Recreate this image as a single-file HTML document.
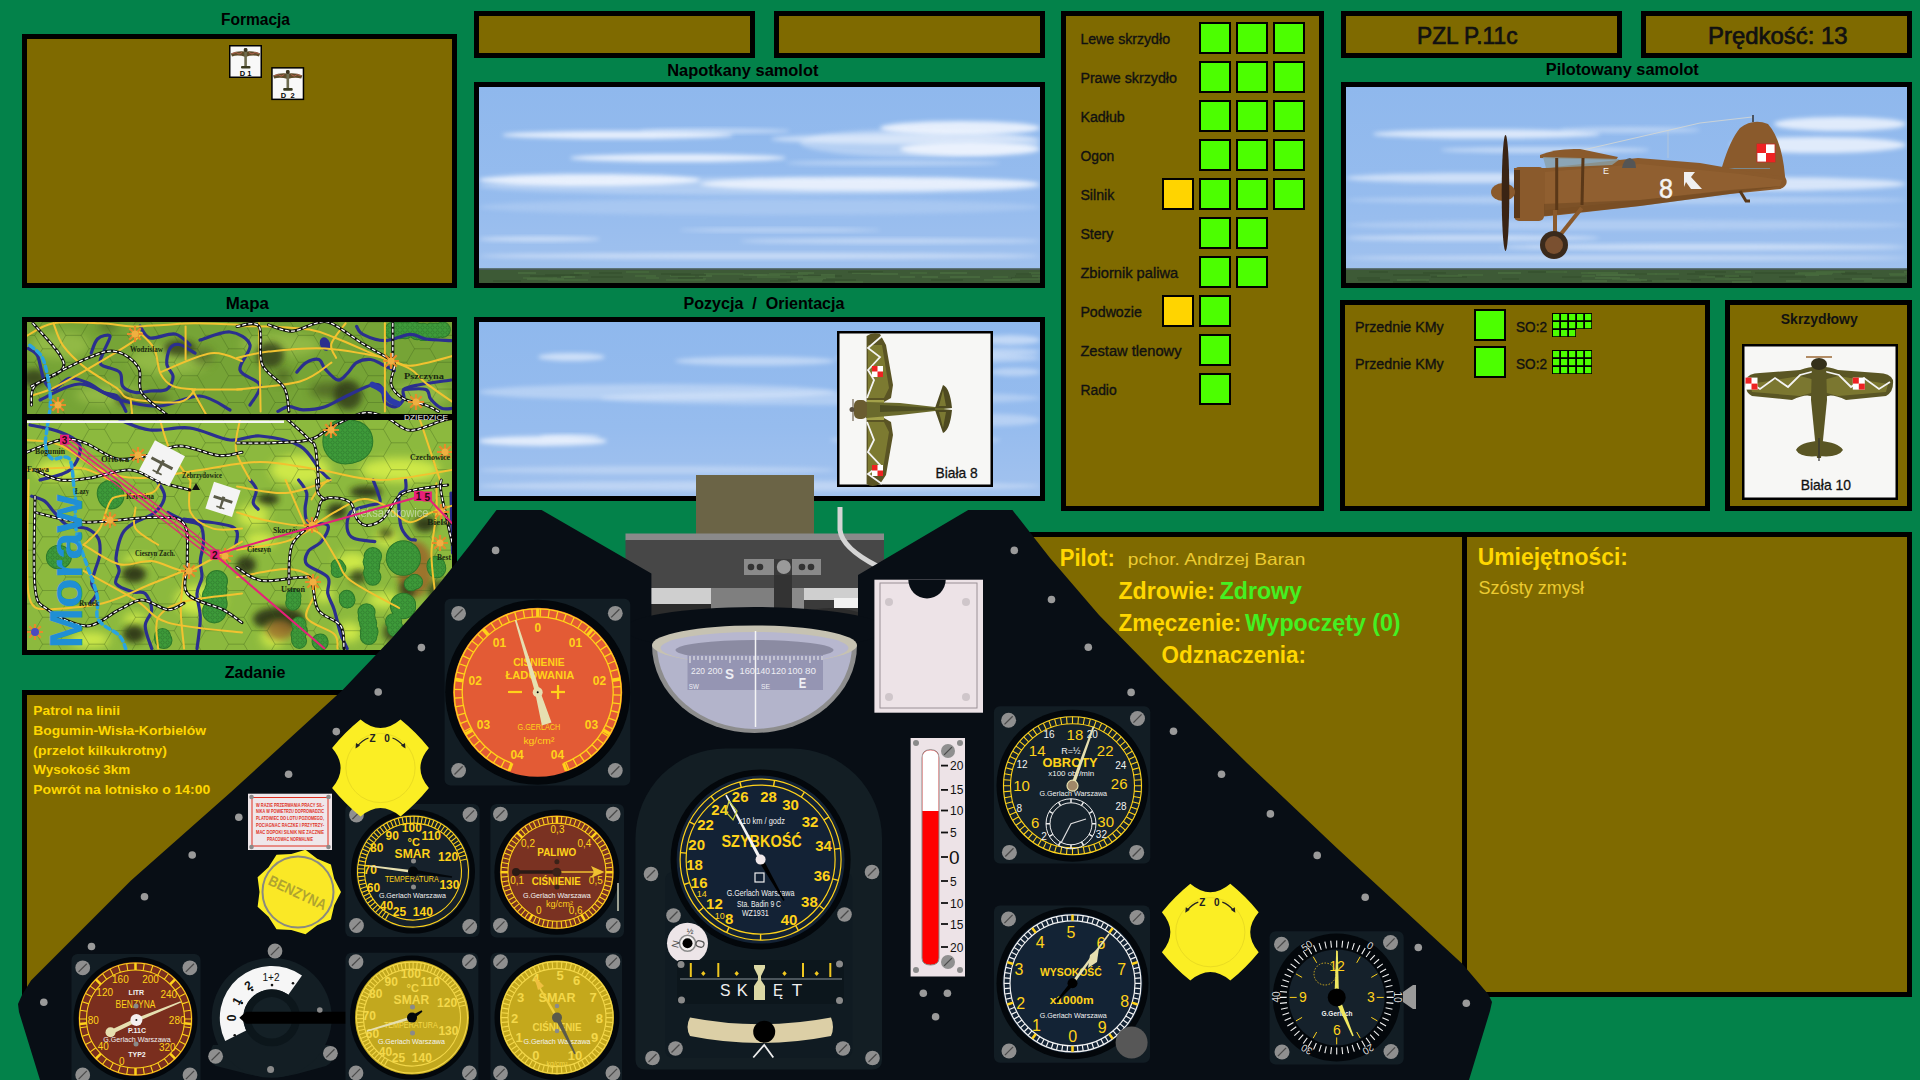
<!DOCTYPE html>
<html><head><meta charset="utf-8">
<style>
*{margin:0;padding:0}
html,body{width:1920px;height:1080px;overflow:hidden;background:#03824a}
svg{position:absolute;left:0;top:0;display:block}
</style></head><body>
<svg width="1920" height="1080" viewBox="0 0 1920 1080">
<rect x="0" y="0" width="1920" height="1080" fill="#03824a"/>
<defs><linearGradient id="skyg" x1="0" y1="0" x2="0" y2="1"><stop offset="0" stop-color="#8fb8ed"/><stop offset="0.6" stop-color="#96bcee"/><stop offset="1" stop-color="#a2c2ee"/></linearGradient><filter id="blur2" x="-20%" y="-50%" width="140%" height="200%"><feGaussianBlur stdDeviation="2"/></filter><filter id="blur1"><feGaussianBlur stdDeviation="1"/></filter><filter id="blur4" x="-20%" y="-50%" width="140%" height="200%"><feGaussianBlur stdDeviation="4"/></filter></defs>
<text x="220.9" y="24.7" font-family="Liberation Sans" font-size="16" font-weight="bold" fill="#000" text-anchor="start" textLength="69.1" lengthAdjust="spacingAndGlyphs" >Formacja</text>
<text x="667.2" y="76.0" font-family="Liberation Sans" font-size="16" font-weight="bold" fill="#000" text-anchor="start" textLength="151.2" lengthAdjust="spacingAndGlyphs" >Napotkany samolot</text>
<text x="1545.8" y="75.0" font-family="Liberation Sans" font-size="16" font-weight="bold" fill="#000" text-anchor="start" textLength="153.0" lengthAdjust="spacingAndGlyphs" >Pilotowany samolot</text>
<text x="225.8" y="308.8" font-family="Liberation Sans" font-size="16" font-weight="bold" fill="#000" text-anchor="start" textLength="43.2" lengthAdjust="spacingAndGlyphs" >Mapa</text>
<text x="683.5" y="308.8" font-family="Liberation Sans" font-size="16" font-weight="bold" fill="#000" text-anchor="start" textLength="161.0" lengthAdjust="spacingAndGlyphs" xml:space="preserve">Pozycja  /  Orientacja</text>
<text x="224.8" y="677.7" font-family="Liberation Sans" font-size="16" font-weight="bold" fill="#000" text-anchor="start" textLength="60.7" lengthAdjust="spacingAndGlyphs" >Zadanie</text>
<rect x="22" y="34" width="435" height="254" fill="#000"/>
<rect x="27" y="39" width="425" height="244" fill="#7f6a00"/>
<rect x="474" y="11" width="281" height="47" fill="#000"/>
<rect x="479" y="16" width="271" height="37" fill="#7f6a00"/>
<rect x="774" y="11" width="271" height="47" fill="#000"/>
<rect x="779" y="16" width="261" height="37" fill="#7f6a00"/>
<rect x="1341" y="11" width="281" height="47" fill="#000"/>
<rect x="1346" y="16" width="271" height="37" fill="#7f6a00"/>
<rect x="1641" y="11" width="271" height="47" fill="#000"/>
<rect x="1646" y="16" width="261" height="37" fill="#7f6a00"/>
<text x="1417.0" y="43.8" font-family="Liberation Sans" font-size="24" font-weight="normal" fill="#111" text-anchor="start" textLength="100.5" lengthAdjust="spacingAndGlyphs" stroke="#111" stroke-width="0.7" >PZL P.11c</text>
<text x="1708.0" y="43.8" font-family="Liberation Sans" font-size="24" font-weight="normal" fill="#111" text-anchor="start" textLength="139.5" lengthAdjust="spacingAndGlyphs" stroke="#111" stroke-width="0.7" >Prędkość: 13</text>
<rect x="22" y="690" width="470" height="307" fill="#000"/>
<rect x="27" y="695" width="460" height="297" fill="#7f6a00"/>
<rect x="960" y="532" width="508" height="465" fill="#000"/>
<rect x="965" y="537" width="498" height="455" fill="#7f6a00"/>
<rect x="1462" y="532" width="450" height="465" fill="#000"/>
<rect x="1467" y="537" width="440" height="455" fill="#7f6a00"/>
<text x="33.3" y="715.3" font-family="Liberation Sans" font-size="13" font-weight="bold" fill="#ffd700" text-anchor="start" textLength="86.7" lengthAdjust="spacingAndGlyphs" >Patrol na linii</text>
<text x="33.3" y="735.0" font-family="Liberation Sans" font-size="13" font-weight="bold" fill="#ffd700" text-anchor="start" textLength="172.7" lengthAdjust="spacingAndGlyphs" >Bogumin-Wisła-Korbielów</text>
<text x="33.3" y="754.6" font-family="Liberation Sans" font-size="13" font-weight="bold" fill="#ffd700" text-anchor="start" textLength="133.7" lengthAdjust="spacingAndGlyphs" >(przelot kilkukrotny)</text>
<text x="33.3" y="774.2" font-family="Liberation Sans" font-size="13" font-weight="bold" fill="#ffd700" text-anchor="start" textLength="97.0" lengthAdjust="spacingAndGlyphs" >Wysokość 3km</text>
<text x="33.3" y="793.6" font-family="Liberation Sans" font-size="13" font-weight="bold" fill="#ffd700" text-anchor="start" textLength="177.0" lengthAdjust="spacingAndGlyphs" >Powrót na lotnisko o 14:00</text>
<text x="1059.7" y="565.7" font-family="Liberation Sans" font-size="23" font-weight="bold" fill="#ffd700" text-anchor="start" textLength="55.1" lengthAdjust="spacingAndGlyphs" >Pilot:</text>
<text x="1127.8" y="565.3" font-family="Liberation Sans" font-size="17" font-weight="normal" fill="#ecca30" text-anchor="start" textLength="177.6" lengthAdjust="spacingAndGlyphs" >pchor. Andrzej Baran</text>
<text x="1118.4" y="598.8" font-family="Liberation Sans" font-size="24" font-weight="bold" fill="#ffd700" text-anchor="start" textLength="96.6" lengthAdjust="spacingAndGlyphs" >Zdrowie:</text>
<text x="1219.7" y="598.8" font-family="Liberation Sans" font-size="24" font-weight="bold" fill="#44f022" text-anchor="start" textLength="82.3" lengthAdjust="spacingAndGlyphs" >Zdrowy</text>
<text x="1118.4" y="631.0" font-family="Liberation Sans" font-size="24" font-weight="bold" fill="#ffd700" text-anchor="start" textLength="122.9" lengthAdjust="spacingAndGlyphs" >Zmęczenie:</text>
<text x="1245.0" y="631.0" font-family="Liberation Sans" font-size="24" font-weight="bold" fill="#44f022" text-anchor="start" textLength="155.6" lengthAdjust="spacingAndGlyphs" >Wypoczęty (0)</text>
<text x="1161.6" y="662.8" font-family="Liberation Sans" font-size="24" font-weight="bold" fill="#ffd700" text-anchor="start" textLength="144.4" lengthAdjust="spacingAndGlyphs" >Odznaczenia:</text>
<text x="1477.7" y="564.9" font-family="Liberation Sans" font-size="23" font-weight="bold" fill="#ffd700" text-anchor="start" textLength="150.2" lengthAdjust="spacingAndGlyphs" >Umiejętności:</text>
<text x="1478.5" y="593.5" font-family="Liberation Sans" font-size="18" font-weight="normal" fill="#ecca30" text-anchor="start" textLength="105.5" lengthAdjust="spacingAndGlyphs" >Szósty zmysł</text>
<rect x="1061" y="11" width="263" height="500" fill="#000"/>
<rect x="1066" y="16" width="253" height="490" fill="#7f6a00"/>
<text x="1080.4" y="43.6" font-family="Liberation Sans" font-size="14" font-weight="normal" fill="#111" text-anchor="start" textLength="89.6" lengthAdjust="spacingAndGlyphs" stroke="#111" stroke-width="0.35" >Lewe skrzydło</text>
<rect x="1199" y="22" width="32" height="32" fill="#000"/><rect x="1201" y="24" width="28" height="28" fill="#4cff00"/>
<rect x="1236" y="22" width="32" height="32" fill="#000"/><rect x="1238" y="24" width="28" height="28" fill="#4cff00"/>
<rect x="1273" y="22" width="32" height="32" fill="#000"/><rect x="1275" y="24" width="28" height="28" fill="#4cff00"/>
<text x="1080.4" y="82.6" font-family="Liberation Sans" font-size="14" font-weight="normal" fill="#111" text-anchor="start" textLength="96.5" lengthAdjust="spacingAndGlyphs" stroke="#111" stroke-width="0.35" >Prawe skrzydło</text>
<rect x="1199" y="61" width="32" height="32" fill="#000"/><rect x="1201" y="63" width="28" height="28" fill="#4cff00"/>
<rect x="1236" y="61" width="32" height="32" fill="#000"/><rect x="1238" y="63" width="28" height="28" fill="#4cff00"/>
<rect x="1273" y="61" width="32" height="32" fill="#000"/><rect x="1275" y="63" width="28" height="28" fill="#4cff00"/>
<text x="1080.4" y="121.6" font-family="Liberation Sans" font-size="14" font-weight="normal" fill="#111" text-anchor="start" textLength="44.4" lengthAdjust="spacingAndGlyphs" stroke="#111" stroke-width="0.35" >Kadłub</text>
<rect x="1199" y="100" width="32" height="32" fill="#000"/><rect x="1201" y="102" width="28" height="28" fill="#4cff00"/>
<rect x="1236" y="100" width="32" height="32" fill="#000"/><rect x="1238" y="102" width="28" height="28" fill="#4cff00"/>
<rect x="1273" y="100" width="32" height="32" fill="#000"/><rect x="1275" y="102" width="28" height="28" fill="#4cff00"/>
<text x="1080.4" y="160.6" font-family="Liberation Sans" font-size="14" font-weight="normal" fill="#111" text-anchor="start" textLength="33.9" lengthAdjust="spacingAndGlyphs" stroke="#111" stroke-width="0.35" >Ogon</text>
<rect x="1199" y="139" width="32" height="32" fill="#000"/><rect x="1201" y="141" width="28" height="28" fill="#4cff00"/>
<rect x="1236" y="139" width="32" height="32" fill="#000"/><rect x="1238" y="141" width="28" height="28" fill="#4cff00"/>
<rect x="1273" y="139" width="32" height="32" fill="#000"/><rect x="1275" y="141" width="28" height="28" fill="#4cff00"/>
<text x="1080.4" y="199.6" font-family="Liberation Sans" font-size="14" font-weight="normal" fill="#111" text-anchor="start" textLength="33.9" lengthAdjust="spacingAndGlyphs" stroke="#111" stroke-width="0.35" >Silnik</text>
<rect x="1162" y="178" width="32" height="32" fill="#000"/><rect x="1164" y="180" width="28" height="28" fill="#ffd400"/>
<rect x="1199" y="178" width="32" height="32" fill="#000"/><rect x="1201" y="180" width="28" height="28" fill="#4cff00"/>
<rect x="1236" y="178" width="32" height="32" fill="#000"/><rect x="1238" y="180" width="28" height="28" fill="#4cff00"/>
<rect x="1273" y="178" width="32" height="32" fill="#000"/><rect x="1275" y="180" width="28" height="28" fill="#4cff00"/>
<text x="1080.4" y="238.6" font-family="Liberation Sans" font-size="14" font-weight="normal" fill="#111" text-anchor="start" textLength="33.0" lengthAdjust="spacingAndGlyphs" stroke="#111" stroke-width="0.35" >Stery</text>
<rect x="1199" y="217" width="32" height="32" fill="#000"/><rect x="1201" y="219" width="28" height="28" fill="#4cff00"/>
<rect x="1236" y="217" width="32" height="32" fill="#000"/><rect x="1238" y="219" width="28" height="28" fill="#4cff00"/>
<text x="1080.4" y="277.6" font-family="Liberation Sans" font-size="14" font-weight="normal" fill="#111" text-anchor="start" textLength="97.8" lengthAdjust="spacingAndGlyphs" stroke="#111" stroke-width="0.35" >Zbiornik paliwa</text>
<rect x="1199" y="256" width="32" height="32" fill="#000"/><rect x="1201" y="258" width="28" height="28" fill="#4cff00"/>
<rect x="1236" y="256" width="32" height="32" fill="#000"/><rect x="1238" y="258" width="28" height="28" fill="#4cff00"/>
<text x="1080.4" y="316.6" font-family="Liberation Sans" font-size="14" font-weight="normal" fill="#111" text-anchor="start" textLength="61.5" lengthAdjust="spacingAndGlyphs" stroke="#111" stroke-width="0.35" >Podwozie</text>
<rect x="1162" y="295" width="32" height="32" fill="#000"/><rect x="1164" y="297" width="28" height="28" fill="#ffd400"/>
<rect x="1199" y="295" width="32" height="32" fill="#000"/><rect x="1201" y="297" width="28" height="28" fill="#4cff00"/>
<text x="1080.4" y="355.6" font-family="Liberation Sans" font-size="14" font-weight="normal" fill="#111" text-anchor="start" textLength="101.1" lengthAdjust="spacingAndGlyphs" stroke="#111" stroke-width="0.35" >Zestaw tlenowy</text>
<rect x="1199" y="334" width="32" height="32" fill="#000"/><rect x="1201" y="336" width="28" height="28" fill="#4cff00"/>
<text x="1080.4" y="394.6" font-family="Liberation Sans" font-size="14" font-weight="normal" fill="#111" text-anchor="start" textLength="36.3" lengthAdjust="spacingAndGlyphs" stroke="#111" stroke-width="0.35" >Radio</text>
<rect x="1199" y="373" width="32" height="32" fill="#000"/><rect x="1201" y="375" width="28" height="28" fill="#4cff00"/>
<rect x="1340" y="300" width="370" height="211" fill="#000"/>
<rect x="1345" y="305" width="360" height="201" fill="#7f6a00"/>
<text x="1355.0" y="332.1" font-family="Liberation Sans" font-size="14" font-weight="normal" fill="#111" text-anchor="start" textLength="88.7" lengthAdjust="spacingAndGlyphs" stroke="#111" stroke-width="0.35" >Przednie KMy</text>
<rect x="1474" y="309" width="32" height="32" fill="#000"/><rect x="1476" y="311" width="28" height="28" fill="#4cff00"/>
<text x="1516.0" y="332.1" font-family="Liberation Sans" font-size="14" font-weight="normal" fill="#111" text-anchor="start" textLength="31.0" lengthAdjust="spacingAndGlyphs" stroke="#111" stroke-width="0.35" >SO:2</text>
<rect x="1552" y="313" width="8" height="8" fill="#000"/><rect x="1553" y="314" width="6.2" height="6.2" fill="#4cff00"/>
<rect x="1560" y="313" width="8" height="8" fill="#000"/><rect x="1561" y="314" width="6.2" height="6.2" fill="#4cff00"/>
<rect x="1568" y="313" width="8" height="8" fill="#000"/><rect x="1569" y="314" width="6.2" height="6.2" fill="#4cff00"/>
<rect x="1576" y="313" width="8" height="8" fill="#000"/><rect x="1577" y="314" width="6.2" height="6.2" fill="#4cff00"/>
<rect x="1584" y="313" width="8" height="8" fill="#000"/><rect x="1585" y="314" width="6.2" height="6.2" fill="#4cff00"/>
<rect x="1552" y="321" width="8" height="8" fill="#000"/><rect x="1553" y="322" width="6.2" height="6.2" fill="#4cff00"/>
<rect x="1560" y="321" width="8" height="8" fill="#000"/><rect x="1561" y="322" width="6.2" height="6.2" fill="#4cff00"/>
<rect x="1568" y="321" width="8" height="8" fill="#000"/><rect x="1569" y="322" width="6.2" height="6.2" fill="#4cff00"/>
<rect x="1576" y="321" width="8" height="8" fill="#000"/><rect x="1577" y="322" width="6.2" height="6.2" fill="#4cff00"/>
<rect x="1584" y="321" width="8" height="8" fill="#000"/><rect x="1585" y="322" width="6.2" height="6.2" fill="#4cff00"/>
<rect x="1552" y="329" width="8" height="8" fill="#000"/><rect x="1553" y="330" width="6.2" height="6.2" fill="#4cff00"/>
<rect x="1560" y="329" width="8" height="8" fill="#000"/><rect x="1561" y="330" width="6.2" height="6.2" fill="#4cff00"/>
<rect x="1568" y="329" width="8" height="8" fill="#000"/><rect x="1569" y="330" width="6.2" height="6.2" fill="#4cff00"/>
<text x="1355.0" y="369.0" font-family="Liberation Sans" font-size="14" font-weight="normal" fill="#111" text-anchor="start" textLength="88.7" lengthAdjust="spacingAndGlyphs" stroke="#111" stroke-width="0.35" >Przednie KMy</text>
<rect x="1474" y="346" width="32" height="32" fill="#000"/><rect x="1476" y="348" width="28" height="28" fill="#4cff00"/>
<text x="1516.0" y="369.0" font-family="Liberation Sans" font-size="14" font-weight="normal" fill="#111" text-anchor="start" textLength="31.0" lengthAdjust="spacingAndGlyphs" stroke="#111" stroke-width="0.35" >SO:2</text>
<rect x="1552" y="350" width="8" height="8" fill="#000"/><rect x="1553" y="351" width="6.2" height="6.2" fill="#4cff00"/>
<rect x="1560" y="350" width="8" height="8" fill="#000"/><rect x="1561" y="351" width="6.2" height="6.2" fill="#4cff00"/>
<rect x="1568" y="350" width="8" height="8" fill="#000"/><rect x="1569" y="351" width="6.2" height="6.2" fill="#4cff00"/>
<rect x="1576" y="350" width="8" height="8" fill="#000"/><rect x="1577" y="351" width="6.2" height="6.2" fill="#4cff00"/>
<rect x="1584" y="350" width="8" height="8" fill="#000"/><rect x="1585" y="351" width="6.2" height="6.2" fill="#4cff00"/>
<rect x="1552" y="358" width="8" height="8" fill="#000"/><rect x="1553" y="359" width="6.2" height="6.2" fill="#4cff00"/>
<rect x="1560" y="358" width="8" height="8" fill="#000"/><rect x="1561" y="359" width="6.2" height="6.2" fill="#4cff00"/>
<rect x="1568" y="358" width="8" height="8" fill="#000"/><rect x="1569" y="359" width="6.2" height="6.2" fill="#4cff00"/>
<rect x="1576" y="358" width="8" height="8" fill="#000"/><rect x="1577" y="359" width="6.2" height="6.2" fill="#4cff00"/>
<rect x="1584" y="358" width="8" height="8" fill="#000"/><rect x="1585" y="359" width="6.2" height="6.2" fill="#4cff00"/>
<rect x="1552" y="366" width="8" height="8" fill="#000"/><rect x="1553" y="367" width="6.2" height="6.2" fill="#4cff00"/>
<rect x="1560" y="366" width="8" height="8" fill="#000"/><rect x="1561" y="367" width="6.2" height="6.2" fill="#4cff00"/>
<rect x="1568" y="366" width="8" height="8" fill="#000"/><rect x="1569" y="367" width="6.2" height="6.2" fill="#4cff00"/>
<rect x="1576" y="366" width="8" height="8" fill="#000"/><rect x="1577" y="367" width="6.2" height="6.2" fill="#4cff00"/>
<rect x="1584" y="366" width="8" height="8" fill="#000"/><rect x="1585" y="367" width="6.2" height="6.2" fill="#4cff00"/>
<rect x="1725" y="300" width="187" height="211" fill="#000"/>
<rect x="1730" y="305" width="177" height="201" fill="#7f6a00"/>
<text x="1780.8" y="323.8" font-family="Liberation Sans" font-size="14" font-weight="bold" fill="#111" text-anchor="start" textLength="76.9" lengthAdjust="spacingAndGlyphs" >Skrzydłowy</text>
<rect x="1742" y="344" width="156" height="156" fill="#000"/><rect x="1744.5" y="346.5" width="151" height="151" fill="#f7f7f5"/>
<text x="1800.8" y="489.8" font-family="Liberation Sans" font-size="15" font-weight="normal" fill="#111" text-anchor="start" textLength="50.1" lengthAdjust="spacingAndGlyphs" stroke="#111" stroke-width="0.3" >Biała 10</text>
<rect x="474" y="82" width="571" height="206" fill="#000"/>
<rect x="479" y="87" width="561" height="196" fill="#7f6a00"/>
<clipPath id="sk1"><rect x="479" y="87" width="561" height="196"/></clipPath>
<g clip-path="url(#sk1)">
<rect x="479" y="87" width="561" height="196" fill="url(#skyg)"/>
<ellipse cx="617.5" cy="135.0" rx="115.5" ry="4.0" fill="#f4f8ff" opacity="0.85" filter="url(#blur2)"/>
<ellipse cx="715.0" cy="131.0" rx="75.0" ry="2.5" fill="#f4f8ff" opacity="0.5" filter="url(#blur2)"/>
<ellipse cx="905.5" cy="139.0" rx="134.5" ry="5.0" fill="#f4f8ff" opacity="0.55" filter="url(#blur2)"/>
<ellipse cx="960.0" cy="128.0" rx="80.0" ry="7.0" fill="#f4f8ff" opacity="0.85" filter="url(#blur2)"/>
<ellipse cx="970.0" cy="149.0" rx="70.0" ry="7.0" fill="#f4f8ff" opacity="0.85" filter="url(#blur2)"/>
<ellipse cx="920.0" cy="143.0" rx="120.0" ry="14.0" fill="#f4f8ff" opacity="0.35" filter="url(#blur2)"/>
<ellipse cx="678.0" cy="158.0" rx="108.0" ry="4.0" fill="#f4f8ff" opacity="0.85" filter="url(#blur2)"/>
<ellipse cx="893.0" cy="163.0" rx="107.0" ry="2.5" fill="#f4f8ff" opacity="0.4" filter="url(#blur2)"/>
<ellipse cx="589.5" cy="180.0" rx="110.5" ry="6.0" fill="#f4f8ff" opacity="0.85" filter="url(#blur2)"/>
<ellipse cx="870.0" cy="184.0" rx="170.0" ry="7.0" fill="#f4f8ff" opacity="0.8" filter="url(#blur2)"/>
<ellipse cx="759.5" cy="186.0" rx="280.5" ry="9.0" fill="#f4f8ff" opacity="0.3" filter="url(#blur2)"/>
<ellipse cx="759.5" cy="207.0" rx="280.5" ry="8.0" fill="#f4f8ff" opacity="0.18" filter="url(#blur2)"/>
<ellipse cx="780.0" cy="230.0" rx="100.0" ry="2.0" fill="#f4f8ff" opacity="0.4" filter="url(#blur2)"/>
<ellipse cx="539.5" cy="239.0" rx="60.5" ry="2.5" fill="#f4f8ff" opacity="0.55" filter="url(#blur2)"/>
<ellipse cx="890.0" cy="241.0" rx="150.0" ry="2.5" fill="#f4f8ff" opacity="0.45" filter="url(#blur2)"/>
<ellipse cx="759.5" cy="256.0" rx="280.5" ry="3.0" fill="#f4f8ff" opacity="0.5" filter="url(#blur2)"/>
<rect x="479" y="268.5" width="561" height="14.5" fill="#3d5a36"/>
<rect x="479" y="268.5" width="561" height="1.5" fill="#4a5a5a"/>
<rect x="661" y="273" width="30" height="2" fill="#34502e" opacity="0.7"/>
<rect x="940" y="272" width="27" height="2" fill="#4a6e40" opacity="0.7"/>
<rect x="599" y="272" width="23" height="2" fill="#34502e" opacity="0.7"/>
<rect x="530" y="275" width="35" height="2" fill="#34502e" opacity="0.7"/>
<rect x="1011" y="277" width="27" height="2" fill="#34502e" opacity="0.7"/>
<rect x="803" y="275" width="39" height="2" fill="#34502e" opacity="0.7"/>
<rect x="791" y="272" width="23" height="2" fill="#4a6e40" opacity="0.7"/>
<rect x="545" y="274" width="34" height="2" fill="#34502e" opacity="0.7"/>
<rect x="537" y="277" width="16" height="2" fill="#34502e" opacity="0.7"/>
<rect x="786" y="272" width="12" height="2" fill="#34502e" opacity="0.7"/>
<rect x="757" y="276" width="33" height="2" fill="#466a3c" opacity="0.7"/>
<rect x="808" y="276" width="19" height="2" fill="#34502e" opacity="0.7"/>
<rect x="871" y="273" width="27" height="2" fill="#4a6e40" opacity="0.7"/>
<rect x="757" y="274" width="23" height="2" fill="#4a6e40" opacity="0.7"/>
<rect x="1029" y="272" width="23" height="2" fill="#466a3c" opacity="0.7"/>
<rect x="564" y="276" width="11" height="2" fill="#4a6e40" opacity="0.7"/>
<rect x="523" y="277" width="34" height="2" fill="#466a3c" opacity="0.7"/>
<rect x="670" y="275" width="25" height="2" fill="#466a3c" opacity="0.7"/>
<rect x="518" y="272" width="18" height="2" fill="#4a6e40" opacity="0.7"/>
<rect x="852" y="272" width="31" height="2" fill="#4a6e40" opacity="0.7"/>
<rect x="803" y="278" width="23" height="2" fill="#4a6e40" opacity="0.7"/>
<rect x="695" y="278" width="11" height="2" fill="#466a3c" opacity="0.7"/>
<rect x="678" y="277" width="25" height="2" fill="#34502e" opacity="0.7"/>
<rect x="910" y="272" width="17" height="2" fill="#466a3c" opacity="0.7"/>
<rect x="993" y="276" width="15" height="2" fill="#466a3c" opacity="0.7"/>
<rect x="787" y="280" width="35" height="2" fill="#4a6e40" opacity="0.7"/>
<rect x="635" y="275" width="21" height="2" fill="#466a3c" opacity="0.7"/>
<rect x="1016" y="273" width="15" height="2" fill="#34502e" opacity="0.7"/>
<rect x="848" y="271" width="35" height="2" fill="#34502e" opacity="0.7"/>
<rect x="626" y="271" width="23" height="2" fill="#466a3c" opacity="0.7"/>
<rect x="821" y="274" width="14" height="2" fill="#4a6e40" opacity="0.7"/>
<rect x="1012" y="278" width="32" height="2" fill="#466a3c" opacity="0.7"/>
<rect x="984" y="279" width="36" height="2" fill="#4a6e40" opacity="0.7"/>
<rect x="699" y="275" width="13" height="2" fill="#4a6e40" opacity="0.7"/>
<rect x="704" y="273" width="40" height="2" fill="#466a3c" opacity="0.7"/>
<rect x="570" y="274" width="12" height="2" fill="#34502e" opacity="0.7"/>
<rect x="797" y="276" width="38" height="2" fill="#4a6e40" opacity="0.7"/>
<rect x="493" y="280" width="28" height="2" fill="#34502e" opacity="0.7"/>
<rect x="835" y="281" width="28" height="2" fill="#466a3c" opacity="0.7"/>
<rect x="548" y="279" width="40" height="2" fill="#466a3c" opacity="0.7"/>
<rect x="749" y="274" width="14" height="2" fill="#4a6e40" opacity="0.7"/>
<rect x="671" y="274" width="35" height="2" fill="#34502e" opacity="0.7"/>
<rect x="769" y="273" width="39" height="2" fill="#466a3c" opacity="0.7"/>
<rect x="561" y="276" width="11" height="2" fill="#4a6e40" opacity="0.7"/>
<rect x="646" y="277" width="13" height="2" fill="#466a3c" opacity="0.7"/>
<rect x="770" y="280" width="21" height="2" fill="#34502e" opacity="0.7"/>
<rect x="778" y="279" width="20" height="2" fill="#34502e" opacity="0.7"/>
<rect x="823" y="279" width="33" height="2" fill="#34502e" opacity="0.7"/>
<rect x="931" y="279" width="32" height="2" fill="#34502e" opacity="0.7"/>
<rect x="591" y="276" width="32" height="2" fill="#34502e" opacity="0.7"/>
<rect x="922" y="276" width="16" height="2" fill="#4a6e40" opacity="0.7"/>
<rect x="1016" y="275" width="38" height="2" fill="#466a3c" opacity="0.7"/>
<rect x="1015" y="275" width="17" height="2" fill="#34502e" opacity="0.7"/>
<rect x="743" y="274" width="24" height="2" fill="#4a6e40" opacity="0.7"/>
<rect x="950" y="276" width="30" height="2" fill="#4a6e40" opacity="0.7"/>
<rect x="527" y="278" width="37" height="2" fill="#4a6e40" opacity="0.7"/>
<rect x="900" y="276" width="15" height="2" fill="#4a6e40" opacity="0.7"/>
<rect x="666" y="279" width="39" height="2" fill="#466a3c" opacity="0.7"/>
<rect x="739" y="278" width="13" height="2" fill="#34502e" opacity="0.7"/>
<rect x="574" y="272" width="15" height="2" fill="#466a3c" opacity="0.7"/>
</g>
<rect x="474" y="317" width="571" height="184" fill="#000"/>
<rect x="479" y="322" width="561" height="174" fill="#7f6a00"/>
<clipPath id="sk2"><rect x="479" y="322" width="561" height="174"/></clipPath>
<g clip-path="url(#sk2)">
<rect x="479" y="322" width="561" height="174" fill="url(#skyg)"/>
<ellipse cx="571.5" cy="357.0" rx="33.5" ry="4.0" fill="#f4f8ff" opacity="0.6" filter="url(#blur2)"/>
<ellipse cx="755.0" cy="361.0" rx="80.0" ry="4.5" fill="#f4f8ff" opacity="0.45" filter="url(#blur2)"/>
<ellipse cx="937.5" cy="358.0" rx="102.5" ry="5.0" fill="#f4f8ff" opacity="0.4" filter="url(#blur2)"/>
<ellipse cx="1010.0" cy="340.0" rx="30.0" ry="5.0" fill="#f4f8ff" opacity="0.5" filter="url(#blur2)"/>
<ellipse cx="1000.0" cy="352.0" rx="40.0" ry="4.0" fill="#f4f8ff" opacity="0.4" filter="url(#blur2)"/>
<ellipse cx="1015.0" cy="372.0" rx="25.0" ry="4.0" fill="#f4f8ff" opacity="0.4" filter="url(#blur2)"/>
<ellipse cx="657.0" cy="392.0" rx="178.0" ry="8.0" fill="#f4f8ff" opacity="0.35" filter="url(#blur2)"/>
<ellipse cx="820.0" cy="398.0" rx="220.0" ry="7.0" fill="#f4f8ff" opacity="0.3" filter="url(#blur2)"/>
<ellipse cx="543.0" cy="441.0" rx="64.0" ry="5.0" fill="#f4f8ff" opacity="0.8" filter="url(#blur2)"/>
<ellipse cx="570.0" cy="437.0" rx="30.0" ry="2.5" fill="#f4f8ff" opacity="0.6" filter="url(#blur2)"/>
<ellipse cx="915.0" cy="440.0" rx="85.0" ry="5.0" fill="#f4f8ff" opacity="0.3" filter="url(#blur2)"/>
<ellipse cx="657.0" cy="470.0" rx="178.0" ry="4.0" fill="#f4f8ff" opacity="0.3" filter="url(#blur2)"/>
<ellipse cx="759.5" cy="486.0" rx="280.5" ry="5.0" fill="#f4f8ff" opacity="0.35" filter="url(#blur2)"/>
<ellipse cx="995.0" cy="420.0" rx="45.0" ry="6.0" fill="#f4f8ff" opacity="0.35" filter="url(#blur2)"/>
</g>
<rect x="1341" y="82" width="571" height="206" fill="#000"/>
<rect x="1346" y="87" width="561" height="196" fill="#7f6a00"/>
<clipPath id="sk3"><rect x="1346" y="87" width="561" height="196"/></clipPath>
<g clip-path="url(#sk3)">
<rect x="1346" y="87" width="561" height="196" fill="url(#skyg)"/>
<ellipse cx="1486.5" cy="134.0" rx="113.5" ry="4.5" fill="#f4f8ff" opacity="0.75" filter="url(#blur2)"/>
<ellipse cx="1630.0" cy="130.0" rx="70.0" ry="3.0" fill="#f4f8ff" opacity="0.4" filter="url(#blur2)"/>
<ellipse cx="1840.0" cy="124.0" rx="66.0" ry="7.0" fill="#f4f8ff" opacity="0.8" filter="url(#blur2)"/>
<ellipse cx="1818.0" cy="145.0" rx="88.0" ry="8.0" fill="#f4f8ff" opacity="0.8" filter="url(#blur2)"/>
<ellipse cx="1545.0" cy="150.0" rx="105.0" ry="3.0" fill="#f4f8ff" opacity="0.5" filter="url(#blur2)"/>
<ellipse cx="1473.0" cy="178.0" rx="127.0" ry="5.0" fill="#f4f8ff" opacity="0.6" filter="url(#blur2)"/>
<ellipse cx="1753.0" cy="184.0" rx="153.0" ry="7.0" fill="#f4f8ff" opacity="0.7" filter="url(#blur2)"/>
<ellipse cx="1626.0" cy="200.0" rx="280.0" ry="4.0" fill="#f4f8ff" opacity="0.3" filter="url(#blur2)"/>
<ellipse cx="1626.0" cy="225.0" rx="280.0" ry="5.0" fill="#f4f8ff" opacity="0.25" filter="url(#blur2)"/>
<ellipse cx="1473.0" cy="238.0" rx="127.0" ry="3.0" fill="#f4f8ff" opacity="0.5" filter="url(#blur2)"/>
<ellipse cx="1703.0" cy="247.0" rx="203.0" ry="3.0" fill="#f4f8ff" opacity="0.55" filter="url(#blur2)"/>
<ellipse cx="1626.0" cy="258.0" rx="280.0" ry="2.5" fill="#f4f8ff" opacity="0.45" filter="url(#blur2)"/>
<rect x="1346" y="268.5" width="561" height="14.5" fill="#3d5a36"/>
<rect x="1346" y="268.5" width="561" height="1.5" fill="#4a5a5a"/>
<rect x="1798" y="272" width="35" height="2" fill="#466a3c" opacity="0.7"/>
<rect x="1715" y="275" width="26" height="2" fill="#34502e" opacity="0.7"/>
<rect x="1358" y="279" width="32" height="2" fill="#34502e" opacity="0.7"/>
<rect x="1641" y="280" width="23" height="2" fill="#34502e" opacity="0.7"/>
<rect x="1809" y="273" width="18" height="2" fill="#466a3c" opacity="0.7"/>
<rect x="1627" y="279" width="20" height="2" fill="#4a6e40" opacity="0.7"/>
<rect x="1581" y="272" width="37" height="2" fill="#466a3c" opacity="0.7"/>
<rect x="1850" y="278" width="34" height="2" fill="#4a6e40" opacity="0.7"/>
<rect x="1582" y="280" width="25" height="2" fill="#4a6e40" opacity="0.7"/>
<rect x="1431" y="276" width="36" height="2" fill="#34502e" opacity="0.7"/>
<rect x="1687" y="279" width="14" height="2" fill="#34502e" opacity="0.7"/>
<rect x="1612" y="278" width="27" height="2" fill="#466a3c" opacity="0.7"/>
<rect x="1729" y="276" width="24" height="2" fill="#34502e" opacity="0.7"/>
<rect x="1841" y="272" width="16" height="2" fill="#34502e" opacity="0.7"/>
<rect x="1779" y="276" width="27" height="2" fill="#34502e" opacity="0.7"/>
<rect x="1595" y="277" width="25" height="2" fill="#4a6e40" opacity="0.7"/>
<rect x="1458" y="274" width="25" height="2" fill="#466a3c" opacity="0.7"/>
<rect x="1631" y="273" width="26" height="2" fill="#466a3c" opacity="0.7"/>
<rect x="1864" y="280" width="16" height="2" fill="#466a3c" opacity="0.7"/>
<rect x="1423" y="272" width="23" height="2" fill="#34502e" opacity="0.7"/>
<rect x="1723" y="275" width="16" height="2" fill="#466a3c" opacity="0.7"/>
<rect x="1786" y="280" width="15" height="2" fill="#4a6e40" opacity="0.7"/>
<rect x="1707" y="275" width="18" height="2" fill="#34502e" opacity="0.7"/>
<rect x="1889" y="273" width="39" height="2" fill="#466a3c" opacity="0.7"/>
<rect x="1842" y="273" width="30" height="2" fill="#34502e" opacity="0.7"/>
<rect x="1437" y="275" width="25" height="2" fill="#466a3c" opacity="0.7"/>
<rect x="1582" y="275" width="13" height="2" fill="#466a3c" opacity="0.7"/>
<rect x="1357" y="277" width="23" height="2" fill="#34502e" opacity="0.7"/>
<rect x="1562" y="276" width="19" height="2" fill="#34502e" opacity="0.7"/>
<rect x="1409" y="280" width="17" height="2" fill="#34502e" opacity="0.7"/>
<rect x="1393" y="274" width="37" height="2" fill="#34502e" opacity="0.7"/>
<rect x="1498" y="272" width="23" height="2" fill="#4a6e40" opacity="0.7"/>
<rect x="1805" y="274" width="14" height="2" fill="#4a6e40" opacity="0.7"/>
<rect x="1666" y="278" width="13" height="2" fill="#34502e" opacity="0.7"/>
<rect x="1795" y="273" width="37" height="2" fill="#466a3c" opacity="0.7"/>
<rect x="1872" y="277" width="34" height="2" fill="#34502e" opacity="0.7"/>
<rect x="1687" y="273" width="18" height="2" fill="#34502e" opacity="0.7"/>
<rect x="1601" y="274" width="27" height="2" fill="#466a3c" opacity="0.7"/>
<rect x="1695" y="271" width="31" height="2" fill="#34502e" opacity="0.7"/>
<rect x="1890" y="274" width="15" height="2" fill="#466a3c" opacity="0.7"/>
<rect x="1699" y="276" width="16" height="2" fill="#466a3c" opacity="0.7"/>
<rect x="1627" y="273" width="20" height="2" fill="#34502e" opacity="0.7"/>
<rect x="1904" y="271" width="11" height="2" fill="#4a6e40" opacity="0.7"/>
<rect x="1655" y="273" width="24" height="2" fill="#466a3c" opacity="0.7"/>
<rect x="1406" y="279" width="23" height="2" fill="#466a3c" opacity="0.7"/>
<rect x="1652" y="280" width="39" height="2" fill="#466a3c" opacity="0.7"/>
<rect x="1732" y="281" width="20" height="2" fill="#4a6e40" opacity="0.7"/>
<rect x="1755" y="272" width="40" height="2" fill="#34502e" opacity="0.7"/>
<rect x="1816" y="271" width="29" height="2" fill="#466a3c" opacity="0.7"/>
<rect x="1588" y="272" width="30" height="2" fill="#466a3c" opacity="0.7"/>
<rect x="1834" y="278" width="18" height="2" fill="#34502e" opacity="0.7"/>
<rect x="1735" y="271" width="16" height="2" fill="#466a3c" opacity="0.7"/>
<rect x="1596" y="274" width="39" height="2" fill="#4a6e40" opacity="0.7"/>
<rect x="1528" y="271" width="36" height="2" fill="#34502e" opacity="0.7"/>
<rect x="1546" y="271" width="21" height="2" fill="#466a3c" opacity="0.7"/>
<rect x="1502" y="278" width="17" height="2" fill="#34502e" opacity="0.7"/>
<rect x="1397" y="279" width="14" height="2" fill="#4a6e40" opacity="0.7"/>
<rect x="1369" y="271" width="19" height="2" fill="#34502e" opacity="0.7"/>
<rect x="1393" y="281" width="36" height="2" fill="#34502e" opacity="0.7"/>
<rect x="1715" y="278" width="36" height="2" fill="#466a3c" opacity="0.7"/>
</g>
<g>
<polyline points="1583,150 1700,123 1752,117" fill="none" stroke="#d8d8d0" stroke-width="0.8"/>
<line x1="1668" y1="130" x2="1668" y2="158" stroke="#d0d0c8" stroke-width="0.5"/>
<path d="M1722,167 Q1730,140 1740,128 Q1753,118 1768,124 Q1782,140 1785,176 Q1786,186 1780,189 L1730,186 Z" fill="#8a5a2c"/>
<line x1="1753" y1="115" x2="1753" y2="122" stroke="#333" stroke-width="1.5"/>
<line x1="1728" y1="168.5" x2="1770" y2="168.5" stroke="#7a8a90" stroke-width="1"/>
<rect x="1757" y="144" width="18" height="18" fill="#fff" stroke="#c22" stroke-width="0.8"/><rect x="1757" y="144" width="9" height="9" fill="#e22"/><rect x="1766" y="153" width="9" height="9" fill="#e22"/>
<path d="M1514,168 L1545,168 L1600,162 L1638,158 L1700,163 L1740,170 L1785,177 Q1790,185 1780,189 L1730,194 L1640,206 L1560,215 L1515,219 Z" fill="#8a5a2c"/>
<path d="M1545,172 L1640,164 L1740,174 L1782,180 L1780,186 L1640,200 L1545,210 Z" fill="#a06c3a" opacity="0.3"/>
<path d="M1515,205 L1640,200 L1730,190 L1782,186 L1730,194 L1640,206 L1515,219 Z" fill="#5a3818" opacity="0.35"/>
<rect x="1514" y="167" width="30" height="54" rx="5" fill="#8a5a2c"/><rect x="1514" y="170" width="6" height="48" fill="#5a3818"/>
<ellipse cx="1503" cy="192" rx="12" ry="9" fill="#8a5a2c"/>
<ellipse cx="1505.5" cy="193" rx="3.8" ry="58" fill="#3a2414"/>
<path d="M1540,155 Q1556,148 1580,149 L1618,157 L1616,160 L1540,158 Z" fill="#8a5a2c"/>
<path d="M1543,157 L1620,159 L1612,165 L1546,168 Z" fill="#8aa0a8" opacity="0.8"/>
<line x1="1556.7" y1="158" x2="1556.7" y2="210" stroke="#5a3818" stroke-width="3"/><line x1="1583" y1="158" x2="1582" y2="205" stroke="#5a3818" stroke-width="3"/>
<path d="M1622,168 Q1624,158 1630,158 Q1636,160 1636,168 Z" fill="#555"/>
<line x1="1555" y1="210" x2="1555" y2="235" stroke="#8a5a2c" stroke-width="4"/><line x1="1581.7" y1="208" x2="1561" y2="234" stroke="#8a5a2c" stroke-width="4"/>
<circle cx="1554" cy="245" r="14" fill="#3a2a1c"/><circle cx="1554" cy="245" r="9" fill="#7a5030"/>
<path d="M1740,191 L1746,201 L1750,201" fill="none" stroke="#5a3818" stroke-width="3"/>
<text x="1666.0" y="198.0" font-family="Liberation Sans" font-size="27" font-weight="normal" fill="#f4f4f4" text-anchor="middle" textLength="14.0" lengthAdjust="spacingAndGlyphs" stroke="#f4f4f4" stroke-width="0.5" >8</text>
<path d="M1684,172 L1695,172 L1691,177 L1702,189 L1691,189 L1686,182 L1684,187 Z" fill="#f0f0f0"/>
<text x="1603" y="174" font-family="Liberation Sans" font-size="9" fill="#f4f4f4">E</text>
</g>
<rect x="837" y="331" width="156" height="156" fill="#000"/><rect x="839.5" y="333.5" width="151" height="151" fill="#f7f7f5"/>
<path d="M866.6,336 Q872,332 880,334 L886,345 L893,385 L891,398 L884,402 L884,418 L891,422 L893,435 L886,475 L880,484 Q872,488 866.6,484 Z" fill="#5a5424"/>
<path d="M868,345 L882,345 L889,388 L884,398 L868,398 Z M868,422 L884,422 L889,432 L882,475 L868,475 Z" fill="#8a8a38" opacity="0.7"/>
<path d="M867,400 L884,400 L884,420 L867,420 Z" fill="#b4b452" opacity="0.8"/>
<polyline points="882,336 868,348 880,357 868,370 874,380 867,398" fill="none" stroke="#f4f4f4" stroke-width="1.8"/>
<polyline points="867,422 874,440 868,452 880,465 868,474 882,484" fill="none" stroke="#f4f4f4" stroke-width="1.8"/>
<rect x="872" y="366" width="11" height="11" fill="#fff"/><rect x="872" y="366" width="5.5" height="5.5" fill="#e22"/><rect x="877.5" y="371.5" width="5.5" height="5.5" fill="#e22"/>
<rect x="872" y="465" width="11" height="11" fill="#fff"/><rect x="872" y="465" width="5.5" height="5.5" fill="#e22"/><rect x="877.5" y="470.5" width="5.5" height="5.5" fill="#e22"/>
<path d="M866,402 L900,403 L935,407 L952,409 L935,411 L900,415 L866,418 Z" fill="#6a6a2c"/>
<path d="M880,405 L935,408 L935,410 L880,412 Z" fill="#3a3a1a" opacity="0.6"/>
<rect x="854" y="400" width="13" height="19" rx="5" fill="#6a5c30"/>
<line x1="853" y1="399" x2="853" y2="421" stroke="#8a8070" stroke-width="1.5"/><circle cx="852" cy="409.5" r="2.5" fill="#5a5040"/>
<path d="M935,408 L943,385 Q950,388 952,408 Z M935,410 L943,433 Q950,430 952,410 Z" fill="#4e4a20"/>
<path d="M939,406 L943,390 L946,406 Z M939,412 L943,428 L946,412 Z" fill="#9a9a40" opacity="0.6"/>
<text x="935.6" y="478.4" font-family="Liberation Sans" font-size="15" font-weight="normal" fill="#111" text-anchor="start" textLength="42.2" lengthAdjust="spacingAndGlyphs" stroke="#111" stroke-width="0.3" >Biała 8</text>
<path d="M1746,380 Q1748,373 1760,373 L1800,370 Q1812,366 1819,367 Q1826,366 1838,370 L1878,373 Q1890,373 1893,380 Q1894,392 1886,396 L1846,400 Q1830,392 1823,398 L1815,398 Q1808,392 1792,400 L1752,396 Q1744,392 1746,380 Z" fill="#5a5624"/>
<path d="M1750,384 L1800,376 L1815,380 L1815,392 L1800,396 L1752,392 Z M1888,384 L1838,376 L1823,380 L1823,392 L1838,396 L1886,392 Z" fill="#a4a040" opacity="0.45"/>
<polyline points="1749,382 1760,389 1775,378 1788,387 1800,375 1815,371" fill="none" stroke="#f4f4f4" stroke-width="1.8"/>
<polyline points="1890,382 1879,389 1864,378 1851,387 1839,375 1823,371" fill="none" stroke="#f4f4f4" stroke-width="1.8"/>
<rect x="1745.5" y="377.6" width="12" height="12" fill="#fff"/><rect x="1745.5" y="377.6" width="6" height="6" fill="#e22"/><rect x="1751.5" y="383.6" width="6" height="6" fill="#e22"/>
<rect x="1852.8" y="377.6" width="12" height="12" fill="#fff"/><rect x="1852.8" y="377.6" width="6" height="6" fill="#e22"/><rect x="1858.8" y="383.6" width="6" height="6" fill="#e22"/>
<path d="M1812,362 Q1819,356 1826,362 L1827,400 L1823,440 L1821,458 L1817,458 L1815,440 L1811,400 Z" fill="#5a5624"/>
<ellipse cx="1819" cy="364" rx="8" ry="6" fill="#34301a"/>
<line x1="1806" y1="357" x2="1832" y2="357" stroke="#a07040" stroke-width="1.6"/>
<path d="M1796,450 Q1800,442 1819,441 Q1838,442 1843,450 Q1838,458 1819,456 Q1800,458 1796,450 Z" fill="#5a5624"/>
<line x1="1819" y1="438" x2="1819" y2="461" stroke="#333" stroke-width="1.2"/>
<rect x="229" y="45" width="33" height="33" fill="#000"/><rect x="230.5" y="46.5" width="30" height="30" fill="#f8f8f8"/>
<path d="M230.8,53.5 Q237,50.5 245.5,51.5 Q254,50.5 260.2,53.5 L259,56.5 Q253,54.5 245.5,57 Q238,54.5 232,56.5 Z" fill="#5e4c2a"/>
<path d="M232,53.5 L236,52.5 L239,54 L242,52.5" stroke="#c86a5a" stroke-width="0.8" fill="none"/><path d="M259,53.5 L255,52.5 L252,54 L249,52.5" stroke="#c86a5a" stroke-width="0.8" fill="none"/>
<rect x="244.3" y="48" width="2.6" height="20" fill="#6e6c50"/><circle cx="245.6" cy="50" r="2" fill="#3a3420"/>
<rect x="241" y="66" width="9.5" height="2.6" rx="1" fill="#3a3a20"/>
<text x="245.5" y="75.5" font-family="Liberation Sans" font-size="7.5" font-weight="bold" fill="#000" text-anchor="middle" xml:space="preserve">D 1</text>
<rect x="271.2" y="67.1" width="33" height="33" fill="#000"/><rect x="272.7" y="68.6" width="30" height="30" fill="#f8f8f8"/>
<path d="M273.0,75.6 Q279.2,72.6 287.7,73.6 Q296.2,72.6 302.4,75.6 L301.2,78.6 Q295.2,76.6 287.7,79.1 Q280.2,76.6 274.2,78.6 Z" fill="#5e4c2a"/>
<path d="M274.2,75.6 L278.2,74.6 L281.2,76.1 L284.2,74.6" stroke="#c86a5a" stroke-width="0.8" fill="none"/><path d="M301.2,75.6 L297.2,74.6 L294.2,76.1 L291.2,74.6" stroke="#c86a5a" stroke-width="0.8" fill="none"/>
<rect x="286.5" y="70.1" width="2.6" height="20" fill="#6e6c50"/><circle cx="287.8" cy="72.1" r="2" fill="#3a3420"/>
<rect x="283.2" y="88.1" width="9.5" height="2.6" rx="1" fill="#3a3a20"/>
<text x="287.7" y="97.6" font-family="Liberation Sans" font-size="7.5" font-weight="bold" fill="#000" text-anchor="middle" xml:space="preserve">D  2</text>
<rect x="22" y="317" width="435" height="338" fill="#000"/>
<rect x="27" y="322" width="425" height="328" fill="#7f6a00"/>
<clipPath id="mapclip"><rect x="27" y="322" width="425" height="328"/></clipPath>
<filter id="mblur" x="-50%" y="-50%" width="200%" height="200%"><feGaussianBlur stdDeviation="5"/></filter>
<filter id="mblur3" x="-50%" y="-50%" width="200%" height="200%"><feGaussianBlur stdDeviation="3"/></filter>
<g clip-path="url(#mapclip)">
<rect x="27" y="322" width="425" height="92" fill="#76a436"/>
<rect x="27" y="420" width="425" height="230" fill="#8cb93e"/>
<ellipse cx="60" cy="345" rx="30" ry="14" fill="#a4c850" opacity="0.6" filter="url(#mblur)"/>
<ellipse cx="170" cy="360" rx="40" ry="15" fill="#a4c850" opacity="0.6" filter="url(#mblur)"/>
<ellipse cx="280" cy="345" rx="40" ry="12" fill="#a4c850" opacity="0.6" filter="url(#mblur)"/>
<ellipse cx="420" cy="395" rx="30" ry="12" fill="#a4c850" opacity="0.6" filter="url(#mblur)"/>
<ellipse cx="110" cy="395" rx="35" ry="10" fill="#a4c850" opacity="0.6" filter="url(#mblur)"/>
<ellipse cx="108" cy="326" rx="10" ry="5" fill="#3c4a1c" opacity="0.6" filter="url(#mblur)"/>
<ellipse cx="203" cy="356" rx="10" ry="8" fill="#3c4a1c" opacity="0.6" filter="url(#mblur)"/>
<ellipse cx="283" cy="376" rx="8" ry="8" fill="#3c4a1c" opacity="0.6" filter="url(#mblur)"/>
<ellipse cx="330" cy="390" rx="20" ry="8" fill="#3c4a1c" opacity="0.6" filter="url(#mblur)"/>
<ellipse cx="150" cy="400" rx="20" ry="6" fill="#3c4a1c" opacity="0.6" filter="url(#mblur)"/>
<ellipse cx="136" cy="561" rx="12" ry="6" fill="#d6ee4a" opacity="0.9" filter="url(#mblur)"/>
<ellipse cx="135" cy="619" rx="12" ry="6" fill="#d6ee4a" opacity="0.9" filter="url(#mblur)"/>
<ellipse cx="352" cy="562" rx="16" ry="10" fill="#d6ee4a" opacity="0.9" filter="url(#mblur)"/>
<ellipse cx="384" cy="600" rx="16" ry="8" fill="#d6ee4a" opacity="0.9" filter="url(#mblur)"/>
<ellipse cx="349" cy="632" rx="12" ry="10" fill="#d6ee4a" opacity="0.9" filter="url(#mblur)"/>
<ellipse cx="413" cy="572" rx="16" ry="6" fill="#d6ee4a" opacity="0.9" filter="url(#mblur)"/>
<ellipse cx="300" cy="470" rx="30" ry="15" fill="#d6ee4a" opacity="0.9" filter="url(#mblur)"/>
<ellipse cx="400" cy="470" rx="40" ry="12" fill="#d6ee4a" opacity="0.9" filter="url(#mblur)"/>
<ellipse cx="60" cy="470" rx="25" ry="10" fill="#d6ee4a" opacity="0.9" filter="url(#mblur)"/>
<ellipse cx="200" cy="600" rx="25" ry="15" fill="#d6ee4a" opacity="0.9" filter="url(#mblur)"/>
<ellipse cx="90" cy="640" rx="20" ry="8" fill="#d6ee4a" opacity="0.9" filter="url(#mblur)"/>
<ellipse cx="260" cy="540" rx="15" ry="8" fill="#d6ee4a" opacity="0.9" filter="url(#mblur)"/>
<ellipse cx="134" cy="574" rx="12" ry="9" fill="#2a3214" opacity="0.9" filter="url(#mblur3)"/>
<ellipse cx="134" cy="634" rx="11" ry="9" fill="#2a3214" opacity="0.9" filter="url(#mblur3)"/>
<ellipse cx="268" cy="499" rx="11" ry="6" fill="#2a3214" opacity="0.9" filter="url(#mblur3)"/>
<ellipse cx="246" cy="565" rx="10" ry="9" fill="#2a3214" opacity="0.9" filter="url(#mblur3)"/>
<ellipse cx="337" cy="511" rx="10" ry="8" fill="#2a3214" opacity="0.9" filter="url(#mblur3)"/>
<ellipse cx="366" cy="492" rx="16" ry="6" fill="#2a3214" opacity="0.9" filter="url(#mblur3)"/>
<ellipse cx="279" cy="619" rx="26" ry="12" fill="#2a3214" opacity="0.9" filter="url(#mblur3)"/>
<ellipse cx="425" cy="524" rx="11" ry="8" fill="#2a3214" opacity="0.9" filter="url(#mblur3)"/>
<ellipse cx="415" cy="569" rx="18" ry="28" fill="#9a6a2c" opacity="0.9" filter="url(#mblur3)"/>
<ellipse cx="253" cy="516" rx="16" ry="12" fill="#d6ee4a" opacity="0.85" filter="url(#mblur)"/>
<ellipse cx="273" cy="637" rx="12" ry="11" fill="#d6ee4a" opacity="0.85" filter="url(#mblur)"/>
<ellipse cx="387" cy="538" rx="12" ry="10" fill="#d6ee4a" opacity="0.85" filter="url(#mblur)"/>
<ellipse cx="324" cy="594" rx="10" ry="9" fill="#d6ee4a" opacity="0.85" filter="url(#mblur)"/>
<ellipse cx="386" cy="533" rx="7" ry="5" fill="#2a3214" opacity="0.75" filter="url(#mblur3)"/>
<ellipse cx="358" cy="577" rx="8" ry="7" fill="#2a3214" opacity="0.75" filter="url(#mblur3)"/>
<ellipse cx="407" cy="590" rx="8" ry="10" fill="#2a3214" opacity="0.75" filter="url(#mblur3)"/>
<ellipse cx="440" cy="591" rx="12" ry="11" fill="#2a3214" opacity="0.75" filter="url(#mblur3)"/>
<ellipse cx="391" cy="632" rx="8" ry="10" fill="#2a3214" opacity="0.75" filter="url(#mblur3)"/>
<ellipse cx="180" cy="348" rx="16" ry="8" fill="#2a3214" opacity="0.75" filter="url(#mblur3)"/>
<ellipse cx="34" cy="378" rx="12" ry="9" fill="#2a3214" opacity="0.75" filter="url(#mblur3)"/>
<ellipse cx="124" cy="399" rx="8" ry="6" fill="#2a3214" opacity="0.75" filter="url(#mblur3)"/>
<ellipse cx="270" cy="355" rx="14" ry="13" fill="#2a3214" opacity="0.75" filter="url(#mblur3)"/>
<ellipse cx="348" cy="395" rx="14" ry="15" fill="#2a3214" opacity="0.75" filter="url(#mblur3)"/>
<ellipse cx="280" cy="630" rx="14" ry="10" fill="#9a6a2c" opacity="0.8" filter="url(#mblur3)"/>
<path d="M-11.75,308.6 L-4.0,295.2 L11.5,295.2 L19.25,308.6 L11.5,322.0 L-4.0,322.0 ZM-11.75,335.4 L-4.0,322.0 L11.5,322.0 L19.25,335.4 L11.5,348.8 L-4.0,348.8 ZM-11.75,362.3 L-4.0,348.8 L11.5,348.8 L19.25,362.3 L11.5,375.7 L-4.0,375.7 ZM-11.75,389.1 L-4.0,375.7 L11.5,375.7 L19.25,389.1 L11.5,402.5 L-4.0,402.5 ZM-11.75,416.0 L-4.0,402.5 L11.5,402.5 L19.25,416.0 L11.5,429.4 L-4.0,429.4 ZM-11.75,442.8 L-4.0,429.4 L11.5,429.4 L19.25,442.8 L11.5,456.2 L-4.0,456.2 ZM-11.75,469.7 L-4.0,456.2 L11.5,456.2 L19.25,469.7 L11.5,483.1 L-4.0,483.1 ZM-11.75,496.5 L-4.0,483.1 L11.5,483.1 L19.25,496.5 L11.5,509.9 L-4.0,509.9 ZM-11.75,523.4 L-4.0,509.9 L11.5,509.9 L19.25,523.4 L11.5,536.8 L-4.0,536.8 ZM-11.75,550.2 L-4.0,536.8 L11.5,536.8 L19.25,550.2 L11.5,563.6 L-4.0,563.6 ZM-11.75,577.0 L-4.0,563.6 L11.5,563.6 L19.25,577.0 L11.5,590.5 L-4.0,590.5 ZM-11.75,603.9 L-4.0,590.5 L11.5,590.5 L19.25,603.9 L11.5,617.3 L-4.0,617.3 ZM-11.75,630.7 L-4.0,617.3 L11.5,617.3 L19.25,630.7 L11.5,644.2 L-4.0,644.2 ZM-11.75,657.6 L-4.0,644.2 L11.5,644.2 L19.25,657.6 L11.5,671.0 L-4.0,671.0 ZM-11.75,684.4 L-4.0,671.0 L11.5,671.0 L19.25,684.4 L11.5,697.9 L-4.0,697.9 ZM-11.75,711.3 L-4.0,697.9 L11.5,697.9 L19.25,711.3 L11.5,724.7 L-4.0,724.7 ZM11.5,295.2 L19.25,281.7 L34.75,281.7 L42.5,295.2 L34.75,308.6 L19.25,308.6 ZM11.5,322.0 L19.25,308.6 L34.75,308.6 L42.5,322.0 L34.75,335.4 L19.25,335.4 ZM11.5,348.8 L19.25,335.4 L34.75,335.4 L42.5,348.8 L34.75,362.3 L19.25,362.3 ZM11.5,375.7 L19.25,362.3 L34.75,362.3 L42.5,375.7 L34.75,389.1 L19.25,389.1 ZM11.5,402.5 L19.25,389.1 L34.75,389.1 L42.5,402.5 L34.75,416.0 L19.25,416.0 ZM11.5,429.4 L19.25,416.0 L34.75,416.0 L42.5,429.4 L34.75,442.8 L19.25,442.8 ZM11.5,456.2 L19.25,442.8 L34.75,442.8 L42.5,456.2 L34.75,469.7 L19.25,469.7 ZM11.5,483.1 L19.25,469.7 L34.75,469.7 L42.5,483.1 L34.75,496.5 L19.25,496.5 ZM11.5,509.9 L19.25,496.5 L34.75,496.5 L42.5,509.9 L34.75,523.4 L19.25,523.4 ZM11.5,536.8 L19.25,523.4 L34.75,523.4 L42.5,536.8 L34.75,550.2 L19.25,550.2 ZM11.5,563.6 L19.25,550.2 L34.75,550.2 L42.5,563.6 L34.75,577.0 L19.25,577.0 ZM11.5,590.5 L19.25,577.0 L34.75,577.0 L42.5,590.5 L34.75,603.9 L19.25,603.9 ZM11.5,617.3 L19.25,603.9 L34.75,603.9 L42.5,617.3 L34.75,630.7 L19.25,630.7 ZM11.5,644.2 L19.25,630.7 L34.75,630.7 L42.5,644.2 L34.75,657.6 L19.25,657.6 ZM11.5,671.0 L19.25,657.6 L34.75,657.6 L42.5,671.0 L34.75,684.4 L19.25,684.4 ZM11.5,697.9 L19.25,684.4 L34.75,684.4 L42.5,697.9 L34.75,711.3 L19.25,711.3 ZM34.75,308.6 L42.5,295.2 L58.0,295.2 L65.75,308.6 L58.0,322.0 L42.5,322.0 ZM34.75,335.4 L42.5,322.0 L58.0,322.0 L65.75,335.4 L58.0,348.8 L42.5,348.8 ZM34.75,362.3 L42.5,348.8 L58.0,348.8 L65.75,362.3 L58.0,375.7 L42.5,375.7 ZM34.75,389.1 L42.5,375.7 L58.0,375.7 L65.75,389.1 L58.0,402.5 L42.5,402.5 ZM34.75,416.0 L42.5,402.5 L58.0,402.5 L65.75,416.0 L58.0,429.4 L42.5,429.4 ZM34.75,442.8 L42.5,429.4 L58.0,429.4 L65.75,442.8 L58.0,456.2 L42.5,456.2 ZM34.75,469.7 L42.5,456.2 L58.0,456.2 L65.75,469.7 L58.0,483.1 L42.5,483.1 ZM34.75,496.5 L42.5,483.1 L58.0,483.1 L65.75,496.5 L58.0,509.9 L42.5,509.9 ZM34.75,523.4 L42.5,509.9 L58.0,509.9 L65.75,523.4 L58.0,536.8 L42.5,536.8 ZM34.75,550.2 L42.5,536.8 L58.0,536.8 L65.75,550.2 L58.0,563.6 L42.5,563.6 ZM34.75,577.0 L42.5,563.6 L58.0,563.6 L65.75,577.0 L58.0,590.5 L42.5,590.5 ZM34.75,603.9 L42.5,590.5 L58.0,590.5 L65.75,603.9 L58.0,617.3 L42.5,617.3 ZM34.75,630.7 L42.5,617.3 L58.0,617.3 L65.75,630.7 L58.0,644.2 L42.5,644.2 ZM34.75,657.6 L42.5,644.2 L58.0,644.2 L65.75,657.6 L58.0,671.0 L42.5,671.0 ZM34.75,684.4 L42.5,671.0 L58.0,671.0 L65.75,684.4 L58.0,697.9 L42.5,697.9 ZM34.75,711.3 L42.5,697.9 L58.0,697.9 L65.75,711.3 L58.0,724.7 L42.5,724.7 ZM58.0,295.2 L65.75,281.7 L81.25,281.7 L89.0,295.2 L81.25,308.6 L65.75,308.6 ZM58.0,322.0 L65.75,308.6 L81.25,308.6 L89.0,322.0 L81.25,335.4 L65.75,335.4 ZM58.0,348.8 L65.75,335.4 L81.25,335.4 L89.0,348.8 L81.25,362.3 L65.75,362.3 ZM58.0,375.7 L65.75,362.3 L81.25,362.3 L89.0,375.7 L81.25,389.1 L65.75,389.1 ZM58.0,402.5 L65.75,389.1 L81.25,389.1 L89.0,402.5 L81.25,416.0 L65.75,416.0 ZM58.0,429.4 L65.75,416.0 L81.25,416.0 L89.0,429.4 L81.25,442.8 L65.75,442.8 ZM58.0,456.2 L65.75,442.8 L81.25,442.8 L89.0,456.2 L81.25,469.7 L65.75,469.7 ZM58.0,483.1 L65.75,469.7 L81.25,469.7 L89.0,483.1 L81.25,496.5 L65.75,496.5 ZM58.0,509.9 L65.75,496.5 L81.25,496.5 L89.0,509.9 L81.25,523.4 L65.75,523.4 ZM58.0,536.8 L65.75,523.4 L81.25,523.4 L89.0,536.8 L81.25,550.2 L65.75,550.2 ZM58.0,563.6 L65.75,550.2 L81.25,550.2 L89.0,563.6 L81.25,577.0 L65.75,577.0 ZM58.0,590.5 L65.75,577.0 L81.25,577.0 L89.0,590.5 L81.25,603.9 L65.75,603.9 ZM58.0,617.3 L65.75,603.9 L81.25,603.9 L89.0,617.3 L81.25,630.7 L65.75,630.7 ZM58.0,644.2 L65.75,630.7 L81.25,630.7 L89.0,644.2 L81.25,657.6 L65.75,657.6 ZM58.0,671.0 L65.75,657.6 L81.25,657.6 L89.0,671.0 L81.25,684.4 L65.75,684.4 ZM58.0,697.9 L65.75,684.4 L81.25,684.4 L89.0,697.9 L81.25,711.3 L65.75,711.3 ZM81.25,308.6 L89.0,295.2 L104.5,295.2 L112.25,308.6 L104.5,322.0 L89.0,322.0 ZM81.25,335.4 L89.0,322.0 L104.5,322.0 L112.25,335.4 L104.5,348.8 L89.0,348.8 ZM81.25,362.3 L89.0,348.8 L104.5,348.8 L112.25,362.3 L104.5,375.7 L89.0,375.7 ZM81.25,389.1 L89.0,375.7 L104.5,375.7 L112.25,389.1 L104.5,402.5 L89.0,402.5 ZM81.25,416.0 L89.0,402.5 L104.5,402.5 L112.25,416.0 L104.5,429.4 L89.0,429.4 ZM81.25,442.8 L89.0,429.4 L104.5,429.4 L112.25,442.8 L104.5,456.2 L89.0,456.2 ZM81.25,469.7 L89.0,456.2 L104.5,456.2 L112.25,469.7 L104.5,483.1 L89.0,483.1 ZM81.25,496.5 L89.0,483.1 L104.5,483.1 L112.25,496.5 L104.5,509.9 L89.0,509.9 ZM81.25,523.4 L89.0,509.9 L104.5,509.9 L112.25,523.4 L104.5,536.8 L89.0,536.8 ZM81.25,550.2 L89.0,536.8 L104.5,536.8 L112.25,550.2 L104.5,563.6 L89.0,563.6 ZM81.25,577.0 L89.0,563.6 L104.5,563.6 L112.25,577.0 L104.5,590.5 L89.0,590.5 ZM81.25,603.9 L89.0,590.5 L104.5,590.5 L112.25,603.9 L104.5,617.3 L89.0,617.3 ZM81.25,630.7 L89.0,617.3 L104.5,617.3 L112.25,630.7 L104.5,644.2 L89.0,644.2 ZM81.25,657.6 L89.0,644.2 L104.5,644.2 L112.25,657.6 L104.5,671.0 L89.0,671.0 ZM81.25,684.4 L89.0,671.0 L104.5,671.0 L112.25,684.4 L104.5,697.9 L89.0,697.9 ZM81.25,711.3 L89.0,697.9 L104.5,697.9 L112.25,711.3 L104.5,724.7 L89.0,724.7 ZM104.5,295.2 L112.25,281.7 L127.75,281.7 L135.5,295.2 L127.75,308.6 L112.25,308.6 ZM104.5,322.0 L112.25,308.6 L127.75,308.6 L135.5,322.0 L127.75,335.4 L112.25,335.4 ZM104.5,348.8 L112.25,335.4 L127.75,335.4 L135.5,348.8 L127.75,362.3 L112.25,362.3 ZM104.5,375.7 L112.25,362.3 L127.75,362.3 L135.5,375.7 L127.75,389.1 L112.25,389.1 ZM104.5,402.5 L112.25,389.1 L127.75,389.1 L135.5,402.5 L127.75,416.0 L112.25,416.0 ZM104.5,429.4 L112.25,416.0 L127.75,416.0 L135.5,429.4 L127.75,442.8 L112.25,442.8 ZM104.5,456.2 L112.25,442.8 L127.75,442.8 L135.5,456.2 L127.75,469.7 L112.25,469.7 ZM104.5,483.1 L112.25,469.7 L127.75,469.7 L135.5,483.1 L127.75,496.5 L112.25,496.5 ZM104.5,509.9 L112.25,496.5 L127.75,496.5 L135.5,509.9 L127.75,523.4 L112.25,523.4 ZM104.5,536.8 L112.25,523.4 L127.75,523.4 L135.5,536.8 L127.75,550.2 L112.25,550.2 ZM104.5,563.6 L112.25,550.2 L127.75,550.2 L135.5,563.6 L127.75,577.0 L112.25,577.0 ZM104.5,590.5 L112.25,577.0 L127.75,577.0 L135.5,590.5 L127.75,603.9 L112.25,603.9 ZM104.5,617.3 L112.25,603.9 L127.75,603.9 L135.5,617.3 L127.75,630.7 L112.25,630.7 ZM104.5,644.2 L112.25,630.7 L127.75,630.7 L135.5,644.2 L127.75,657.6 L112.25,657.6 ZM104.5,671.0 L112.25,657.6 L127.75,657.6 L135.5,671.0 L127.75,684.4 L112.25,684.4 ZM104.5,697.9 L112.25,684.4 L127.75,684.4 L135.5,697.9 L127.75,711.3 L112.25,711.3 ZM127.75,308.6 L135.5,295.2 L151.0,295.2 L158.75,308.6 L151.0,322.0 L135.5,322.0 ZM127.75,335.4 L135.5,322.0 L151.0,322.0 L158.75,335.4 L151.0,348.8 L135.5,348.8 ZM127.75,362.3 L135.5,348.8 L151.0,348.8 L158.75,362.3 L151.0,375.7 L135.5,375.7 ZM127.75,389.1 L135.5,375.7 L151.0,375.7 L158.75,389.1 L151.0,402.5 L135.5,402.5 ZM127.75,416.0 L135.5,402.5 L151.0,402.5 L158.75,416.0 L151.0,429.4 L135.5,429.4 ZM127.75,442.8 L135.5,429.4 L151.0,429.4 L158.75,442.8 L151.0,456.2 L135.5,456.2 ZM127.75,469.7 L135.5,456.2 L151.0,456.2 L158.75,469.7 L151.0,483.1 L135.5,483.1 ZM127.75,496.5 L135.5,483.1 L151.0,483.1 L158.75,496.5 L151.0,509.9 L135.5,509.9 ZM127.75,523.4 L135.5,509.9 L151.0,509.9 L158.75,523.4 L151.0,536.8 L135.5,536.8 ZM127.75,550.2 L135.5,536.8 L151.0,536.8 L158.75,550.2 L151.0,563.6 L135.5,563.6 ZM127.75,577.0 L135.5,563.6 L151.0,563.6 L158.75,577.0 L151.0,590.5 L135.5,590.5 ZM127.75,603.9 L135.5,590.5 L151.0,590.5 L158.75,603.9 L151.0,617.3 L135.5,617.3 ZM127.75,630.7 L135.5,617.3 L151.0,617.3 L158.75,630.7 L151.0,644.2 L135.5,644.2 ZM127.75,657.6 L135.5,644.2 L151.0,644.2 L158.75,657.6 L151.0,671.0 L135.5,671.0 ZM127.75,684.4 L135.5,671.0 L151.0,671.0 L158.75,684.4 L151.0,697.9 L135.5,697.9 ZM127.75,711.3 L135.5,697.9 L151.0,697.9 L158.75,711.3 L151.0,724.7 L135.5,724.7 ZM151.0,295.2 L158.75,281.7 L174.25,281.7 L182.0,295.2 L174.25,308.6 L158.75,308.6 ZM151.0,322.0 L158.75,308.6 L174.25,308.6 L182.0,322.0 L174.25,335.4 L158.75,335.4 ZM151.0,348.8 L158.75,335.4 L174.25,335.4 L182.0,348.8 L174.25,362.3 L158.75,362.3 ZM151.0,375.7 L158.75,362.3 L174.25,362.3 L182.0,375.7 L174.25,389.1 L158.75,389.1 ZM151.0,402.5 L158.75,389.1 L174.25,389.1 L182.0,402.5 L174.25,416.0 L158.75,416.0 ZM151.0,429.4 L158.75,416.0 L174.25,416.0 L182.0,429.4 L174.25,442.8 L158.75,442.8 ZM151.0,456.2 L158.75,442.8 L174.25,442.8 L182.0,456.2 L174.25,469.7 L158.75,469.7 ZM151.0,483.1 L158.75,469.7 L174.25,469.7 L182.0,483.1 L174.25,496.5 L158.75,496.5 ZM151.0,509.9 L158.75,496.5 L174.25,496.5 L182.0,509.9 L174.25,523.4 L158.75,523.4 ZM151.0,536.8 L158.75,523.4 L174.25,523.4 L182.0,536.8 L174.25,550.2 L158.75,550.2 ZM151.0,563.6 L158.75,550.2 L174.25,550.2 L182.0,563.6 L174.25,577.0 L158.75,577.0 ZM151.0,590.5 L158.75,577.0 L174.25,577.0 L182.0,590.5 L174.25,603.9 L158.75,603.9 ZM151.0,617.3 L158.75,603.9 L174.25,603.9 L182.0,617.3 L174.25,630.7 L158.75,630.7 ZM151.0,644.2 L158.75,630.7 L174.25,630.7 L182.0,644.2 L174.25,657.6 L158.75,657.6 ZM151.0,671.0 L158.75,657.6 L174.25,657.6 L182.0,671.0 L174.25,684.4 L158.75,684.4 ZM151.0,697.9 L158.75,684.4 L174.25,684.4 L182.0,697.9 L174.25,711.3 L158.75,711.3 ZM174.25,308.6 L182.0,295.2 L197.5,295.2 L205.25,308.6 L197.5,322.0 L182.0,322.0 ZM174.25,335.4 L182.0,322.0 L197.5,322.0 L205.25,335.4 L197.5,348.8 L182.0,348.8 ZM174.25,362.3 L182.0,348.8 L197.5,348.8 L205.25,362.3 L197.5,375.7 L182.0,375.7 ZM174.25,389.1 L182.0,375.7 L197.5,375.7 L205.25,389.1 L197.5,402.5 L182.0,402.5 ZM174.25,416.0 L182.0,402.5 L197.5,402.5 L205.25,416.0 L197.5,429.4 L182.0,429.4 ZM174.25,442.8 L182.0,429.4 L197.5,429.4 L205.25,442.8 L197.5,456.2 L182.0,456.2 ZM174.25,469.7 L182.0,456.2 L197.5,456.2 L205.25,469.7 L197.5,483.1 L182.0,483.1 ZM174.25,496.5 L182.0,483.1 L197.5,483.1 L205.25,496.5 L197.5,509.9 L182.0,509.9 ZM174.25,523.4 L182.0,509.9 L197.5,509.9 L205.25,523.4 L197.5,536.8 L182.0,536.8 ZM174.25,550.2 L182.0,536.8 L197.5,536.8 L205.25,550.2 L197.5,563.6 L182.0,563.6 ZM174.25,577.0 L182.0,563.6 L197.5,563.6 L205.25,577.0 L197.5,590.5 L182.0,590.5 ZM174.25,603.9 L182.0,590.5 L197.5,590.5 L205.25,603.9 L197.5,617.3 L182.0,617.3 ZM174.25,630.7 L182.0,617.3 L197.5,617.3 L205.25,630.7 L197.5,644.2 L182.0,644.2 ZM174.25,657.6 L182.0,644.2 L197.5,644.2 L205.25,657.6 L197.5,671.0 L182.0,671.0 ZM174.25,684.4 L182.0,671.0 L197.5,671.0 L205.25,684.4 L197.5,697.9 L182.0,697.9 ZM174.25,711.3 L182.0,697.9 L197.5,697.9 L205.25,711.3 L197.5,724.7 L182.0,724.7 ZM197.5,295.2 L205.25,281.7 L220.75,281.7 L228.5,295.2 L220.75,308.6 L205.25,308.6 ZM197.5,322.0 L205.25,308.6 L220.75,308.6 L228.5,322.0 L220.75,335.4 L205.25,335.4 ZM197.5,348.8 L205.25,335.4 L220.75,335.4 L228.5,348.8 L220.75,362.3 L205.25,362.3 ZM197.5,375.7 L205.25,362.3 L220.75,362.3 L228.5,375.7 L220.75,389.1 L205.25,389.1 ZM197.5,402.5 L205.25,389.1 L220.75,389.1 L228.5,402.5 L220.75,416.0 L205.25,416.0 ZM197.5,429.4 L205.25,416.0 L220.75,416.0 L228.5,429.4 L220.75,442.8 L205.25,442.8 ZM197.5,456.2 L205.25,442.8 L220.75,442.8 L228.5,456.2 L220.75,469.7 L205.25,469.7 ZM197.5,483.1 L205.25,469.7 L220.75,469.7 L228.5,483.1 L220.75,496.5 L205.25,496.5 ZM197.5,509.9 L205.25,496.5 L220.75,496.5 L228.5,509.9 L220.75,523.4 L205.25,523.4 ZM197.5,536.8 L205.25,523.4 L220.75,523.4 L228.5,536.8 L220.75,550.2 L205.25,550.2 ZM197.5,563.6 L205.25,550.2 L220.75,550.2 L228.5,563.6 L220.75,577.0 L205.25,577.0 ZM197.5,590.5 L205.25,577.0 L220.75,577.0 L228.5,590.5 L220.75,603.9 L205.25,603.9 ZM197.5,617.3 L205.25,603.9 L220.75,603.9 L228.5,617.3 L220.75,630.7 L205.25,630.7 ZM197.5,644.2 L205.25,630.7 L220.75,630.7 L228.5,644.2 L220.75,657.6 L205.25,657.6 ZM197.5,671.0 L205.25,657.6 L220.75,657.6 L228.5,671.0 L220.75,684.4 L205.25,684.4 ZM197.5,697.9 L205.25,684.4 L220.75,684.4 L228.5,697.9 L220.75,711.3 L205.25,711.3 ZM220.75,308.6 L228.5,295.2 L244.0,295.2 L251.75,308.6 L244.0,322.0 L228.5,322.0 ZM220.75,335.4 L228.5,322.0 L244.0,322.0 L251.75,335.4 L244.0,348.8 L228.5,348.8 ZM220.75,362.3 L228.5,348.8 L244.0,348.8 L251.75,362.3 L244.0,375.7 L228.5,375.7 ZM220.75,389.1 L228.5,375.7 L244.0,375.7 L251.75,389.1 L244.0,402.5 L228.5,402.5 ZM220.75,416.0 L228.5,402.5 L244.0,402.5 L251.75,416.0 L244.0,429.4 L228.5,429.4 ZM220.75,442.8 L228.5,429.4 L244.0,429.4 L251.75,442.8 L244.0,456.2 L228.5,456.2 ZM220.75,469.7 L228.5,456.2 L244.0,456.2 L251.75,469.7 L244.0,483.1 L228.5,483.1 ZM220.75,496.5 L228.5,483.1 L244.0,483.1 L251.75,496.5 L244.0,509.9 L228.5,509.9 ZM220.75,523.4 L228.5,509.9 L244.0,509.9 L251.75,523.4 L244.0,536.8 L228.5,536.8 ZM220.75,550.2 L228.5,536.8 L244.0,536.8 L251.75,550.2 L244.0,563.6 L228.5,563.6 ZM220.75,577.0 L228.5,563.6 L244.0,563.6 L251.75,577.0 L244.0,590.5 L228.5,590.5 ZM220.75,603.9 L228.5,590.5 L244.0,590.5 L251.75,603.9 L244.0,617.3 L228.5,617.3 ZM220.75,630.7 L228.5,617.3 L244.0,617.3 L251.75,630.7 L244.0,644.2 L228.5,644.2 ZM220.75,657.6 L228.5,644.2 L244.0,644.2 L251.75,657.6 L244.0,671.0 L228.5,671.0 ZM220.75,684.4 L228.5,671.0 L244.0,671.0 L251.75,684.4 L244.0,697.9 L228.5,697.9 ZM220.75,711.3 L228.5,697.9 L244.0,697.9 L251.75,711.3 L244.0,724.7 L228.5,724.7 ZM244.0,295.2 L251.75,281.7 L267.25,281.7 L275.0,295.2 L267.25,308.6 L251.75,308.6 ZM244.0,322.0 L251.75,308.6 L267.25,308.6 L275.0,322.0 L267.25,335.4 L251.75,335.4 ZM244.0,348.8 L251.75,335.4 L267.25,335.4 L275.0,348.8 L267.25,362.3 L251.75,362.3 ZM244.0,375.7 L251.75,362.3 L267.25,362.3 L275.0,375.7 L267.25,389.1 L251.75,389.1 ZM244.0,402.5 L251.75,389.1 L267.25,389.1 L275.0,402.5 L267.25,416.0 L251.75,416.0 ZM244.0,429.4 L251.75,416.0 L267.25,416.0 L275.0,429.4 L267.25,442.8 L251.75,442.8 ZM244.0,456.2 L251.75,442.8 L267.25,442.8 L275.0,456.2 L267.25,469.7 L251.75,469.7 ZM244.0,483.1 L251.75,469.7 L267.25,469.7 L275.0,483.1 L267.25,496.5 L251.75,496.5 ZM244.0,509.9 L251.75,496.5 L267.25,496.5 L275.0,509.9 L267.25,523.4 L251.75,523.4 ZM244.0,536.8 L251.75,523.4 L267.25,523.4 L275.0,536.8 L267.25,550.2 L251.75,550.2 ZM244.0,563.6 L251.75,550.2 L267.25,550.2 L275.0,563.6 L267.25,577.0 L251.75,577.0 ZM244.0,590.5 L251.75,577.0 L267.25,577.0 L275.0,590.5 L267.25,603.9 L251.75,603.9 ZM244.0,617.3 L251.75,603.9 L267.25,603.9 L275.0,617.3 L267.25,630.7 L251.75,630.7 ZM244.0,644.2 L251.75,630.7 L267.25,630.7 L275.0,644.2 L267.25,657.6 L251.75,657.6 ZM244.0,671.0 L251.75,657.6 L267.25,657.6 L275.0,671.0 L267.25,684.4 L251.75,684.4 ZM244.0,697.9 L251.75,684.4 L267.25,684.4 L275.0,697.9 L267.25,711.3 L251.75,711.3 ZM267.25,308.6 L275.0,295.2 L290.5,295.2 L298.25,308.6 L290.5,322.0 L275.0,322.0 ZM267.25,335.4 L275.0,322.0 L290.5,322.0 L298.25,335.4 L290.5,348.8 L275.0,348.8 ZM267.25,362.3 L275.0,348.8 L290.5,348.8 L298.25,362.3 L290.5,375.7 L275.0,375.7 ZM267.25,389.1 L275.0,375.7 L290.5,375.7 L298.25,389.1 L290.5,402.5 L275.0,402.5 ZM267.25,416.0 L275.0,402.5 L290.5,402.5 L298.25,416.0 L290.5,429.4 L275.0,429.4 ZM267.25,442.8 L275.0,429.4 L290.5,429.4 L298.25,442.8 L290.5,456.2 L275.0,456.2 ZM267.25,469.7 L275.0,456.2 L290.5,456.2 L298.25,469.7 L290.5,483.1 L275.0,483.1 ZM267.25,496.5 L275.0,483.1 L290.5,483.1 L298.25,496.5 L290.5,509.9 L275.0,509.9 ZM267.25,523.4 L275.0,509.9 L290.5,509.9 L298.25,523.4 L290.5,536.8 L275.0,536.8 ZM267.25,550.2 L275.0,536.8 L290.5,536.8 L298.25,550.2 L290.5,563.6 L275.0,563.6 ZM267.25,577.0 L275.0,563.6 L290.5,563.6 L298.25,577.0 L290.5,590.5 L275.0,590.5 ZM267.25,603.9 L275.0,590.5 L290.5,590.5 L298.25,603.9 L290.5,617.3 L275.0,617.3 ZM267.25,630.7 L275.0,617.3 L290.5,617.3 L298.25,630.7 L290.5,644.2 L275.0,644.2 ZM267.25,657.6 L275.0,644.2 L290.5,644.2 L298.25,657.6 L290.5,671.0 L275.0,671.0 ZM267.25,684.4 L275.0,671.0 L290.5,671.0 L298.25,684.4 L290.5,697.9 L275.0,697.9 ZM267.25,711.3 L275.0,697.9 L290.5,697.9 L298.25,711.3 L290.5,724.7 L275.0,724.7 ZM290.5,295.2 L298.25,281.7 L313.75,281.7 L321.5,295.2 L313.75,308.6 L298.25,308.6 ZM290.5,322.0 L298.25,308.6 L313.75,308.6 L321.5,322.0 L313.75,335.4 L298.25,335.4 ZM290.5,348.8 L298.25,335.4 L313.75,335.4 L321.5,348.8 L313.75,362.3 L298.25,362.3 ZM290.5,375.7 L298.25,362.3 L313.75,362.3 L321.5,375.7 L313.75,389.1 L298.25,389.1 ZM290.5,402.5 L298.25,389.1 L313.75,389.1 L321.5,402.5 L313.75,416.0 L298.25,416.0 ZM290.5,429.4 L298.25,416.0 L313.75,416.0 L321.5,429.4 L313.75,442.8 L298.25,442.8 ZM290.5,456.2 L298.25,442.8 L313.75,442.8 L321.5,456.2 L313.75,469.7 L298.25,469.7 ZM290.5,483.1 L298.25,469.7 L313.75,469.7 L321.5,483.1 L313.75,496.5 L298.25,496.5 ZM290.5,509.9 L298.25,496.5 L313.75,496.5 L321.5,509.9 L313.75,523.4 L298.25,523.4 ZM290.5,536.8 L298.25,523.4 L313.75,523.4 L321.5,536.8 L313.75,550.2 L298.25,550.2 ZM290.5,563.6 L298.25,550.2 L313.75,550.2 L321.5,563.6 L313.75,577.0 L298.25,577.0 ZM290.5,590.5 L298.25,577.0 L313.75,577.0 L321.5,590.5 L313.75,603.9 L298.25,603.9 ZM290.5,617.3 L298.25,603.9 L313.75,603.9 L321.5,617.3 L313.75,630.7 L298.25,630.7 ZM290.5,644.2 L298.25,630.7 L313.75,630.7 L321.5,644.2 L313.75,657.6 L298.25,657.6 ZM290.5,671.0 L298.25,657.6 L313.75,657.6 L321.5,671.0 L313.75,684.4 L298.25,684.4 ZM290.5,697.9 L298.25,684.4 L313.75,684.4 L321.5,697.9 L313.75,711.3 L298.25,711.3 ZM313.75,308.6 L321.5,295.2 L337.0,295.2 L344.75,308.6 L337.0,322.0 L321.5,322.0 ZM313.75,335.4 L321.5,322.0 L337.0,322.0 L344.75,335.4 L337.0,348.8 L321.5,348.8 ZM313.75,362.3 L321.5,348.8 L337.0,348.8 L344.75,362.3 L337.0,375.7 L321.5,375.7 ZM313.75,389.1 L321.5,375.7 L337.0,375.7 L344.75,389.1 L337.0,402.5 L321.5,402.5 ZM313.75,416.0 L321.5,402.5 L337.0,402.5 L344.75,416.0 L337.0,429.4 L321.5,429.4 ZM313.75,442.8 L321.5,429.4 L337.0,429.4 L344.75,442.8 L337.0,456.2 L321.5,456.2 ZM313.75,469.7 L321.5,456.2 L337.0,456.2 L344.75,469.7 L337.0,483.1 L321.5,483.1 ZM313.75,496.5 L321.5,483.1 L337.0,483.1 L344.75,496.5 L337.0,509.9 L321.5,509.9 ZM313.75,523.4 L321.5,509.9 L337.0,509.9 L344.75,523.4 L337.0,536.8 L321.5,536.8 ZM313.75,550.2 L321.5,536.8 L337.0,536.8 L344.75,550.2 L337.0,563.6 L321.5,563.6 ZM313.75,577.0 L321.5,563.6 L337.0,563.6 L344.75,577.0 L337.0,590.5 L321.5,590.5 ZM313.75,603.9 L321.5,590.5 L337.0,590.5 L344.75,603.9 L337.0,617.3 L321.5,617.3 ZM313.75,630.7 L321.5,617.3 L337.0,617.3 L344.75,630.7 L337.0,644.2 L321.5,644.2 ZM313.75,657.6 L321.5,644.2 L337.0,644.2 L344.75,657.6 L337.0,671.0 L321.5,671.0 ZM313.75,684.4 L321.5,671.0 L337.0,671.0 L344.75,684.4 L337.0,697.9 L321.5,697.9 ZM313.75,711.3 L321.5,697.9 L337.0,697.9 L344.75,711.3 L337.0,724.7 L321.5,724.7 ZM337.0,295.2 L344.75,281.7 L360.25,281.7 L368.0,295.2 L360.25,308.6 L344.75,308.6 ZM337.0,322.0 L344.75,308.6 L360.25,308.6 L368.0,322.0 L360.25,335.4 L344.75,335.4 ZM337.0,348.8 L344.75,335.4 L360.25,335.4 L368.0,348.8 L360.25,362.3 L344.75,362.3 ZM337.0,375.7 L344.75,362.3 L360.25,362.3 L368.0,375.7 L360.25,389.1 L344.75,389.1 ZM337.0,402.5 L344.75,389.1 L360.25,389.1 L368.0,402.5 L360.25,416.0 L344.75,416.0 ZM337.0,429.4 L344.75,416.0 L360.25,416.0 L368.0,429.4 L360.25,442.8 L344.75,442.8 ZM337.0,456.2 L344.75,442.8 L360.25,442.8 L368.0,456.2 L360.25,469.7 L344.75,469.7 ZM337.0,483.1 L344.75,469.7 L360.25,469.7 L368.0,483.1 L360.25,496.5 L344.75,496.5 ZM337.0,509.9 L344.75,496.5 L360.25,496.5 L368.0,509.9 L360.25,523.4 L344.75,523.4 ZM337.0,536.8 L344.75,523.4 L360.25,523.4 L368.0,536.8 L360.25,550.2 L344.75,550.2 ZM337.0,563.6 L344.75,550.2 L360.25,550.2 L368.0,563.6 L360.25,577.0 L344.75,577.0 ZM337.0,590.5 L344.75,577.0 L360.25,577.0 L368.0,590.5 L360.25,603.9 L344.75,603.9 ZM337.0,617.3 L344.75,603.9 L360.25,603.9 L368.0,617.3 L360.25,630.7 L344.75,630.7 ZM337.0,644.2 L344.75,630.7 L360.25,630.7 L368.0,644.2 L360.25,657.6 L344.75,657.6 ZM337.0,671.0 L344.75,657.6 L360.25,657.6 L368.0,671.0 L360.25,684.4 L344.75,684.4 ZM337.0,697.9 L344.75,684.4 L360.25,684.4 L368.0,697.9 L360.25,711.3 L344.75,711.3 ZM360.25,308.6 L368.0,295.2 L383.5,295.2 L391.25,308.6 L383.5,322.0 L368.0,322.0 ZM360.25,335.4 L368.0,322.0 L383.5,322.0 L391.25,335.4 L383.5,348.8 L368.0,348.8 ZM360.25,362.3 L368.0,348.8 L383.5,348.8 L391.25,362.3 L383.5,375.7 L368.0,375.7 ZM360.25,389.1 L368.0,375.7 L383.5,375.7 L391.25,389.1 L383.5,402.5 L368.0,402.5 ZM360.25,416.0 L368.0,402.5 L383.5,402.5 L391.25,416.0 L383.5,429.4 L368.0,429.4 ZM360.25,442.8 L368.0,429.4 L383.5,429.4 L391.25,442.8 L383.5,456.2 L368.0,456.2 ZM360.25,469.7 L368.0,456.2 L383.5,456.2 L391.25,469.7 L383.5,483.1 L368.0,483.1 ZM360.25,496.5 L368.0,483.1 L383.5,483.1 L391.25,496.5 L383.5,509.9 L368.0,509.9 ZM360.25,523.4 L368.0,509.9 L383.5,509.9 L391.25,523.4 L383.5,536.8 L368.0,536.8 ZM360.25,550.2 L368.0,536.8 L383.5,536.8 L391.25,550.2 L383.5,563.6 L368.0,563.6 ZM360.25,577.0 L368.0,563.6 L383.5,563.6 L391.25,577.0 L383.5,590.5 L368.0,590.5 ZM360.25,603.9 L368.0,590.5 L383.5,590.5 L391.25,603.9 L383.5,617.3 L368.0,617.3 ZM360.25,630.7 L368.0,617.3 L383.5,617.3 L391.25,630.7 L383.5,644.2 L368.0,644.2 ZM360.25,657.6 L368.0,644.2 L383.5,644.2 L391.25,657.6 L383.5,671.0 L368.0,671.0 ZM360.25,684.4 L368.0,671.0 L383.5,671.0 L391.25,684.4 L383.5,697.9 L368.0,697.9 ZM360.25,711.3 L368.0,697.9 L383.5,697.9 L391.25,711.3 L383.5,724.7 L368.0,724.7 ZM383.5,295.2 L391.25,281.7 L406.75,281.7 L414.5,295.2 L406.75,308.6 L391.25,308.6 ZM383.5,322.0 L391.25,308.6 L406.75,308.6 L414.5,322.0 L406.75,335.4 L391.25,335.4 ZM383.5,348.8 L391.25,335.4 L406.75,335.4 L414.5,348.8 L406.75,362.3 L391.25,362.3 ZM383.5,375.7 L391.25,362.3 L406.75,362.3 L414.5,375.7 L406.75,389.1 L391.25,389.1 ZM383.5,402.5 L391.25,389.1 L406.75,389.1 L414.5,402.5 L406.75,416.0 L391.25,416.0 ZM383.5,429.4 L391.25,416.0 L406.75,416.0 L414.5,429.4 L406.75,442.8 L391.25,442.8 ZM383.5,456.2 L391.25,442.8 L406.75,442.8 L414.5,456.2 L406.75,469.7 L391.25,469.7 ZM383.5,483.1 L391.25,469.7 L406.75,469.7 L414.5,483.1 L406.75,496.5 L391.25,496.5 ZM383.5,509.9 L391.25,496.5 L406.75,496.5 L414.5,509.9 L406.75,523.4 L391.25,523.4 ZM383.5,536.8 L391.25,523.4 L406.75,523.4 L414.5,536.8 L406.75,550.2 L391.25,550.2 ZM383.5,563.6 L391.25,550.2 L406.75,550.2 L414.5,563.6 L406.75,577.0 L391.25,577.0 ZM383.5,590.5 L391.25,577.0 L406.75,577.0 L414.5,590.5 L406.75,603.9 L391.25,603.9 ZM383.5,617.3 L391.25,603.9 L406.75,603.9 L414.5,617.3 L406.75,630.7 L391.25,630.7 ZM383.5,644.2 L391.25,630.7 L406.75,630.7 L414.5,644.2 L406.75,657.6 L391.25,657.6 ZM383.5,671.0 L391.25,657.6 L406.75,657.6 L414.5,671.0 L406.75,684.4 L391.25,684.4 ZM383.5,697.9 L391.25,684.4 L406.75,684.4 L414.5,697.9 L406.75,711.3 L391.25,711.3 ZM406.75,308.6 L414.5,295.2 L430.0,295.2 L437.75,308.6 L430.0,322.0 L414.5,322.0 ZM406.75,335.4 L414.5,322.0 L430.0,322.0 L437.75,335.4 L430.0,348.8 L414.5,348.8 ZM406.75,362.3 L414.5,348.8 L430.0,348.8 L437.75,362.3 L430.0,375.7 L414.5,375.7 ZM406.75,389.1 L414.5,375.7 L430.0,375.7 L437.75,389.1 L430.0,402.5 L414.5,402.5 ZM406.75,416.0 L414.5,402.5 L430.0,402.5 L437.75,416.0 L430.0,429.4 L414.5,429.4 ZM406.75,442.8 L414.5,429.4 L430.0,429.4 L437.75,442.8 L430.0,456.2 L414.5,456.2 ZM406.75,469.7 L414.5,456.2 L430.0,456.2 L437.75,469.7 L430.0,483.1 L414.5,483.1 ZM406.75,496.5 L414.5,483.1 L430.0,483.1 L437.75,496.5 L430.0,509.9 L414.5,509.9 ZM406.75,523.4 L414.5,509.9 L430.0,509.9 L437.75,523.4 L430.0,536.8 L414.5,536.8 ZM406.75,550.2 L414.5,536.8 L430.0,536.8 L437.75,550.2 L430.0,563.6 L414.5,563.6 ZM406.75,577.0 L414.5,563.6 L430.0,563.6 L437.75,577.0 L430.0,590.5 L414.5,590.5 ZM406.75,603.9 L414.5,590.5 L430.0,590.5 L437.75,603.9 L430.0,617.3 L414.5,617.3 ZM406.75,630.7 L414.5,617.3 L430.0,617.3 L437.75,630.7 L430.0,644.2 L414.5,644.2 ZM406.75,657.6 L414.5,644.2 L430.0,644.2 L437.75,657.6 L430.0,671.0 L414.5,671.0 ZM406.75,684.4 L414.5,671.0 L430.0,671.0 L437.75,684.4 L430.0,697.9 L414.5,697.9 ZM406.75,711.3 L414.5,697.9 L430.0,697.9 L437.75,711.3 L430.0,724.7 L414.5,724.7 ZM430.0,295.2 L437.75,281.7 L453.25,281.7 L461.0,295.2 L453.25,308.6 L437.75,308.6 ZM430.0,322.0 L437.75,308.6 L453.25,308.6 L461.0,322.0 L453.25,335.4 L437.75,335.4 ZM430.0,348.8 L437.75,335.4 L453.25,335.4 L461.0,348.8 L453.25,362.3 L437.75,362.3 ZM430.0,375.7 L437.75,362.3 L453.25,362.3 L461.0,375.7 L453.25,389.1 L437.75,389.1 ZM430.0,402.5 L437.75,389.1 L453.25,389.1 L461.0,402.5 L453.25,416.0 L437.75,416.0 ZM430.0,429.4 L437.75,416.0 L453.25,416.0 L461.0,429.4 L453.25,442.8 L437.75,442.8 ZM430.0,456.2 L437.75,442.8 L453.25,442.8 L461.0,456.2 L453.25,469.7 L437.75,469.7 ZM430.0,483.1 L437.75,469.7 L453.25,469.7 L461.0,483.1 L453.25,496.5 L437.75,496.5 ZM430.0,509.9 L437.75,496.5 L453.25,496.5 L461.0,509.9 L453.25,523.4 L437.75,523.4 ZM430.0,536.8 L437.75,523.4 L453.25,523.4 L461.0,536.8 L453.25,550.2 L437.75,550.2 ZM430.0,563.6 L437.75,550.2 L453.25,550.2 L461.0,563.6 L453.25,577.0 L437.75,577.0 ZM430.0,590.5 L437.75,577.0 L453.25,577.0 L461.0,590.5 L453.25,603.9 L437.75,603.9 ZM430.0,617.3 L437.75,603.9 L453.25,603.9 L461.0,617.3 L453.25,630.7 L437.75,630.7 ZM430.0,644.2 L437.75,630.7 L453.25,630.7 L461.0,644.2 L453.25,657.6 L437.75,657.6 ZM430.0,671.0 L437.75,657.6 L453.25,657.6 L461.0,671.0 L453.25,684.4 L437.75,684.4 ZM430.0,697.9 L437.75,684.4 L453.25,684.4 L461.0,697.9 L453.25,711.3 L437.75,711.3 ZM453.25,308.6 L461.0,295.2 L476.5,295.2 L484.25,308.6 L476.5,322.0 L461.0,322.0 ZM453.25,335.4 L461.0,322.0 L476.5,322.0 L484.25,335.4 L476.5,348.8 L461.0,348.8 ZM453.25,362.3 L461.0,348.8 L476.5,348.8 L484.25,362.3 L476.5,375.7 L461.0,375.7 ZM453.25,389.1 L461.0,375.7 L476.5,375.7 L484.25,389.1 L476.5,402.5 L461.0,402.5 ZM453.25,416.0 L461.0,402.5 L476.5,402.5 L484.25,416.0 L476.5,429.4 L461.0,429.4 ZM453.25,442.8 L461.0,429.4 L476.5,429.4 L484.25,442.8 L476.5,456.2 L461.0,456.2 ZM453.25,469.7 L461.0,456.2 L476.5,456.2 L484.25,469.7 L476.5,483.1 L461.0,483.1 ZM453.25,496.5 L461.0,483.1 L476.5,483.1 L484.25,496.5 L476.5,509.9 L461.0,509.9 ZM453.25,523.4 L461.0,509.9 L476.5,509.9 L484.25,523.4 L476.5,536.8 L461.0,536.8 ZM453.25,550.2 L461.0,536.8 L476.5,536.8 L484.25,550.2 L476.5,563.6 L461.0,563.6 ZM453.25,577.0 L461.0,563.6 L476.5,563.6 L484.25,577.0 L476.5,590.5 L461.0,590.5 ZM453.25,603.9 L461.0,590.5 L476.5,590.5 L484.25,603.9 L476.5,617.3 L461.0,617.3 ZM453.25,630.7 L461.0,617.3 L476.5,617.3 L484.25,630.7 L476.5,644.2 L461.0,644.2 ZM453.25,657.6 L461.0,644.2 L476.5,644.2 L484.25,657.6 L476.5,671.0 L461.0,671.0 ZM453.25,684.4 L461.0,671.0 L476.5,671.0 L484.25,684.4 L476.5,697.9 L461.0,697.9 ZM453.25,711.3 L461.0,697.9 L476.5,697.9 L484.25,711.3 L476.5,724.7 L461.0,724.7 Z" fill="none" stroke="#3e5e1c" stroke-width="0.6" opacity="0.3"/>
<pattern id="fpat" width="5" height="5" patternUnits="userSpaceOnUse"><rect width="5" height="5" fill="#3e9c3a"/><circle cx="2.5" cy="2.5" r="1.7" fill="none" stroke="#2e7a2c" stroke-width="0.8"/></pattern>
<g fill="#2c7a2a" stroke="#2c7a2a" stroke-width="2"><circle cx="393.4" cy="330.7" r="8.2"/><circle cx="399.6" cy="330.5" r="7.8"/><circle cx="405.1" cy="330.5" r="7.8"/><circle cx="413.1" cy="329.3" r="7.5"/><circle cx="417.3" cy="331.4" r="7.9"/><circle cx="423.4" cy="331.9" r="8.2"/><circle cx="431.5" cy="330.8" r="7.3"/><circle cx="435.8" cy="330.6" r="7.2"/><circle cx="442.6" cy="329.7" r="7.2"/><circle cx="345.4" cy="441.3" r="22.1"/><circle cx="348.6" cy="441.9" r="21.0"/><circle cx="352.0" cy="441.4" r="20.3"/><circle cx="111.0" cy="496.0" r="12.4"/><circle cx="110.6" cy="493.9" r="11.3"/><circle cx="109.9" cy="493.2" r="12.2"/><circle cx="58.7" cy="557.0" r="11.1"/><circle cx="60.4" cy="557.0" r="10.5"/><circle cx="58.1" cy="557.2" r="11.2"/><circle cx="216.9" cy="581.2" r="10.1"/><circle cx="215.9" cy="590.1" r="10.4"/><circle cx="214.3" cy="596.5" r="11.5"/><circle cx="216.3" cy="603.6" r="10.4"/><circle cx="214.3" cy="611.2" r="11.2"/><circle cx="162.5" cy="636.7" r="7.6"/><circle cx="162.6" cy="639.7" r="7.3"/><circle cx="163.9" cy="640.3" r="7.6"/><circle cx="337.6" cy="565.8" r="6.0"/><circle cx="339.4" cy="568.4" r="6.0"/><circle cx="337.6" cy="571.2" r="5.9"/><circle cx="372.9" cy="556.3" r="8.2"/><circle cx="371.6" cy="561.8" r="8.0"/><circle cx="372.0" cy="566.9" r="7.2"/><circle cx="371.3" cy="572.7" r="7.4"/><circle cx="372.8" cy="577.1" r="7.6"/><circle cx="403.4" cy="558.0" r="16.6"/><circle cx="403.1" cy="557.0" r="15.6"/><circle cx="403.2" cy="559.0" r="15.8"/><circle cx="403.1" cy="605.7" r="12.0"/><circle cx="403.1" cy="606.4" r="11.9"/><circle cx="404.3" cy="604.8" r="10.6"/><circle cx="411.1" cy="583.9" r="6.4"/><circle cx="414.6" cy="581.8" r="7.0"/><circle cx="415.8" cy="581.9" r="6.3"/><circle cx="346.7" cy="597.7" r="6.9"/><circle cx="347.2" cy="600.1" r="7.3"/><circle cx="347.3" cy="600.3" r="6.9"/><circle cx="366.5" cy="612.3" r="8.1"/><circle cx="366.7" cy="617.8" r="8.0"/><circle cx="368.2" cy="623.4" r="8.0"/><circle cx="369.2" cy="631.7" r="8.4"/><circle cx="368.6" cy="636.3" r="7.8"/><circle cx="393.6" cy="621.6" r="7.6"/><circle cx="395.6" cy="627.4" r="6.7"/><circle cx="395.4" cy="628.9" r="7.4"/><circle cx="435.5" cy="564.5" r="7.7"/><circle cx="436.1" cy="566.2" r="8.7"/><circle cx="436.7" cy="568.6" r="8.6"/><circle cx="293.7" cy="596.1" r="6.8"/><circle cx="293.7" cy="599.9" r="6.6"/><circle cx="293.4" cy="602.3" r="6.7"/><circle cx="292.9" cy="603.1" r="6.7"/><circle cx="298.8" cy="624.2" r="6.8"/><circle cx="300.0" cy="630.9" r="6.9"/><circle cx="298.2" cy="634.7" r="6.7"/><circle cx="298.3" cy="639.3" r="6.3"/><circle cx="299.3" cy="641.1" r="6.8"/><circle cx="319.4" cy="641.7" r="6.9"/><circle cx="320.5" cy="642.8" r="7.1"/><circle cx="320.8" cy="641.0" r="6.5"/><circle cx="338.0" cy="446.6" r="7.3"/><circle cx="338.7" cy="450.5" r="7.6"/><circle cx="338.7" cy="452.0" r="7.9"/></g>
<g fill="url(#fpat)"><circle cx="393.4" cy="330.7" r="8.2"/><circle cx="399.6" cy="330.5" r="7.8"/><circle cx="405.1" cy="330.5" r="7.8"/><circle cx="413.1" cy="329.3" r="7.5"/><circle cx="417.3" cy="331.4" r="7.9"/><circle cx="423.4" cy="331.9" r="8.2"/><circle cx="431.5" cy="330.8" r="7.3"/><circle cx="435.8" cy="330.6" r="7.2"/><circle cx="442.6" cy="329.7" r="7.2"/><circle cx="345.4" cy="441.3" r="22.1"/><circle cx="348.6" cy="441.9" r="21.0"/><circle cx="352.0" cy="441.4" r="20.3"/><circle cx="111.0" cy="496.0" r="12.4"/><circle cx="110.6" cy="493.9" r="11.3"/><circle cx="109.9" cy="493.2" r="12.2"/><circle cx="58.7" cy="557.0" r="11.1"/><circle cx="60.4" cy="557.0" r="10.5"/><circle cx="58.1" cy="557.2" r="11.2"/><circle cx="216.9" cy="581.2" r="10.1"/><circle cx="215.9" cy="590.1" r="10.4"/><circle cx="214.3" cy="596.5" r="11.5"/><circle cx="216.3" cy="603.6" r="10.4"/><circle cx="214.3" cy="611.2" r="11.2"/><circle cx="162.5" cy="636.7" r="7.6"/><circle cx="162.6" cy="639.7" r="7.3"/><circle cx="163.9" cy="640.3" r="7.6"/><circle cx="337.6" cy="565.8" r="6.0"/><circle cx="339.4" cy="568.4" r="6.0"/><circle cx="337.6" cy="571.2" r="5.9"/><circle cx="372.9" cy="556.3" r="8.2"/><circle cx="371.6" cy="561.8" r="8.0"/><circle cx="372.0" cy="566.9" r="7.2"/><circle cx="371.3" cy="572.7" r="7.4"/><circle cx="372.8" cy="577.1" r="7.6"/><circle cx="403.4" cy="558.0" r="16.6"/><circle cx="403.1" cy="557.0" r="15.6"/><circle cx="403.2" cy="559.0" r="15.8"/><circle cx="403.1" cy="605.7" r="12.0"/><circle cx="403.1" cy="606.4" r="11.9"/><circle cx="404.3" cy="604.8" r="10.6"/><circle cx="411.1" cy="583.9" r="6.4"/><circle cx="414.6" cy="581.8" r="7.0"/><circle cx="415.8" cy="581.9" r="6.3"/><circle cx="346.7" cy="597.7" r="6.9"/><circle cx="347.2" cy="600.1" r="7.3"/><circle cx="347.3" cy="600.3" r="6.9"/><circle cx="366.5" cy="612.3" r="8.1"/><circle cx="366.7" cy="617.8" r="8.0"/><circle cx="368.2" cy="623.4" r="8.0"/><circle cx="369.2" cy="631.7" r="8.4"/><circle cx="368.6" cy="636.3" r="7.8"/><circle cx="393.6" cy="621.6" r="7.6"/><circle cx="395.6" cy="627.4" r="6.7"/><circle cx="395.4" cy="628.9" r="7.4"/><circle cx="435.5" cy="564.5" r="7.7"/><circle cx="436.1" cy="566.2" r="8.7"/><circle cx="436.7" cy="568.6" r="8.6"/><circle cx="293.7" cy="596.1" r="6.8"/><circle cx="293.7" cy="599.9" r="6.6"/><circle cx="293.4" cy="602.3" r="6.7"/><circle cx="292.9" cy="603.1" r="6.7"/><circle cx="298.8" cy="624.2" r="6.8"/><circle cx="300.0" cy="630.9" r="6.9"/><circle cx="298.2" cy="634.7" r="6.7"/><circle cx="298.3" cy="639.3" r="6.3"/><circle cx="299.3" cy="641.1" r="6.8"/><circle cx="319.4" cy="641.7" r="6.9"/><circle cx="320.5" cy="642.8" r="7.1"/><circle cx="320.8" cy="641.0" r="6.5"/><circle cx="338.0" cy="446.6" r="7.3"/><circle cx="338.7" cy="450.5" r="7.6"/><circle cx="338.7" cy="452.0" r="7.9"/></g>
<path d="M28.3,348.5 C29.9,349.8 35.1,351.1 37.7,356.3 C40.3,361.6 41.4,374.5 44.0,380.0 C46.6,385.5 49.3,389.7 53.5,389.4 C57.7,389.1 63.5,379.5 69.2,378.4 C75.0,377.3 82.2,380.6 88.0,383.0 C93.8,385.4 99.1,390.4 103.8,392.5 C108.5,394.6 113.2,393.6 116.4,395.7 C119.6,397.8 121.1,402.4 122.7,405.0 C124.3,407.6 125.4,410.3 125.9,411.4" fill="none" stroke="#2b2f8e" stroke-width="3.2" stroke-linejoin="round" stroke-linecap="round" />
<path d="M91.2,353.2 C92.2,350.8 94.4,341.9 97.5,339.0 C100.6,336.1 109.0,333.8 110.0,335.9 C111.0,338.0 105.3,346.9 103.8,351.6 C102.2,356.3 98.1,360.8 100.7,364.2 C103.3,367.6 115.9,368.4 119.6,372.1 C123.3,375.8 120.1,382.8 122.7,386.2 C125.3,389.6 130.6,391.7 135.3,392.5 C140.0,393.3 145.8,391.5 151.0,391.0 C156.2,390.5 163.1,391.8 166.8,389.4 C170.5,387.0 173.1,381.0 173.1,376.8 C173.1,372.6 167.3,368.9 166.8,364.2 C166.3,359.5 167.8,351.8 169.9,348.5 C172.0,345.2 175.2,343.7 179.4,344.5 C183.6,345.3 192.5,351.8 195.1,353.2" fill="none" stroke="#2b2f8e" stroke-width="3.2" stroke-linejoin="round" stroke-linecap="round" />
<path d="M296.8,372.1 C298.4,370.5 302.5,364.7 306.2,362.6 C309.9,360.5 315.6,358.4 318.8,359.5 C322.0,360.6 322.0,365.5 325.1,368.9 C328.2,372.3 334.0,379.2 337.7,380.0 C341.4,380.8 344.0,376.5 347.1,373.6 C350.2,370.7 352.7,365.0 356.6,362.6 C360.6,360.2 366.6,359.2 370.8,359.5 C375.0,359.8 377.9,362.4 381.8,364.2 C385.7,366.0 392.3,369.4 394.4,370.5" fill="none" stroke="#2b2f8e" stroke-width="3.2" stroke-linejoin="round" stroke-linecap="round" />
<path d="M277.9,411.4 C279.7,410.6 284.7,407.0 288.9,406.7 C293.1,406.4 297.1,409.8 303.1,409.8 C309.1,409.8 317.8,409.1 325.1,406.7 C332.4,404.3 339.2,399.4 347.1,395.7 C355.0,392.0 366.5,386.0 372.3,384.7 C378.1,383.4 379.7,384.9 381.8,387.8 C383.9,390.7 382.5,398.9 384.9,402.0 C387.2,405.1 392.8,407.2 395.9,406.7 C399.0,406.2 402.5,401.7 403.8,398.8 C405.1,395.9 401.2,391.8 403.8,389.4 C406.4,387.0 411.6,386.3 419.5,384.7 C427.4,383.1 445.8,380.8 451.0,380.0" fill="none" stroke="#2b2f8e" stroke-width="3.2" stroke-linejoin="round" stroke-linecap="round" />
<path d="M356.6,326.4 C357.7,327.7 358.2,331.9 362.9,334.3 C367.6,336.7 377.0,340.6 384.9,340.6 C392.8,340.6 403.3,334.6 410.1,334.3 C416.9,334.0 419.0,337.9 425.8,339.0 C432.6,340.1 446.8,340.3 451.0,340.6" fill="none" stroke="#2b2f8e" stroke-width="3.2" stroke-linejoin="round" stroke-linecap="round" />
<path d="M403.8,389.4 C407.5,389.4 421.4,387.8 425.8,389.4 C430.2,391.0 427.9,395.6 430.5,398.8 C433.1,402.0 437.9,406.7 441.6,408.3 C445.3,409.9 450.8,408.3 452.6,408.3" fill="none" stroke="#2b2f8e" stroke-width="3.2" stroke-linejoin="round" stroke-linecap="round" />
<path d="M31.7,496.2 C33.9,497.0 40.9,498.4 44.7,501.1 C48.5,503.8 50.6,508.3 54.4,512.4 C58.2,516.4 62.0,522.7 67.4,525.4 C72.8,528.1 81.7,526.5 86.8,528.6 C91.9,530.8 96.0,534.0 98.2,538.3 C100.4,542.6 100.3,549.2 99.8,554.6 C99.2,560.0 96.2,565.9 94.9,570.8 C93.6,575.6 91.4,579.9 91.7,583.7 C92.0,587.5 96.9,590.2 96.6,593.5 C96.3,596.8 91.2,601.6 90.1,603.2" fill="none" stroke="#2b2f8e" stroke-width="3.2" stroke-linejoin="round" stroke-linecap="round" />
<path d="M156.5,480.0 C157.8,482.7 164.9,490.8 164.6,496.2 C164.3,501.6 159.8,508.1 154.9,512.4 C150.1,516.7 140.9,518.6 135.5,522.1 C130.1,525.6 125.8,527.5 122.5,533.5 C119.2,539.5 116.5,551.6 116.0,557.8 C115.5,564.0 119.2,566.5 119.2,570.8 C119.2,575.1 113.8,580.2 116.0,583.7 C118.2,587.2 127.3,590.2 132.2,591.8 C137.1,593.4 141.9,590.5 145.2,593.5 C148.4,596.5 151.7,604.3 151.7,609.7 C151.7,615.1 145.2,619.4 145.2,625.9 C145.2,632.4 150.6,644.8 151.7,648.6" fill="none" stroke="#2b2f8e" stroke-width="3.2" stroke-linejoin="round" stroke-linecap="round" />
<path d="M167.9,512.4 C170.6,513.8 178.7,518.3 184.1,520.5 C189.5,522.7 197.1,521.9 200.3,525.4 C203.5,528.9 203.5,535.7 203.5,541.6 C203.5,547.5 200.6,555.1 200.3,561.0 C200.0,566.9 202.5,571.8 201.9,577.2 C201.3,582.6 197.3,586.7 197.0,593.5 C196.7,600.3 200.3,608.6 200.3,617.8 C200.3,627.0 197.6,643.5 197.0,648.6" fill="none" stroke="#2b2f8e" stroke-width="3.2" stroke-linejoin="round" stroke-linecap="round" />
<path d="M184.0,519.0 C192.1,520.3 224.0,522.7 232.7,527.0 C241.4,531.3 235.4,541.8 236.0,544.8" fill="none" stroke="#2b2f8e" stroke-width="3.2" stroke-linejoin="round" stroke-linecap="round" />
<path d="M250.0,480.0 C251.1,481.6 255.9,485.9 256.4,489.7 C256.9,493.5 252.9,499.4 253.2,502.7 C253.5,505.9 257.3,508.1 258.1,509.2" fill="none" stroke="#2b2f8e" stroke-width="3.2" stroke-linejoin="round" stroke-linecap="round" />
<path d="M298.6,480.0 C300.0,482.2 305.6,488.1 306.7,493.0 C307.8,497.9 304.8,504.3 305.1,509.2 C305.4,514.0 304.5,519.4 308.3,522.1 C312.1,524.8 325.6,522.1 327.8,525.4 C330.0,528.6 324.6,537.3 321.3,541.6 C318.1,545.9 310.7,547.5 308.3,551.3 C305.9,555.1 303.4,560.0 306.7,564.3 C309.9,568.6 324.3,572.3 327.8,577.2 C331.3,582.1 326.7,588.1 327.8,593.5 C328.9,598.9 332.1,603.0 334.2,609.7 C336.3,616.5 338.5,627.5 340.7,634.0 C342.9,640.5 346.1,646.2 347.2,648.6" fill="none" stroke="#2b2f8e" stroke-width="3.2" stroke-linejoin="round" stroke-linecap="round" />
<path d="M373.1,480.0 C373.9,482.2 376.9,489.2 378.0,493.0 C379.1,496.8 381.5,500.6 379.6,502.7 C377.7,504.8 371.6,504.3 366.7,505.9 C361.8,507.5 353.8,508.6 350.5,512.4 C347.2,516.2 346.7,524.3 347.2,528.6 C347.7,532.9 349.1,536.1 353.7,538.3 C358.3,540.5 371.3,541.0 374.8,541.6" fill="none" stroke="#2b2f8e" stroke-width="3.2" stroke-linejoin="round" stroke-linecap="round" />
<path d="M405.6,480.0 C405.6,481.6 406.7,487.0 405.6,489.7 C404.5,492.4 399.9,490.2 399.1,496.2 C398.3,502.1 399.1,518.4 400.7,525.4 C402.3,532.4 406.4,535.9 408.8,538.3 C411.2,540.7 414.2,539.7 415.3,540.0" fill="none" stroke="#2b2f8e" stroke-width="3.2" stroke-linejoin="round" stroke-linecap="round" />
<path d="M451.0,493.0 C451.3,503.0 452.3,543.0 452.6,553.0" fill="none" stroke="#2b2f8e" stroke-width="3.2" stroke-linejoin="round" stroke-linecap="round" />
<path d="M120.0,420.0 C125.0,421.7 138.3,428.7 150.0,430.0 C161.7,431.3 176.7,426.3 190.0,428.0 C203.3,429.7 218.3,438.7 230.0,440.0 C241.7,441.3 248.3,435.0 260.0,436.0 C271.7,437.0 290.0,440.3 300.0,446.0 C310.0,451.7 315.0,464.3 320.0,470.0 C325.0,475.7 328.3,478.3 330.0,480.0" fill="none" stroke="#2b2f8e" stroke-width="3.2" stroke-linejoin="round" stroke-linecap="round" />
<path d="M30.0,425.0 C35.0,426.2 51.7,428.5 60.0,432.0 C68.3,435.5 78.3,439.7 80.0,446.0 C81.7,452.3 76.7,464.3 70.0,470.0 C63.3,475.7 45.0,478.3 40.0,480.0" fill="none" stroke="#2b2f8e" stroke-width="3.2" stroke-linejoin="round" stroke-linecap="round" />
<path d="M40.0,400.0 C46.7,397.3 66.7,384.0 80.0,384.0 C93.3,384.0 106.7,396.3 120.0,400.0 C133.3,403.7 146.7,406.7 160.0,406.0 C173.3,405.3 188.3,395.3 200.0,396.0 C211.7,396.7 225.0,407.7 230.0,410.0" fill="none" stroke="#2b2f8e" stroke-width="3.2" stroke-linejoin="round" stroke-linecap="round" />
<path d="M200.0,340.0 C205.0,338.7 221.7,331.2 230.0,332.0 C238.3,332.8 248.3,338.7 250.0,345.0 C251.7,351.3 238.3,363.3 240.0,370.0 C241.7,376.7 258.3,379.2 260.0,385.0 C261.7,390.8 251.7,401.7 250.0,405.0" fill="none" stroke="#2b2f8e" stroke-width="3.2" stroke-linejoin="round" stroke-linecap="round" />
<path d="M140.0,326.0 C141.7,328.0 144.2,336.7 150.0,338.0 C155.8,339.3 168.3,332.8 175.0,334.0 C181.7,335.2 187.5,343.2 190.0,345.0" fill="none" stroke="#2b2f8e" stroke-width="3.2" stroke-linejoin="round" stroke-linecap="round" />
<ellipse cx="325" cy="344" rx="5" ry="7" fill="#2b2f8e" transform="rotate(-20 325 344)"/>
<path d="M372.3,384.7 C373.9,385.6 378.9,387.4 381.8,390.0 C384.8,392.6 387.3,397.7 390.0,400.0 C392.7,402.3 396.7,403.3 398.0,404.0" fill="none" stroke="#2b3aa8" stroke-width="6" stroke-linejoin="round" stroke-linecap="round" />
<path d="M26.7,335.9 C31.2,333.8 41.2,325.4 53.5,323.3 C65.8,321.2 87.6,322.8 100.7,323.3 C113.8,323.8 121.7,326.1 132.2,326.4 C142.7,326.7 153.1,325.4 163.6,324.9 C174.1,324.4 182.0,323.3 195.1,323.3 C208.2,323.3 234.2,324.6 242.0,324.9" fill="none" stroke="#f2c230" stroke-width="2" stroke-linejoin="round" stroke-linecap="round" />
<path d="M31.4,395.7 C35.1,394.4 44.0,392.3 53.5,387.8 C63.0,383.3 75.0,376.5 88.1,368.9 C101.2,361.3 123.3,348.2 132.2,342.2 C141.1,336.2 140.0,334.3 141.6,332.7" fill="none" stroke="#f2c230" stroke-width="2" stroke-linejoin="round" stroke-linecap="round" />
<path d="M53.5,323.3 C55.1,327.0 57.7,338.0 62.9,345.3 C68.1,352.6 76.0,360.3 84.9,367.4 C93.8,374.5 108.8,382.6 116.4,387.8 C124.0,393.0 120.1,396.4 130.6,398.8 C141.1,401.2 168.7,403.6 179.4,402.0 C190.2,400.4 192.5,391.5 195.1,389.4" fill="none" stroke="#f2c230" stroke-width="2" stroke-linejoin="round" stroke-linecap="round" />
<path d="M138.4,331.2 C141.0,334.1 150.5,341.4 154.2,348.5 C157.9,355.6 157.3,367.3 160.5,373.6 C163.7,379.9 167.3,383.6 173.1,386.2 C178.9,388.8 183.6,388.9 195.1,389.4 C206.6,389.9 234.2,389.4 242.0,389.4" fill="none" stroke="#f2c230" stroke-width="2" stroke-linejoin="round" stroke-linecap="round" />
<path d="M160.5,372.1 C168.9,369.0 197.2,355.0 210.8,353.2 C224.4,351.4 236.8,359.8 242.0,361.1" fill="none" stroke="#f2c230" stroke-width="2" stroke-linejoin="round" stroke-linecap="round" />
<path d="M185.6,326.4 C185.6,331.9 185.6,354.0 185.6,359.5" fill="none" stroke="#f2c230" stroke-width="2" stroke-linejoin="round" stroke-linecap="round" />
<path d="M130.6,398.8 C130.9,401.4 131.9,412.0 132.2,414.6" fill="none" stroke="#f2c230" stroke-width="2" stroke-linejoin="round" stroke-linecap="round" />
<path d="M192.0,389.4 C194.3,393.6 203.8,410.4 206.1,414.6" fill="none" stroke="#f2c230" stroke-width="2" stroke-linejoin="round" stroke-linecap="round" />
<path d="M237.0,326.4 C242.2,326.4 256.4,325.9 268.5,326.4 C280.6,326.9 298.4,327.8 309.4,329.6 C320.4,331.5 323.1,333.1 334.6,337.5 C346.1,341.9 366.0,351.1 378.6,356.3 C391.2,361.5 402.2,364.4 410.1,368.9 C418.0,373.4 418.0,377.1 425.8,383.1 C433.6,389.1 451.8,401.4 457.0,405.1" fill="none" stroke="#f2c230" stroke-width="2" stroke-linejoin="round" stroke-linecap="round" />
<path d="M237.0,357.9 C242.2,356.8 253.8,353.2 268.5,351.6 C283.2,350.0 305.7,347.4 325.1,348.5 C344.5,349.6 370.7,355.0 384.9,357.9 C399.1,360.8 398.1,366.3 410.1,365.8 C422.1,365.3 449.2,356.6 457.0,354.8" fill="none" stroke="#f2c230" stroke-width="2" stroke-linejoin="round" stroke-linecap="round" />
<path d="M259.0,323.3 C259.3,338.0 260.3,396.7 260.6,411.4" fill="none" stroke="#f2c230" stroke-width="2" stroke-linejoin="round" stroke-linecap="round" />
<path d="M384.9,323.3 C384.9,338.0 384.9,396.7 384.9,411.4" fill="none" stroke="#f2c230" stroke-width="2" stroke-linejoin="round" stroke-linecap="round" />
<path d="M331.4,362.6 C326.1,365.8 315.6,377.0 299.9,381.5 C284.2,386.0 247.5,388.1 237.0,389.4" fill="none" stroke="#f2c230" stroke-width="2" stroke-linejoin="round" stroke-linecap="round" />
<path d="M345.6,323.3 C343.2,326.7 333.0,338.0 331.4,343.8 C329.8,349.6 335.3,355.5 336.1,357.9" fill="none" stroke="#f2c230" stroke-width="2" stroke-linejoin="round" stroke-linecap="round" />
<path d="M83.6,544.8 C86.3,542.1 95.5,535.6 99.8,528.6 C104.1,521.6 106.3,508.1 109.5,502.7 C112.7,497.3 112.2,497.8 119.2,496.2 C126.2,494.6 144.7,495.7 151.7,493.0 C158.7,490.3 159.8,482.2 161.4,480.0" fill="none" stroke="#f2c230" stroke-width="2" stroke-linejoin="round" stroke-linecap="round" />
<path d="M83.6,544.8 C89.5,548.0 107.9,561.6 119.2,564.3 C130.6,567.0 140.9,559.9 151.7,561.0 C162.5,562.1 174.6,570.8 184.1,570.8 C193.6,570.8 198.8,565.9 208.4,561.0 C218.1,556.1 236.4,544.8 242.0,541.6" fill="none" stroke="#f2c230" stroke-width="2" stroke-linejoin="round" stroke-linecap="round" />
<path d="M83.6,570.8 C92.2,575.6 121.5,591.3 135.5,599.9 C149.6,608.5 150.2,617.2 167.9,622.6 C185.7,628.0 229.7,630.8 242.0,632.4" fill="none" stroke="#f2c230" stroke-width="2" stroke-linejoin="round" stroke-linecap="round" />
<path d="M47.9,609.7 C57.1,608.6 85.7,607.5 103.0,603.2 C120.3,598.9 138.2,589.1 151.7,583.7 C165.2,578.3 178.7,572.9 184.1,570.8" fill="none" stroke="#f2c230" stroke-width="2" stroke-linejoin="round" stroke-linecap="round" />
<path d="M28.5,480.0 C28.5,498.9 25.3,571.9 28.5,593.5 C31.7,615.1 44.7,607.0 47.9,609.7" fill="none" stroke="#f2c230" stroke-width="2" stroke-linejoin="round" stroke-linecap="round" />
<path d="M135.5,507.6 C135.5,511.1 131.7,522.4 135.5,528.6 C139.3,534.8 154.3,542.1 158.1,544.8" fill="none" stroke="#f2c230" stroke-width="2" stroke-linejoin="round" stroke-linecap="round" />
<path d="M184.1,570.8 C183.6,577.3 180.8,596.7 180.8,609.7 C180.8,622.7 183.6,642.1 184.1,648.6" fill="none" stroke="#f2c230" stroke-width="2" stroke-linejoin="round" stroke-linecap="round" />
<path d="M190.6,480.0 C190.6,485.4 186.8,504.3 190.6,512.4 C194.4,520.5 204.6,525.9 213.2,528.6 C221.8,531.3 237.2,528.6 242.0,528.6" fill="none" stroke="#f2c230" stroke-width="2" stroke-linejoin="round" stroke-linecap="round" />
<path d="M158.1,648.6 C158.1,643.5 153.8,625.6 158.1,617.8 C162.4,610.0 170.1,605.6 184.1,601.6 C198.1,597.6 232.3,594.9 242.0,593.5" fill="none" stroke="#f2c230" stroke-width="2" stroke-linejoin="round" stroke-linecap="round" />
<path d="M237.0,486.5 C245.1,487.6 269.9,494.1 285.6,493.0 C301.3,491.9 323.4,482.2 331.0,480.0" fill="none" stroke="#f2c230" stroke-width="2" stroke-linejoin="round" stroke-linecap="round" />
<path d="M237.0,512.4 C241.9,513.8 254.3,518.3 266.2,520.5 C278.1,522.7 297.0,526.8 308.3,525.4 C319.6,524.0 325.6,516.7 334.2,512.4 C342.8,508.1 352.1,500.8 360.2,499.4 C368.3,498.0 374.8,500.5 382.9,504.3 C391.0,508.1 400.7,520.8 408.8,522.1 C416.9,523.5 423.5,515.4 431.5,512.4 C439.5,509.4 452.8,505.6 457.0,504.3" fill="none" stroke="#f2c230" stroke-width="2" stroke-linejoin="round" stroke-linecap="round" />
<path d="M285.6,480.0 C288.9,487.6 301.3,517.3 305.1,525.4 C308.9,533.5 305.6,527.0 308.3,528.6 C311.0,530.2 316.4,529.7 321.3,535.1 C326.2,540.5 332.6,553.4 337.5,561.0 C342.4,568.6 340.2,572.7 350.5,580.5 C360.8,588.3 391.0,603.4 399.1,608.0" fill="none" stroke="#f2c230" stroke-width="2" stroke-linejoin="round" stroke-linecap="round" />
<path d="M237.0,577.2 C245.1,575.9 273.2,569.1 285.6,569.1 C298.0,569.1 306.7,573.1 311.6,577.2 C316.5,581.3 315.6,586.7 314.8,593.5 C314.0,600.3 303.5,611.0 306.7,617.8 C309.9,624.5 329.1,628.9 334.2,634.0 C339.3,639.1 336.9,646.2 337.5,648.6" fill="none" stroke="#f2c230" stroke-width="2" stroke-linejoin="round" stroke-linecap="round" />
<path d="M237.0,549.7 C245.1,548.4 273.2,545.1 285.6,541.6 C298.0,538.1 307.3,530.8 311.6,528.6" fill="none" stroke="#f2c230" stroke-width="2" stroke-linejoin="round" stroke-linecap="round" />
<path d="M436.4,483.2 C436.4,488.1 437.2,500.8 436.4,512.4 C435.6,524.0 431.8,539.9 431.5,552.9 C431.2,565.9 434.2,584.0 434.7,590.2" fill="none" stroke="#f2c230" stroke-width="2" stroke-linejoin="round" stroke-linecap="round" />
<path d="M311.6,499.4 C312.7,497.8 315.4,492.9 318.1,489.7 C320.8,486.5 326.2,481.6 327.8,480.0" fill="none" stroke="#f2c230" stroke-width="2" stroke-linejoin="round" stroke-linecap="round" />
<path d="M27.0,440.0 C32.5,440.8 47.8,440.0 60.0,445.0 C72.2,450.0 86.7,464.5 100.0,470.0 C113.3,475.5 123.3,478.0 140.0,478.0 C156.7,478.0 180.0,472.7 200.0,470.0 C220.0,467.3 240.0,462.0 260.0,462.0 C280.0,462.0 300.0,467.0 320.0,470.0 C340.0,473.0 358.0,480.0 380.0,480.0 C402.0,480.0 440.0,471.7 452.0,470.0" fill="none" stroke="#f2c230" stroke-width="2" stroke-linejoin="round" stroke-linecap="round" />
<path d="M27.0,470.0 C35.8,469.7 66.2,466.3 80.0,468.0 C93.8,469.7 105.0,478.0 110.0,480.0" fill="none" stroke="#f2c230" stroke-width="2" stroke-linejoin="round" stroke-linecap="round" />
<path d="M160.0,420.0 C161.7,425.0 165.0,440.0 170.0,450.0 C175.0,460.0 186.7,475.0 190.0,480.0" fill="none" stroke="#f2c230" stroke-width="2" stroke-linejoin="round" stroke-linecap="round" />
<path d="M240.0,420.0 C239.3,425.0 234.3,440.0 236.0,450.0 C237.7,460.0 247.7,475.0 250.0,480.0" fill="none" stroke="#f2c230" stroke-width="2" stroke-linejoin="round" stroke-linecap="round" />
<path d="M420.0,420.0 C421.7,425.0 426.7,440.0 430.0,450.0 C433.3,460.0 438.3,475.0 440.0,480.0" fill="none" stroke="#f2c230" stroke-width="2" stroke-linejoin="round" stroke-linecap="round" />
<path d="M33.0,323.3 C37.5,328.6 55.1,346.9 59.8,354.8 C64.5,362.7 65.5,365.3 61.3,370.5 C57.1,375.7 39.6,380.4 34.6,386.2 C29.6,392.0 31.9,402.0 31.4,405.1" fill="none" stroke="#111" stroke-width="3" stroke-linejoin="round" stroke-linecap="round" />
<path d="M33.0,323.3 C37.5,328.6 55.1,346.9 59.8,354.8 C64.5,362.7 65.5,365.3 61.3,370.5 C57.1,375.7 39.6,380.4 34.6,386.2 C29.6,392.0 31.9,402.0 31.4,405.1" fill="none" stroke="#fff" stroke-width="1.3" stroke-linejoin="round" stroke-linecap="round" stroke-dasharray="3 3" stroke-linecap="butt"/>
<path d="M31.4,386.2 C40.8,381.5 73.9,363.7 88.1,357.9 C102.3,352.1 108.0,350.0 116.4,351.6 C124.8,353.2 134.2,360.6 138.4,367.4 C142.6,374.2 136.9,384.6 141.6,392.5 C146.3,400.4 162.6,410.9 166.8,414.6" fill="none" stroke="#111" stroke-width="3" stroke-linejoin="round" stroke-linecap="round" />
<path d="M31.4,386.2 C40.8,381.5 73.9,363.7 88.1,357.9 C102.3,352.1 108.0,350.0 116.4,351.6 C124.8,353.2 134.2,360.6 138.4,367.4 C142.6,374.2 136.9,384.6 141.6,392.5 C146.3,400.4 162.6,410.9 166.8,414.6" fill="none" stroke="#fff" stroke-width="1.3" stroke-linejoin="round" stroke-linecap="round" stroke-dasharray="3 3" stroke-linecap="butt"/>
<path d="M237.0,326.4 C240.7,326.4 254.8,320.1 259.0,326.4 C263.2,332.7 258.0,354.0 262.2,364.2 C266.4,374.4 279.8,379.9 284.2,387.8 C288.6,395.7 288.1,407.5 288.9,411.4" fill="none" stroke="#111" stroke-width="3" stroke-linejoin="round" stroke-linecap="round" />
<path d="M237.0,326.4 C240.7,326.4 254.8,320.1 259.0,326.4 C263.2,332.7 258.0,354.0 262.2,364.2 C266.4,374.4 279.8,379.9 284.2,387.8 C288.6,395.7 288.1,407.5 288.9,411.4" fill="none" stroke="#fff" stroke-width="1.3" stroke-linejoin="round" stroke-linecap="round" stroke-dasharray="3 3" stroke-linecap="butt"/>
<path d="M268.5,324.9 C272.4,325.9 284.2,331.5 292.1,331.2 C300.0,330.9 309.1,324.6 315.7,323.3 C322.2,322.0 323.5,319.9 331.4,323.3 C339.3,326.7 354.0,338.3 362.9,343.8 C371.8,349.3 379.6,352.9 384.9,356.3 C390.1,359.7 393.3,359.5 394.4,364.2 C395.4,368.9 389.6,378.9 391.2,384.7 C392.8,390.5 398.0,395.4 403.8,398.8 C409.6,402.2 420.0,403.0 425.8,405.1 C431.6,407.2 436.3,410.3 438.4,411.4" fill="none" stroke="#111" stroke-width="3" stroke-linejoin="round" stroke-linecap="round" />
<path d="M268.5,324.9 C272.4,325.9 284.2,331.5 292.1,331.2 C300.0,330.9 309.1,324.6 315.7,323.3 C322.2,322.0 323.5,319.9 331.4,323.3 C339.3,326.7 354.0,338.3 362.9,343.8 C371.8,349.3 379.6,352.9 384.9,356.3 C390.1,359.7 393.3,359.5 394.4,364.2 C395.4,368.9 389.6,378.9 391.2,384.7 C392.8,390.5 398.0,395.4 403.8,398.8 C409.6,402.2 420.0,403.0 425.8,405.1 C431.6,407.2 436.3,410.3 438.4,411.4" fill="none" stroke="#fff" stroke-width="1.3" stroke-linejoin="round" stroke-linecap="round" stroke-dasharray="3 3" stroke-linecap="butt"/>
<path d="M392.8,323.3 C392.8,328.8 392.8,350.8 392.8,356.3" fill="none" stroke="#111" stroke-width="3" stroke-linejoin="round" stroke-linecap="round" />
<path d="M392.8,323.3 C392.8,328.8 392.8,350.8 392.8,356.3" fill="none" stroke="#fff" stroke-width="1.3" stroke-linejoin="round" stroke-linecap="round" stroke-dasharray="3 3" stroke-linecap="butt"/>
<path d="M26.7,452.3 C32.5,450.2 51.6,441.3 61.3,439.7 C71.0,438.1 75.7,439.8 84.9,442.9 C94.1,446.0 105.9,456.5 116.4,458.6 C126.9,460.7 137.4,457.6 147.9,455.5 C158.4,453.4 167.6,446.0 179.4,446.0 C191.2,446.0 208.3,454.4 218.7,455.5 C229.1,456.6 238.1,452.8 242.0,452.3" fill="none" stroke="#111" stroke-width="3" stroke-linejoin="round" stroke-linecap="round" />
<path d="M26.7,452.3 C32.5,450.2 51.6,441.3 61.3,439.7 C71.0,438.1 75.7,439.8 84.9,442.9 C94.1,446.0 105.9,456.5 116.4,458.6 C126.9,460.7 137.4,457.6 147.9,455.5 C158.4,453.4 167.6,446.0 179.4,446.0 C191.2,446.0 208.3,454.4 218.7,455.5 C229.1,456.6 238.1,452.8 242.0,452.3" fill="none" stroke="#fff" stroke-width="1.3" stroke-linejoin="round" stroke-linecap="round" stroke-dasharray="3 3" stroke-linecap="butt"/>
<path d="M237.0,442.9 C242.2,442.9 256.4,443.4 268.5,442.9 C280.6,442.4 298.9,442.3 309.4,439.7 C319.9,437.1 322.5,431.6 331.4,427.2 C340.3,422.8 353.7,414.6 362.9,413.0 C372.1,411.4 378.6,414.8 386.5,417.7 C394.4,420.6 400.9,429.8 410.1,430.3 C419.3,430.8 433.8,422.9 441.6,420.8 C449.4,418.7 454.4,418.2 457.0,417.7" fill="none" stroke="#111" stroke-width="3" stroke-linejoin="round" stroke-linecap="round" />
<path d="M237.0,442.9 C242.2,442.9 256.4,443.4 268.5,442.9 C280.6,442.4 298.9,442.3 309.4,439.7 C319.9,437.1 322.5,431.6 331.4,427.2 C340.3,422.8 353.7,414.6 362.9,413.0 C372.1,411.4 378.6,414.8 386.5,417.7 C394.4,420.6 400.9,429.8 410.1,430.3 C419.3,430.8 433.8,422.9 441.6,420.8 C449.4,418.7 454.4,418.2 457.0,417.7" fill="none" stroke="#fff" stroke-width="1.3" stroke-linejoin="round" stroke-linecap="round" stroke-dasharray="3 3" stroke-linecap="butt"/>
<path d="M287.4,419.3 C291.1,422.7 304.7,434.7 309.4,439.7 C314.1,444.7 314.1,441.3 315.7,449.2 C317.3,457.1 318.3,480.7 318.8,487.0" fill="none" stroke="#111" stroke-width="3" stroke-linejoin="round" stroke-linecap="round" />
<path d="M287.4,419.3 C291.1,422.7 304.7,434.7 309.4,439.7 C314.1,444.7 314.1,441.3 315.7,449.2 C317.3,457.1 318.3,480.7 318.8,487.0" fill="none" stroke="#fff" stroke-width="1.3" stroke-linejoin="round" stroke-linecap="round" stroke-dasharray="3 3" stroke-linecap="butt"/>
<path d="M35.0,512.4 C43.1,514.0 63.6,521.3 83.6,522.1 C103.6,522.9 138.2,517.0 154.9,517.3 C171.7,517.6 178.7,516.5 184.1,523.8 C189.5,531.1 186.8,549.4 187.3,561.0 C187.8,572.6 181.4,585.4 187.3,593.5 C193.2,601.6 213.9,604.9 223.0,609.7 C232.1,614.6 238.8,620.5 242.0,622.6" fill="none" stroke="#111" stroke-width="3" stroke-linejoin="round" stroke-linecap="round" />
<path d="M35.0,512.4 C43.1,514.0 63.6,521.3 83.6,522.1 C103.6,522.9 138.2,517.0 154.9,517.3 C171.7,517.6 178.7,516.5 184.1,523.8 C189.5,531.1 186.8,549.4 187.3,561.0 C187.8,572.6 181.4,585.4 187.3,593.5 C193.2,601.6 213.9,604.9 223.0,609.7 C232.1,614.6 238.8,620.5 242.0,622.6" fill="none" stroke="#fff" stroke-width="1.3" stroke-linejoin="round" stroke-linecap="round" stroke-dasharray="3 3" stroke-linecap="butt"/>
<path d="M35.0,496.2 C35.0,511.3 32.9,568.1 35.0,587.0 C37.1,605.9 39.3,603.2 47.9,609.7 C56.5,616.2 74.9,625.9 86.8,625.9 C98.7,625.9 110.0,614.0 119.2,609.7 C128.4,605.4 133.8,599.9 141.9,599.9 C150.0,599.9 160.9,609.2 167.9,609.7 C174.9,610.2 181.4,604.3 184.1,603.2" fill="none" stroke="#111" stroke-width="3" stroke-linejoin="round" stroke-linecap="round" />
<path d="M35.0,496.2 C35.0,511.3 32.9,568.1 35.0,587.0 C37.1,605.9 39.3,603.2 47.9,609.7 C56.5,616.2 74.9,625.9 86.8,625.9 C98.7,625.9 110.0,614.0 119.2,609.7 C128.4,605.4 133.8,599.9 141.9,599.9 C150.0,599.9 160.9,609.2 167.9,609.7 C174.9,610.2 181.4,604.3 184.1,603.2" fill="none" stroke="#fff" stroke-width="1.3" stroke-linejoin="round" stroke-linecap="round" stroke-dasharray="3 3" stroke-linecap="butt"/>
<path d="M237.0,567.5 C241.1,569.7 250.5,578.9 261.3,580.5 C272.1,582.1 293.5,577.2 301.9,577.2 C310.3,577.2 308.9,575.1 311.6,580.5 C314.3,585.9 313.2,602.1 318.1,609.7 C323.0,617.3 336.4,619.4 340.7,625.9 C345.0,632.4 343.4,644.8 344.0,648.6" fill="none" stroke="#111" stroke-width="3" stroke-linejoin="round" stroke-linecap="round" />
<path d="M237.0,567.5 C241.1,569.7 250.5,578.9 261.3,580.5 C272.1,582.1 293.5,577.2 301.9,577.2 C310.3,577.2 308.9,575.1 311.6,580.5 C314.3,585.9 313.2,602.1 318.1,609.7 C323.0,617.3 336.4,619.4 340.7,625.9 C345.0,632.4 343.4,644.8 344.0,648.6" fill="none" stroke="#fff" stroke-width="1.3" stroke-linejoin="round" stroke-linecap="round" stroke-dasharray="3 3" stroke-linecap="butt"/>
<path d="M288.9,583.7 C289.4,577.2 287.8,555.3 292.1,544.8 C296.4,534.3 309.9,527.8 314.8,520.5 C319.7,513.2 318.1,504.9 321.3,501.1 C324.5,497.3 329.3,497.5 334.2,497.8 C339.1,498.1 346.7,499.2 350.5,502.7 C354.3,506.2 354.3,515.1 357.0,518.9 C359.7,522.7 362.4,525.4 366.7,525.4 C371.0,525.4 377.5,523.8 382.9,518.9 C388.3,514.0 393.7,501.1 399.1,496.2 C404.5,491.3 407.2,491.6 415.3,489.7 C423.4,487.8 442.3,485.7 447.7,484.9" fill="none" stroke="#111" stroke-width="3" stroke-linejoin="round" stroke-linecap="round" />
<path d="M288.9,583.7 C289.4,577.2 287.8,555.3 292.1,544.8 C296.4,534.3 309.9,527.8 314.8,520.5 C319.7,513.2 318.1,504.9 321.3,501.1 C324.5,497.3 329.3,497.5 334.2,497.8 C339.1,498.1 346.7,499.2 350.5,502.7 C354.3,506.2 354.3,515.1 357.0,518.9 C359.7,522.7 362.4,525.4 366.7,525.4 C371.0,525.4 377.5,523.8 382.9,518.9 C388.3,514.0 393.7,501.1 399.1,496.2 C404.5,491.3 407.2,491.6 415.3,489.7 C423.4,487.8 442.3,485.7 447.7,484.9" fill="none" stroke="#fff" stroke-width="1.3" stroke-linejoin="round" stroke-linecap="round" stroke-dasharray="3 3" stroke-linecap="butt"/>
<path d="M316.4,480.0 C316.7,482.2 316.8,489.8 318.1,493.0 C319.5,496.2 323.4,498.3 324.5,499.4" fill="none" stroke="#111" stroke-width="3" stroke-linejoin="round" stroke-linecap="round" />
<path d="M316.4,480.0 C316.7,482.2 316.8,489.8 318.1,493.0 C319.5,496.2 323.4,498.3 324.5,499.4" fill="none" stroke="#fff" stroke-width="1.3" stroke-linejoin="round" stroke-linecap="round" stroke-dasharray="3 3" stroke-linecap="butt"/>
<path d="M441.2,480.0 C441.2,482.2 439.3,482.2 441.2,493.0 C443.1,503.8 450.7,536.2 452.6,544.8" fill="none" stroke="#111" stroke-width="3" stroke-linejoin="round" stroke-linecap="round" />
<path d="M441.2,480.0 C441.2,482.2 439.3,482.2 441.2,493.0 C443.1,503.8 450.7,536.2 452.6,544.8" fill="none" stroke="#fff" stroke-width="1.3" stroke-linejoin="round" stroke-linecap="round" stroke-dasharray="3 3" stroke-linecap="butt"/>
<path d="M35.0,470.0 C39.2,471.7 50.8,478.7 60.0,480.0 C69.2,481.3 78.3,479.7 90.0,478.0 C101.7,476.3 118.3,469.3 130.0,470.0 C141.7,470.7 150.0,478.7 160.0,482.0 C170.0,485.3 185.0,488.7 190.0,490.0" fill="none" stroke="#111" stroke-width="3" stroke-linejoin="round" stroke-linecap="round" />
<path d="M35.0,470.0 C39.2,471.7 50.8,478.7 60.0,480.0 C69.2,481.3 78.3,479.7 90.0,478.0 C101.7,476.3 118.3,469.3 130.0,470.0 C141.7,470.7 150.0,478.7 160.0,482.0 C170.0,485.3 185.0,488.7 190.0,490.0" fill="none" stroke="#fff" stroke-width="1.3" stroke-linejoin="round" stroke-linecap="round" stroke-dasharray="3 3" stroke-linecap="butt"/>
<path d="M29.9,345.3 C32.0,347.4 39.4,351.6 42.5,357.9 C45.6,364.2 47.5,375.2 48.8,383.1 C50.1,391.0 50.6,397.8 50.3,405.1 C50.0,412.5 48.0,420.4 47.2,427.2 C46.4,434.0 44.8,440.8 45.6,446.0 C46.4,451.2 48.0,456.5 51.9,458.6 C55.8,460.7 65.5,453.9 69.2,458.6 C72.9,463.3 72.9,480.1 73.9,487.0 C75.0,493.9 75.0,492.0 75.5,500.0 C76.0,508.0 73.6,519.4 77.1,535.0 C80.6,550.6 93.1,579.4 96.6,593.5 C100.1,607.6 94.4,612.4 98.2,619.4 C102.0,626.4 114.6,630.7 119.2,635.6 C123.8,640.5 124.6,646.4 125.7,648.6" fill="none" stroke="#2aa4e0" stroke-width="3.5" stroke-linejoin="round" stroke-linecap="round" stroke-dasharray="5 4" stroke-linecap="butt"/>
<path d="M135,334L143.0,334.0M135,334L140.7,339.7M135,334L135.0,342.0M135,334L129.3,339.7M135,334L127.0,334.0M135,334L129.3,328.3M135,334L135.0,326.0M135,334L140.7,328.3" stroke="#e88a2a" stroke-width="2.2"/>
<circle cx="135.0" cy="334.0" r="3.5" fill="#f0b040" stroke="none" stroke-width="1" />
<path d="M58,405L66.0,405.0M58,405L63.7,410.7M58,405L58.0,413.0M58,405L52.3,410.7M58,405L50.0,405.0M58,405L52.3,399.3M58,405L58.0,397.0M58,405L63.7,399.3" stroke="#e88a2a" stroke-width="2.2"/>
<circle cx="58.0" cy="405.0" r="3.5" fill="#f0b040" stroke="none" stroke-width="1" />
<path d="M138,455L146.0,455.0M138,455L143.7,460.7M138,455L138.0,463.0M138,455L132.3,460.7M138,455L130.0,455.0M138,455L132.3,449.3M138,455L138.0,447.0M138,455L143.7,449.3" stroke="#e88a2a" stroke-width="2.2"/>
<circle cx="138.0" cy="455.0" r="3.5" fill="#f0b040" stroke="none" stroke-width="1" />
<path d="M391,361L399.0,361.0M391,361L396.7,366.7M391,361L391.0,369.0M391,361L385.3,366.7M391,361L383.0,361.0M391,361L385.3,355.3M391,361L391.0,353.0M391,361L396.7,355.3" stroke="#e88a2a" stroke-width="2.2"/>
<circle cx="391.0" cy="361.0" r="3.5" fill="#f0b040" stroke="none" stroke-width="1" />
<path d="M416,402L424.0,402.0M416,402L421.7,407.7M416,402L416.0,410.0M416,402L410.3,407.7M416,402L408.0,402.0M416,402L410.3,396.3M416,402L416.0,394.0M416,402L421.7,396.3" stroke="#e88a2a" stroke-width="2.2"/>
<circle cx="416.0" cy="402.0" r="3.5" fill="#f0b040" stroke="none" stroke-width="1" />
<path d="M445,452L453.0,452.0M445,452L450.7,457.7M445,452L445.0,460.0M445,452L439.3,457.7M445,452L437.0,452.0M445,452L439.3,446.3M445,452L445.0,444.0M445,452L450.7,446.3" stroke="#e88a2a" stroke-width="2.2"/>
<circle cx="445.0" cy="452.0" r="3.5" fill="#f0b040" stroke="none" stroke-width="1" />
<path d="M331,430L339.0,430.0M331,430L336.7,435.7M331,430L331.0,438.0M331,430L325.3,435.7M331,430L323.0,430.0M331,430L325.3,424.3M331,430L331.0,422.0M331,430L336.7,424.3" stroke="#e88a2a" stroke-width="2.2"/>
<circle cx="331.0" cy="430.0" r="3.5" fill="#f0b040" stroke="none" stroke-width="1" />
<path d="M189,571L197.0,571.0M189,571L194.7,576.7M189,571L189.0,579.0M189,571L183.3,576.7M189,571L181.0,571.0M189,571L183.3,565.3M189,571L189.0,563.0M189,571L194.7,565.3" stroke="#e88a2a" stroke-width="2.2"/>
<circle cx="189.0" cy="571.0" r="3.5" fill="#f0b040" stroke="none" stroke-width="1" />
<path d="M35,632L43.0,632.0M35,632L40.7,637.7M35,632L35.0,640.0M35,632L29.3,637.7M35,632L27.0,632.0M35,632L29.3,626.3M35,632L35.0,624.0M35,632L40.7,626.3" stroke="#e88a2a" stroke-width="2.2"/>
<circle cx="35.0" cy="632.0" r="3.5" fill="#f0b040" stroke="none" stroke-width="1" />
<path d="M225,556L233.0,556.0M225,556L230.7,561.7M225,556L225.0,564.0M225,556L219.3,561.7M225,556L217.0,556.0M225,556L219.3,550.3M225,556L225.0,548.0M225,556L230.7,550.3" stroke="#e88a2a" stroke-width="2.2"/>
<circle cx="225.0" cy="556.0" r="3.5" fill="#f0b040" stroke="none" stroke-width="1" />
<path d="M312,525L320.0,525.0M312,525L317.7,530.7M312,525L312.0,533.0M312,525L306.3,530.7M312,525L304.0,525.0M312,525L306.3,519.3M312,525L312.0,517.0M312,525L317.7,519.3" stroke="#e88a2a" stroke-width="2.2"/>
<circle cx="312.0" cy="525.0" r="3.5" fill="#f0b040" stroke="none" stroke-width="1" />
<path d="M313,582L321.0,582.0M313,582L318.7,587.7M313,582L313.0,590.0M313,582L307.3,587.7M313,582L305.0,582.0M313,582L307.3,576.3M313,582L313.0,574.0M313,582L318.7,576.3" stroke="#e88a2a" stroke-width="2.2"/>
<circle cx="313.0" cy="582.0" r="3.5" fill="#f0b040" stroke="none" stroke-width="1" />
<path d="M441,512L449.0,512.0M441,512L446.7,517.7M441,512L441.0,520.0M441,512L435.3,517.7M441,512L433.0,512.0M441,512L435.3,506.3M441,512L441.0,504.0M441,512L446.7,506.3" stroke="#e88a2a" stroke-width="2.2"/>
<circle cx="441.0" cy="512.0" r="3.5" fill="#f0b040" stroke="none" stroke-width="1" />
<path d="M440,543L448.0,543.0M440,543L445.7,548.7M440,543L440.0,551.0M440,543L434.3,548.7M440,543L432.0,543.0M440,543L434.3,537.3M440,543L440.0,535.0M440,543L445.7,537.3" stroke="#e88a2a" stroke-width="2.2"/>
<circle cx="440.0" cy="543.0" r="3.5" fill="#f0b040" stroke="none" stroke-width="1" />
<path d="M110,520L118.0,520.0M110,520L115.7,525.7M110,520L110.0,528.0M110,520L104.3,525.7M110,520L102.0,520.0M110,520L104.3,514.3M110,520L110.0,512.0M110,520L115.7,514.3" stroke="#e88a2a" stroke-width="2.2"/>
<circle cx="110.0" cy="520.0" r="3.5" fill="#f0b040" stroke="none" stroke-width="1" />
<circle cx="35.0" cy="632.0" r="4.0" fill="#4a4ac0" stroke="none" stroke-width="1" />
<text x="130.0" y="352.0" font-family="Liberation Serif" font-size="9" font-weight="bold" fill="#1a2a10" text-anchor="start" textLength="33.0" lengthAdjust="spacingAndGlyphs" >Wodzisław</text>
<text x="404.0" y="379.0" font-family="Liberation Serif" font-size="9" font-weight="bold" fill="#1a2a10" text-anchor="start" textLength="40.0" lengthAdjust="spacingAndGlyphs" >Pszczyna</text>
<text x="35.0" y="454.0" font-family="Liberation Serif" font-size="9" font-weight="bold" fill="#1a2a10" text-anchor="start" textLength="30.0" lengthAdjust="spacingAndGlyphs" >Bogumin</text>
<text x="101.0" y="462.0" font-family="Liberation Serif" font-size="9" font-weight="bold" fill="#1a2a10" text-anchor="start" textLength="28.0" lengthAdjust="spacingAndGlyphs" >Orłowa</text>
<text x="126.0" y="499.0" font-family="Liberation Serif" font-size="9" font-weight="bold" fill="#1a2a10" text-anchor="start" textLength="28.0" lengthAdjust="spacingAndGlyphs" >Karwina</text>
<text x="182.0" y="478.0" font-family="Liberation Serif" font-size="9" font-weight="bold" fill="#1a2a10" text-anchor="start" textLength="40.0" lengthAdjust="spacingAndGlyphs" >Zebrzydowice</text>
<text x="135.0" y="556.0" font-family="Liberation Serif" font-size="9" font-weight="bold" fill="#1a2a10" text-anchor="start" textLength="40.0" lengthAdjust="spacingAndGlyphs" >Cieszyn Zach.</text>
<text x="247.0" y="552.0" font-family="Liberation Serif" font-size="9" font-weight="bold" fill="#1a2a10" text-anchor="start" textLength="24.0" lengthAdjust="spacingAndGlyphs" >Cieszyn</text>
<text x="273.0" y="533.0" font-family="Liberation Serif" font-size="9" font-weight="bold" fill="#1a2a10" text-anchor="start" textLength="28.0" lengthAdjust="spacingAndGlyphs" >Skoczów</text>
<text x="281.0" y="592.0" font-family="Liberation Serif" font-size="9" font-weight="bold" fill="#1a2a10" text-anchor="start" textLength="24.0" lengthAdjust="spacingAndGlyphs" >Ustroń</text>
<text x="410.0" y="460.0" font-family="Liberation Serif" font-size="9" font-weight="bold" fill="#1a2a10" text-anchor="start" textLength="40.0" lengthAdjust="spacingAndGlyphs" >Czechowice</text>
<text x="427.0" y="525.0" font-family="Liberation Serif" font-size="9" font-weight="bold" fill="#1a2a10" text-anchor="start" textLength="30.0" lengthAdjust="spacingAndGlyphs" >Bielsko</text>
<text x="75.0" y="494.0" font-family="Liberation Serif" font-size="9" font-weight="bold" fill="#1a2a10" text-anchor="start" textLength="14.0" lengthAdjust="spacingAndGlyphs" >Łazy</text>
<text x="79.0" y="606.0" font-family="Liberation Serif" font-size="9" font-weight="bold" fill="#1a2a10" text-anchor="start" textLength="20.0" lengthAdjust="spacingAndGlyphs" >Rydek</text>
<text x="437.0" y="560.0" font-family="Liberation Serif" font-size="9" font-weight="bold" fill="#1a2a10" text-anchor="start" textLength="14.0" lengthAdjust="spacingAndGlyphs" >Best</text>
<text x="27.0" y="472.0" font-family="Liberation Serif" font-size="9" font-weight="bold" fill="#1a2a10" text-anchor="start" textLength="22.0" lengthAdjust="spacingAndGlyphs" >Frawa</text>
<text x="350.5" y="517.0" font-family="Liberation Sans" font-size="13" font-weight="normal" fill="#e8f0e0" text-anchor="start" textLength="78.0" lengthAdjust="spacingAndGlyphs" opacity="0.55">Aleksandrowice</text>
<g stroke="#e8207a" fill="none">
<path d="M64.5,439.7 L214.9,554.6" stroke-width="1.6"/><path d="M66,436 L217,551" stroke-width="1.3"/><path d="M63,443.5 L213,558.5" stroke-width="1.3"/>
<path d="M214.9,554.6 L418,497" stroke-width="2"/><path d="M427,497 L452.6,523.8" stroke-width="2"/><path d="M214.9,554.6 L325,649" stroke-width="2"/>
</g>
<rect x="60.0" y="434.7" width="9" height="10" fill="#e8207a"/>
<text x="64.5" y="443.7" font-family="Liberation Sans" font-size="10" font-weight="bold" fill="#2a0a10" text-anchor="middle" >3</text>
<rect x="210.4" y="549.6" width="9" height="10" fill="#e8207a"/>
<text x="214.9" y="558.6" font-family="Liberation Sans" font-size="10" font-weight="bold" fill="#2a0a10" text-anchor="middle" >2</text>
<rect x="414.0" y="491" width="9" height="10" fill="#e8207a"/>
<text x="418.5" y="500.0" font-family="Liberation Sans" font-size="10" font-weight="bold" fill="#2a0a10" text-anchor="middle" >1</text>
<rect x="422.9" y="491.5" width="9" height="10" fill="#e8207a"/>
<text x="427.4" y="500.5" font-family="Liberation Sans" font-size="10" font-weight="bold" fill="#2a0a10" text-anchor="middle" >5</text>
<polygon points="196,483 200,490 192,490" fill="#111"/>
<text x="82.0" y="648.6" font-family="Liberation Sans" font-size="46" font-weight="bold" fill="#1f8fd4" text-anchor="start" textLength="154.0" lengthAdjust="spacingAndGlyphs" transform="rotate(-90 82 648.6)">Moraw</text>
<g transform="rotate(28 162 463.3)"><rect x="145.0" y="446.3" width="34" height="34" fill="#f4f4f4"/><path d="M150.1,461.8 L173.9,461.8 L173.9,464.8 L150.1,464.8 Z M160.5,459.90000000000003 L163.5,459.90000000000003 L163,475.2 L161,475.2 Z M156.9,472.82 L167.1,472.82 L167.1,474.52000000000004 L156.9,474.52000000000004 Z" fill="#5a5a48"/></g>
<g transform="rotate(18 223 499.4)"><rect x="209.0" y="485.4" width="28" height="28" fill="#f4f4f4"/><path d="M213.2,497.9 L232.8,497.9 L232.8,500.9 L213.2,500.9 Z M221.5,496.59999999999997 L224.5,496.59999999999997 L224,509.2 L222,509.2 Z M218.8,507.23999999999995 L227.2,507.23999999999995 L227.2,508.64 L218.8,508.64 Z" fill="#5a5a48"/></g>
</g>
<rect x="27" y="414" width="425" height="6" fill="#000"/>
<rect x="27" y="420.5" width="257" height="2.5" fill="#f4f4f4"/>
<text x="404.0" y="419.5" font-family="Liberation Sans" font-size="7" font-weight="normal" fill="#f0f0f0" text-anchor="start" textLength="44.0" lengthAdjust="spacingAndGlyphs" >DZIEDZICE</text>
<rect x="696" y="475" width="118" height="59" fill="#6b6446"/>
<rect x="625.5" y="533.5" width="258.5" height="7" fill="#8a8a8a"/>
<rect x="625.5" y="540" width="258.5" height="48" fill="#474747"/>
<rect x="651" y="588" width="207" height="36" fill="#2c2c2c"/>
<rect x="651" y="588" width="60" height="16" fill="#cfcfcf"/>
<rect x="711" y="588" width="63" height="28" fill="#7f7f7f"/>
<rect x="774" y="575" width="18" height="43" fill="#333"/>
<rect x="792" y="588" width="12" height="30" fill="#8a8a8a"/>
<rect x="804" y="588" width="54" height="12" fill="#cfcfcf"/>
<path d="M804,600 L858,600 L858,612 Q830,604 804,612 Z" fill="#3a3a3a"/>
<rect x="834" y="598" width="24" height="10" fill="#f2f2f2"/>
<rect x="744" y="559" width="77" height="16" fill="#8a8a8a"/>
<rect x="774" y="559" width="18" height="16" fill="#3a3a3a"/>
<circle cx="783.8" cy="567.0" r="7.0" fill="#9a9a9a" stroke="none" stroke-width="1" />
<circle cx="751.0" cy="567.0" r="3.3" fill="#333" stroke="none" stroke-width="1" />
<circle cx="760.0" cy="567.0" r="3.3" fill="#333" stroke="none" stroke-width="1" />
<circle cx="802.0" cy="567.0" r="3.3" fill="#333" stroke="none" stroke-width="1" />
<circle cx="811.0" cy="567.0" r="3.3" fill="#333" stroke="none" stroke-width="1" />
<path d="M840,507 L840,530 Q842,548 877,566" fill="none" stroke="#d4d4d4" stroke-width="5"/>
<polygon points="40,1080 19,1012 18,1004 22,995 31,980.5 131,880.5 231,792 342.6,690 392,638 436,588 470,545 496.5,510 541.6,510 651.4,573.4 651.4,618 700,621 754,622 810,621 858,618 858,575 968.2,510 1012.4,510 1050,558 1099,615 1162.5,679.7 1247,763 1336.8,848 1462.5,964 1488,994 1492,1002 1490,1011 1469,1080" fill="#080e15"/>
<ellipse cx="754.5" cy="629" rx="130" ry="22" fill="#080e15"/>
<path d="M652,645 A102.5,88 0 0 0 857,645 Z" fill="#8d8d8d"/>
<path d="M657,645 A97.5,84 0 0 0 852,645 Z" fill="#b3b4cb"/>
<ellipse cx="754.5" cy="645" rx="102.5" ry="19.5" fill="#c6c2b2"/>
<ellipse cx="754.5" cy="648" rx="94" ry="16" fill="#b7b7cf"/>
<ellipse cx="754.5" cy="650" rx="79" ry="10" fill="#8b8ba2"/>
<rect x="687.5" y="655" width="135.5" height="35" fill="#9595b3"/>
<path d="M690,656L690,663M694,656L694,660M698,656L698,660M702,656L702,660M706,656L706,660M710,656L710,663M714,656L714,660M718,656L718,660M722,656L722,660M726,656L726,660M730,656L730,663M734,656L734,660M738,656L738,660M742,656L742,660M746,656L746,660M750,656L750,663M754,656L754,660M758,656L758,660M762,656L762,660M766,656L766,660M770,656L770,663M774,656L774,660M778,656L778,660M782,656L782,660M786,656L786,660M790,656L790,663M794,656L794,660M798,656L798,660M802,656L802,660M806,656L806,660M810,656L810,663M814,656L814,660M818,656L818,660M822,656L822,660" stroke="#f0f0f0" stroke-width="1"/>
<text x="691.0" y="673.8" font-family="Liberation Sans" font-size="9" font-weight="normal" fill="#eeeef4" text-anchor="start" textLength="14.0" lengthAdjust="spacingAndGlyphs" >220</text>
<text x="707.5" y="673.8" font-family="Liberation Sans" font-size="9" font-weight="normal" fill="#eeeef4" text-anchor="start" textLength="15.0" lengthAdjust="spacingAndGlyphs" >200</text>
<text x="739.5" y="673.8" font-family="Liberation Sans" font-size="9" font-weight="normal" fill="#eeeef4" text-anchor="start" textLength="15.5" lengthAdjust="spacingAndGlyphs" >160</text>
<text x="755.8" y="673.8" font-family="Liberation Sans" font-size="9" font-weight="normal" fill="#eeeef4" text-anchor="start" textLength="14.2" lengthAdjust="spacingAndGlyphs" >140</text>
<text x="771.0" y="673.8" font-family="Liberation Sans" font-size="9" font-weight="normal" fill="#eeeef4" text-anchor="start" textLength="15.0" lengthAdjust="spacingAndGlyphs" >120</text>
<text x="787.5" y="673.8" font-family="Liberation Sans" font-size="9" font-weight="normal" fill="#eeeef4" text-anchor="start" textLength="15.0" lengthAdjust="spacingAndGlyphs" >100</text>
<text x="805.0" y="673.8" font-family="Liberation Sans" font-size="9" font-weight="normal" fill="#eeeef4" text-anchor="start" textLength="11.0" lengthAdjust="spacingAndGlyphs" >80</text>
<text x="725.0" y="679.0" font-family="Liberation Sans" font-size="14" font-weight="bold" fill="#eeeef4" text-anchor="start" textLength="9.0" lengthAdjust="spacingAndGlyphs" >S</text>
<text x="798.8" y="687.5" font-family="Liberation Sans" font-size="14" font-weight="bold" fill="#eeeef4" text-anchor="start" textLength="7.5" lengthAdjust="spacingAndGlyphs" >E</text>
<text x="688.8" y="688.8" font-family="Liberation Sans" font-size="7" font-weight="normal" fill="#eeeef4" text-anchor="start" textLength="10.0" lengthAdjust="spacingAndGlyphs" >SW</text>
<text x="761.0" y="688.8" font-family="Liberation Sans" font-size="7" font-weight="normal" fill="#eeeef4" text-anchor="start" textLength="9.0" lengthAdjust="spacingAndGlyphs" >SE</text>
<line x1="755.5" y1="631" x2="755.5" y2="727" stroke="#f4f4f4" stroke-width="1.5"/>
<rect x="874.4" y="579.7" width="108.6" height="133" fill="#ede3e7"/>
<rect x="880" y="583" width="97" height="125" fill="none" stroke="#9a9096" stroke-width="1"/>
<path d="M908.3,579.7 A18.7,18.7 0 0 0 945.7,579.7 Z" fill="#080e15"/>
<circle cx="889.0" cy="602.0" r="4.0" fill="#cfc6ca" stroke="none" stroke-width="1" />
<circle cx="966.0" cy="602.0" r="4.0" fill="#cfc6ca" stroke="none" stroke-width="1" />
<circle cx="889.0" cy="697.0" r="4.0" fill="#cfc6ca" stroke="none" stroke-width="1" />
<circle cx="966.0" cy="697.0" r="4.0" fill="#cfc6ca" stroke="none" stroke-width="1" />
<rect x="910.6" y="738" width="54.4" height="238.5" fill="#ede3e7"/>
<path d="M922,758 Q922,749.7 930.5,749.7 Q939,749.7 939,758 L939,958 Q939,965 930.5,965 Q922,965 922,958 Z" fill="#ff0000" stroke="#8a8a8a" stroke-width="1"/>
<path d="M922.5,758 Q922.5,750.2 930.5,750.2 Q938.5,750.2 938.5,758 L938.5,811 L922.5,811 Z" fill="#ffffff"/>
<line x1="941" y1="765.6" x2="948" y2="765.6" stroke="#111" stroke-width="1.8"/>
<text x="950.0" y="770.1" font-family="Liberation Sans" font-size="12" font-weight="normal" fill="#111" text-anchor="start" >20</text>
<line x1="941" y1="789.9" x2="948" y2="789.9" stroke="#111" stroke-width="1.8"/>
<text x="950.0" y="794.4" font-family="Liberation Sans" font-size="12" font-weight="normal" fill="#111" text-anchor="start" >15</text>
<line x1="941" y1="810.5" x2="948" y2="810.5" stroke="#111" stroke-width="1.8"/>
<text x="950.0" y="815.0" font-family="Liberation Sans" font-size="12" font-weight="normal" fill="#111" text-anchor="start" >10</text>
<line x1="941" y1="832.5" x2="948" y2="832.5" stroke="#111" stroke-width="1.8"/>
<text x="950.0" y="837.0" font-family="Liberation Sans" font-size="12" font-weight="normal" fill="#111" text-anchor="start" >5</text>
<line x1="941" y1="857" x2="948" y2="857" stroke="#111" stroke-width="1.8"/>
<text x="949.0" y="864.0" font-family="Liberation Sans" font-size="19" font-weight="normal" fill="#111" text-anchor="start" >0</text>
<line x1="941" y1="881" x2="948" y2="881" stroke="#111" stroke-width="1.8"/>
<text x="950.0" y="885.5" font-family="Liberation Sans" font-size="12" font-weight="normal" fill="#111" text-anchor="start" >5</text>
<line x1="941" y1="903" x2="948" y2="903" stroke="#111" stroke-width="1.8"/>
<text x="950.0" y="907.5" font-family="Liberation Sans" font-size="12" font-weight="normal" fill="#111" text-anchor="start" >10</text>
<line x1="941" y1="924" x2="948" y2="924" stroke="#111" stroke-width="1.8"/>
<text x="950.0" y="928.5" font-family="Liberation Sans" font-size="12" font-weight="normal" fill="#111" text-anchor="start" >15</text>
<line x1="941" y1="947" x2="948" y2="947" stroke="#111" stroke-width="1.8"/>
<text x="950.0" y="951.5" font-family="Liberation Sans" font-size="12" font-weight="normal" fill="#111" text-anchor="start" >20</text>
<circle cx="948.0" cy="751.0" r="7" fill="#8f8f8f"/><line x1="944.1" y1="754.9" x2="951.9" y2="747.1" stroke="#4a4a4a" stroke-width="1.3"/>
<circle cx="948.0" cy="962.0" r="7" fill="#8f8f8f"/><line x1="944.1" y1="965.9" x2="951.9" y2="958.1" stroke="#4a4a4a" stroke-width="1.3"/>
<circle cx="916.0" cy="743.0" r="3.0" fill="#8a8a8a" stroke="none" stroke-width="1" />
<circle cx="960.0" cy="743.0" r="3.0" fill="#8a8a8a" stroke="none" stroke-width="1" />
<circle cx="916.0" cy="970.0" r="3.0" fill="#8a8a8a" stroke="none" stroke-width="1" />
<circle cx="960.0" cy="970.0" r="3.0" fill="#8a8a8a" stroke="none" stroke-width="1" />
<rect x="444.6" y="598.7" width="185.7" height="186.7" rx="6" fill="#121d24"/>
<circle cx="458.6" cy="613.3" r="7.4" fill="#8f8f8f"/><line x1="454.5" y1="617.4" x2="462.7" y2="609.2" stroke="#4a4a4a" stroke-width="1.3"/>
<circle cx="615.3" cy="613.3" r="7.4" fill="#8f8f8f"/><line x1="611.2" y1="617.4" x2="619.4" y2="609.2" stroke="#4a4a4a" stroke-width="1.3"/>
<circle cx="458.6" cy="770.4" r="7.4" fill="#8f8f8f"/><line x1="454.5" y1="774.5" x2="462.7" y2="766.3" stroke="#4a4a4a" stroke-width="1.3"/>
<circle cx="615.3" cy="770.4" r="7.4" fill="#8f8f8f"/><line x1="611.2" y1="774.5" x2="619.4" y2="766.3" stroke="#4a4a4a" stroke-width="1.3"/>
<circle cx="537.7" cy="692.3" r="92.5" fill="#03070b" stroke="none" stroke-width="1" />
<circle cx="537.7" cy="692.3" r="84.5" fill="#e35b35" stroke="none" stroke-width="1" />
<path d="M509.14,770.76 A83.5,83.5 0 1 1 566.26,770.76" fill="none" stroke="#ffd21a" stroke-width="1.3"/>
<path d="M511.88,763.25 A75.5,75.5 0 1 1 563.52,763.25" fill="none" stroke="#ffd21a" stroke-width="1.3"/>
<path d="M509.14,770.76L511.88,763.25M501.10,767.35L504.60,760.16M493.45,763.11L497.69,756.33M486.29,758.10L491.22,751.79M479.70,752.36L485.25,746.61M473.74,745.97L479.86,740.83M468.48,738.99L475.11,734.52M463.97,731.50L471.04,727.75M460.28,723.58L467.70,720.58M457.43,715.32L465.12,713.11M455.47,706.80L463.35,705.41M454.40,698.12L462.38,697.57M454.25,689.39L462.25,689.67M455.01,680.68L462.93,681.79M456.68,672.10L464.44,674.03M459.24,663.74L466.75,666.48M462.65,655.70L469.84,659.20M466.89,648.05L473.67,652.29M471.90,640.89L478.21,645.82M477.64,634.30L483.39,639.85M484.03,628.34L489.17,634.46M491.01,623.08L495.48,629.71M498.50,618.57L502.25,625.64M506.42,614.88L509.42,622.30M514.68,612.03L516.89,619.72M523.20,610.07L524.59,617.95M531.88,609.00L532.43,616.98M540.61,608.85L540.33,616.85M549.32,609.61L548.21,617.53M557.90,611.28L555.97,619.04M566.26,613.84L563.52,621.35M574.30,617.25L570.80,624.44M581.95,621.49L577.71,628.27M589.11,626.50L584.18,632.81M595.70,632.24L590.15,637.99M601.66,638.63L595.54,643.77M606.92,645.61L600.29,650.08M611.43,653.10L604.36,656.85M615.12,661.02L607.70,664.02M617.97,669.28L610.28,671.49M619.93,677.80L612.05,679.19M621.00,686.48L613.02,687.03M621.15,695.21L613.15,694.93M620.39,703.92L612.47,702.81M618.72,712.50L610.96,710.57M616.16,720.86L608.65,718.12M612.75,728.90L605.56,725.40M608.51,736.55L601.73,732.31M603.50,743.71L597.19,738.78M597.76,750.30L592.01,744.75M591.37,756.26L586.23,750.14M584.39,761.52L579.92,754.89M576.90,766.03L573.15,758.96M568.98,769.72L565.98,762.30" stroke="#ffd21a" stroke-width="1.3" fill="none"/>
<line x1="537.7" y1="616.8" x2="537.7" y2="608.8" stroke="#ffd21a" stroke-width="3.2"/>
<line x1="587.2" y1="635.3" x2="592.5" y2="629.3" stroke="#ffd21a" stroke-width="3.2"/>
<line x1="612.3" y1="680.5" x2="620.2" y2="679.2" stroke="#ffd21a" stroke-width="3.2"/>
<line x1="603.1" y1="730.0" x2="610.0" y2="734.0" stroke="#ffd21a" stroke-width="3.2"/>
<line x1="563.5" y1="763.2" x2="566.3" y2="770.8" stroke="#ffd21a" stroke-width="3.2"/>
<line x1="488.2" y1="635.3" x2="482.9" y2="629.3" stroke="#ffd21a" stroke-width="3.2"/>
<line x1="463.1" y1="680.5" x2="455.2" y2="679.2" stroke="#ffd21a" stroke-width="3.2"/>
<line x1="472.3" y1="730.0" x2="465.4" y2="734.0" stroke="#ffd21a" stroke-width="3.2"/>
<line x1="511.9" y1="763.2" x2="509.1" y2="770.8" stroke="#ffd21a" stroke-width="3.2"/>
<text x="537.9" y="632.2" font-family="Liberation Sans" font-size="12" font-weight="bold" fill="#ffd21a" text-anchor="middle" >0</text>
<text x="499.4" y="646.8" font-family="Liberation Sans" font-size="12" font-weight="bold" fill="#ffd21a" text-anchor="middle" >01</text>
<text x="575.4" y="646.8" font-family="Liberation Sans" font-size="12" font-weight="bold" fill="#ffd21a" text-anchor="middle" >01</text>
<text x="475.3" y="684.7" font-family="Liberation Sans" font-size="12" font-weight="bold" fill="#ffd21a" text-anchor="middle" >02</text>
<text x="599.5" y="684.7" font-family="Liberation Sans" font-size="12" font-weight="bold" fill="#ffd21a" text-anchor="middle" >02</text>
<text x="483.5" y="729.4" font-family="Liberation Sans" font-size="12" font-weight="bold" fill="#ffd21a" text-anchor="middle" >03</text>
<text x="591.4" y="729.4" font-family="Liberation Sans" font-size="12" font-weight="bold" fill="#ffd21a" text-anchor="middle" >03</text>
<text x="517.1" y="758.6" font-family="Liberation Sans" font-size="12" font-weight="bold" fill="#ffd21a" text-anchor="middle" >04</text>
<text x="557.4" y="758.6" font-family="Liberation Sans" font-size="12" font-weight="bold" fill="#ffd21a" text-anchor="middle" >04</text>
<text x="538.9" y="666.0" font-family="Liberation Sans" font-size="11" font-weight="bold" fill="#ffd21a" text-anchor="middle" textLength="51.5" lengthAdjust="spacingAndGlyphs" >CIŚNIENIE</text>
<text x="539.9" y="679.0" font-family="Liberation Sans" font-size="11" font-weight="bold" fill="#ffd21a" text-anchor="middle" textLength="68.8" lengthAdjust="spacingAndGlyphs" >ŁADOWANIA</text>
<line x1="508" y1="692" x2="522" y2="692" stroke="#ffd21a" stroke-width="2.2"/><line x1="551" y1="692" x2="565" y2="692" stroke="#ffd21a" stroke-width="2.2"/><line x1="558" y1="685" x2="558" y2="699" stroke="#ffd21a" stroke-width="2.2"/>
<text x="538.9" y="730.2" font-family="Liberation Sans" font-size="9" font-weight="normal" fill="#ffd21a" text-anchor="middle" textLength="42.8" lengthAdjust="spacingAndGlyphs" >G.GERLACH</text>
<text x="538.9" y="743.9" font-family="Liberation Sans" font-size="9" font-weight="normal" fill="#ffd21a" text-anchor="middle" textLength="31.0" lengthAdjust="spacingAndGlyphs" >kg/cm²</text>
<polygon points="516.4,619.8 540.2,691.5 551.5,722.5 541.9,725.5 535.2,693.1 514.8,620.2" fill="#e6dfb0"/>
<circle cx="537.7" cy="692.3" r="5.0" fill="#e6dfb0" stroke="none" stroke-width="1" />
<circle cx="537.7" cy="692.3" r="1.0" fill="#000" stroke="none" stroke-width="1" />
<path d="M635.5,838.5 A90,90 0 0 1 725.5,748.5 L792,748.5 A90,90 0 0 1 882,838.5 L882,1060 Q882,1069.5 872,1069.5 L645.5,1069.5 Q635.5,1069.5 635.5,1060 Z" fill="#131e24"/>
<rect x="665" y="872" width="187.5" height="186" rx="8" fill="#101b22"/>
<circle cx="651.0" cy="874.0" r="7.3" fill="#8f8f8f"/><line x1="647.0" y1="878.0" x2="655.0" y2="870.0" stroke="#4a4a4a" stroke-width="1.3"/>
<circle cx="872.0" cy="872.0" r="7.3" fill="#8f8f8f"/><line x1="868.0" y1="876.0" x2="876.0" y2="868.0" stroke="#4a4a4a" stroke-width="1.3"/>
<circle cx="673.5" cy="915.5" r="7.3" fill="#8f8f8f"/><line x1="669.5" y1="919.5" x2="677.5" y2="911.5" stroke="#4a4a4a" stroke-width="1.3"/>
<circle cx="844.5" cy="914.5" r="7.3" fill="#8f8f8f"/><line x1="840.5" y1="918.5" x2="848.5" y2="910.5" stroke="#4a4a4a" stroke-width="1.3"/>
<circle cx="675.5" cy="1048.5" r="7.3" fill="#8f8f8f"/><line x1="671.5" y1="1052.5" x2="679.5" y2="1044.5" stroke="#4a4a4a" stroke-width="1.3"/>
<circle cx="843.0" cy="1048.5" r="7.3" fill="#8f8f8f"/><line x1="839.0" y1="1052.5" x2="847.0" y2="1044.5" stroke="#4a4a4a" stroke-width="1.3"/>
<circle cx="652.5" cy="1058.0" r="7.3" fill="#8f8f8f"/><line x1="648.5" y1="1062.0" x2="656.5" y2="1054.0" stroke="#4a4a4a" stroke-width="1.3"/>
<circle cx="872.5" cy="1058.0" r="7.3" fill="#8f8f8f"/><line x1="868.5" y1="1062.0" x2="876.5" y2="1054.0" stroke="#4a4a4a" stroke-width="1.3"/>
<circle cx="760.6" cy="859.6" r="90.0" fill="#03070b" stroke="none" stroke-width="1" />
<circle cx="760.6" cy="859.6" r="84.0" fill="#132235" stroke="none" stroke-width="1" />
<circle cx="760.6" cy="859.6" r="80.5" fill="none" stroke="#ffd21a" stroke-width="1.2" />
<circle cx="760.6" cy="859.6" r="74.5" fill="none" stroke="#ffd21a" stroke-width="1.2" />
<line x1="729.1" y1="927.1" x2="726.6" y2="932.6" stroke="#ffd21a" stroke-width="1.4"/>
<line x1="703.5" y1="907.5" x2="698.9" y2="911.3" stroke="#ffd21a" stroke-width="1.4"/>
<line x1="689.7" y1="882.6" x2="684.0" y2="884.5" stroke="#ffd21a" stroke-width="1.4"/>
<line x1="686.4" y1="853.1" x2="680.4" y2="852.6" stroke="#ffd21a" stroke-width="1.4"/>
<line x1="694.8" y1="824.6" x2="689.5" y2="821.8" stroke="#ffd21a" stroke-width="1.4"/>
<line x1="714.7" y1="800.9" x2="711.0" y2="796.2" stroke="#ffd21a" stroke-width="1.4"/>
<line x1="741.3" y1="787.6" x2="739.8" y2="781.8" stroke="#ffd21a" stroke-width="1.4"/>
<line x1="773.5" y1="786.2" x2="774.6" y2="780.3" stroke="#ffd21a" stroke-width="1.4"/>
<line x1="801.2" y1="797.1" x2="804.4" y2="792.1" stroke="#ffd21a" stroke-width="1.4"/>
<line x1="823.8" y1="820.1" x2="828.9" y2="816.9" stroke="#ffd21a" stroke-width="1.4"/>
<line x1="834.4" y1="849.2" x2="840.3" y2="848.4" stroke="#ffd21a" stroke-width="1.4"/>
<line x1="832.6" y1="878.9" x2="838.4" y2="880.4" stroke="#ffd21a" stroke-width="1.4"/>
<line x1="819.3" y1="905.5" x2="824.0" y2="909.2" stroke="#ffd21a" stroke-width="1.4"/>
<line x1="795.6" y1="925.4" x2="798.4" y2="930.7" stroke="#ffd21a" stroke-width="1.4"/>
<line x1="760.6" y1="934.1" x2="760.6" y2="940.1" stroke="#ffd21a" stroke-width="1.4"/>
<text x="740.2" y="802.1" font-family="Liberation Sans" font-size="15" font-weight="bold" fill="#ffd21a" text-anchor="middle" >26</text>
<text x="768.5" y="802.1" font-family="Liberation Sans" font-size="15" font-weight="bold" fill="#ffd21a" text-anchor="middle" >28</text>
<text x="790.5" y="809.9" font-family="Liberation Sans" font-size="15" font-weight="bold" fill="#ffd21a" text-anchor="middle" >30</text>
<text x="810.0" y="827.2" font-family="Liberation Sans" font-size="15" font-weight="bold" fill="#ffd21a" text-anchor="middle" >32</text>
<text x="823.6" y="850.8" font-family="Liberation Sans" font-size="15" font-weight="bold" fill="#ffd21a" text-anchor="middle" >34</text>
<text x="822.0" y="880.7" font-family="Liberation Sans" font-size="15" font-weight="bold" fill="#ffd21a" text-anchor="middle" >36</text>
<text x="809.4" y="907.4" font-family="Liberation Sans" font-size="15" font-weight="bold" fill="#ffd21a" text-anchor="middle" >38</text>
<text x="789.0" y="925.4" font-family="Liberation Sans" font-size="15" font-weight="bold" fill="#ffd21a" text-anchor="middle" >40</text>
<text x="719.7" y="814.6" font-family="Liberation Sans" font-size="15" font-weight="bold" fill="#ffd21a" text-anchor="middle" >24</text>
<text x="705.5" y="829.8" font-family="Liberation Sans" font-size="15" font-weight="bold" fill="#ffd21a" text-anchor="middle" >22</text>
<text x="696.7" y="849.9" font-family="Liberation Sans" font-size="15" font-weight="bold" fill="#ffd21a" text-anchor="middle" >20</text>
<text x="694.5" y="870.4" font-family="Liberation Sans" font-size="15" font-weight="bold" fill="#ffd21a" text-anchor="middle" >18</text>
<text x="699.2" y="887.7" font-family="Liberation Sans" font-size="15" font-weight="bold" fill="#ffd21a" text-anchor="middle" >16</text>
<text x="714.4" y="909.1" font-family="Liberation Sans" font-size="15" font-weight="bold" fill="#ffd21a" text-anchor="middle" >12</text>
<text x="729.2" y="924.2" font-family="Liberation Sans" font-size="15" font-weight="bold" fill="#ffd21a" text-anchor="middle" >8</text>
<text x="701.8" y="896.5" font-family="Liberation Sans" font-size="9" font-weight="normal" fill="#ffd21a" text-anchor="middle" >14</text>
<text x="719.7" y="918.5" font-family="Liberation Sans" font-size="9" font-weight="normal" fill="#ffd21a" text-anchor="middle" >10</text>
<text x="761.6" y="847.2" font-family="Liberation Sans" font-size="16" font-weight="bold" fill="#ffd21a" text-anchor="middle" textLength="80.3" lengthAdjust="spacingAndGlyphs" >SZYBKOŚĆ</text>
<text x="761.6" y="823.5" font-family="Liberation Sans" font-size="9" font-weight="normal" fill="#f2f2f2" text-anchor="middle" textLength="46.6" lengthAdjust="spacingAndGlyphs" >x10 km / godz</text>
<rect x="755" y="873" width="9" height="9" fill="none" stroke="#eee" stroke-width="1.2"/>
<text x="760.6" y="895.8" font-family="Liberation Sans" font-size="8.5" font-weight="normal" fill="#f2f2f2" text-anchor="middle" textLength="67.7" lengthAdjust="spacingAndGlyphs" >G.Gerlach Warszawa</text>
<text x="759.0" y="906.8" font-family="Liberation Sans" font-size="8.5" font-weight="normal" fill="#f2f2f2" text-anchor="middle" textLength="44.0" lengthAdjust="spacingAndGlyphs" >Sta. Badin 9 C</text>
<text x="755.3" y="916.1" font-family="Liberation Sans" font-size="8.5" font-weight="normal" fill="#f2f2f2" text-anchor="middle" textLength="26.8" lengthAdjust="spacingAndGlyphs" >WZ1931</text>
<polygon points="783.3,900.9 758.4,860.8 758.4,860.8 762.8,858.4 762.8,858.4 784.7,900.1" fill="#000"/>
<polygon points="726.7,794.6 762.0,858.8 762.0,858.8 759.2,860.4 759.2,860.4 725.3,795.4" fill="#f4f4f4"/>
<polygon points="729,801 737,811 733,820 726,812" fill="none" stroke="#c8d23a" stroke-width="1.2"/>
<circle cx="760.6" cy="859.6" r="5.0" fill="#f0e8ea" stroke="none" stroke-width="1" />
<circle cx="687.5" cy="943.3" r="20.5" fill="#ede5e8" stroke="none" stroke-width="1" />
<circle cx="687.5" cy="943.3" r="8.0" fill="#f4f0f0" stroke="#8a8a8a" stroke-width="1.5" />
<circle cx="687.5" cy="943.3" r="5.0" fill="#000" stroke="none" stroke-width="1" />
<text x="675.0" y="948.0" font-family="Liberation Sans" font-size="10" font-weight="normal" fill="#555" text-anchor="middle" transform="rotate(-75 675 944)">N</text>
<rect x="697" y="940" width="6" height="8" rx="3" fill="none" stroke="#555" stroke-width="1.2" transform="rotate(-75 700 944)"/>
<text x="690.0" y="934.0" font-family="Liberation Sans" font-size="8" font-weight="normal" fill="#333" text-anchor="middle" >½</text>
<rect x="677" y="960" width="167" height="44" rx="3" fill="#0c161c"/>
<line x1="690.8" y1="963" x2="690.8" y2="977" stroke="#f0c820" stroke-width="2"/>
<line x1="718.3" y1="963" x2="718.3" y2="977" stroke="#f0c820" stroke-width="2"/>
<line x1="803" y1="963" x2="803" y2="977" stroke="#f0c820" stroke-width="2"/>
<line x1="830.3" y1="963" x2="830.3" y2="977" stroke="#f0c820" stroke-width="2"/>
<polygon points="703.3,971 705.5,973.5 703.3,976 701.0999999999999,973.5" fill="#f0c820"/>
<polygon points="736.7,971 738.9000000000001,973.5 736.7,976 734.5,973.5" fill="#f0c820"/>
<polygon points="784.5,971 786.7,973.5 784.5,976 782.3,973.5" fill="#f0c820"/>
<polygon points="816.7,971 818.9000000000001,973.5 816.7,976 814.5,973.5" fill="#f0c820"/>
<line x1="680" y1="979" x2="842" y2="979" stroke="#8a949a" stroke-width="1"/>
<text x="720.0" y="995.8" font-family="Liberation Sans" font-size="17" font-weight="normal" fill="#f0f0f0" text-anchor="start" textLength="10.5" lengthAdjust="spacingAndGlyphs" >S</text>
<text x="736.7" y="995.8" font-family="Liberation Sans" font-size="17" font-weight="normal" fill="#f0f0f0" text-anchor="start" textLength="11.0" lengthAdjust="spacingAndGlyphs" >K</text>
<text x="773.0" y="995.8" font-family="Liberation Sans" font-size="17" font-weight="normal" fill="#f0f0f0" text-anchor="start" textLength="10.0" lengthAdjust="spacingAndGlyphs" >Ę</text>
<text x="791.7" y="995.8" font-family="Liberation Sans" font-size="17" font-weight="normal" fill="#f0f0f0" text-anchor="start" textLength="10.5" lengthAdjust="spacingAndGlyphs" >T</text>
<polygon points="754,965 765,965 765,968 761,976 761,980 765,986 765,1000 754,1000 754,986 758,980 758,976 754,968" fill="#dcd8a4"/>
<circle cx="681.0" cy="964.5" r="3.5" fill="#8a8a8a" stroke="none" stroke-width="1" />
<circle cx="839.5" cy="964.0" r="3.5" fill="#8a8a8a" stroke="none" stroke-width="1" />
<circle cx="681.5" cy="1000.0" r="3.5" fill="#8a8a8a" stroke="none" stroke-width="1" />
<circle cx="839.5" cy="1000.5" r="3.5" fill="#8a8a8a" stroke="none" stroke-width="1" />
<path d="M690,1017.5 Q760,1031 831,1017.5 Q835,1027 831,1036 Q760,1050 690,1036 Q685,1027 690,1017.5 Z" fill="#dccfa6"/>
<circle cx="764.2" cy="1031.7" r="11.0" fill="#000" stroke="none" stroke-width="1" />
<polyline points="753.3,1057.5 764.2,1045 773.3,1057.5" fill="none" stroke="#eee" stroke-width="1.8"/>
<rect x="993.9" y="706.3" width="156.4" height="157.2" rx="6" fill="#121d24"/>
<circle cx="1008.6" cy="720.3" r="7.5" fill="#8f8f8f"/><line x1="1004.5" y1="724.4" x2="1012.7" y2="716.2" stroke="#4a4a4a" stroke-width="1.3"/>
<circle cx="1137.5" cy="718.5" r="7.5" fill="#8f8f8f"/><line x1="1133.4" y1="722.6" x2="1141.6" y2="714.4" stroke="#4a4a4a" stroke-width="1.3"/>
<circle cx="1009.4" cy="852.4" r="7.5" fill="#8f8f8f"/><line x1="1005.3" y1="856.5" x2="1013.5" y2="848.3" stroke="#4a4a4a" stroke-width="1.3"/>
<circle cx="1136.7" cy="852.4" r="7.5" fill="#8f8f8f"/><line x1="1132.6" y1="856.5" x2="1140.8" y2="848.3" stroke="#4a4a4a" stroke-width="1.3"/>
<circle cx="1072.5" cy="785.7" r="76.0" fill="#03070b" stroke="none" stroke-width="1" />
<circle cx="1072.5" cy="785.7" r="70.0" fill="#15222c" stroke="none" stroke-width="1" />
<circle cx="1072.5" cy="785.7" r="69.0" fill="none" stroke="#ffd21a" stroke-width="1.1" />
<circle cx="1072.5" cy="785.7" r="62.0" fill="none" stroke="#ffd21a" stroke-width="1.1" />
<path d="M1072.50,716.70L1072.50,723.70M1078.51,716.96L1077.90,723.94M1084.48,717.75L1083.27,724.64M1090.36,719.05L1088.55,725.81M1096.10,720.86L1093.71,727.44M1101.66,723.16L1098.70,729.51M1107.00,725.94L1103.50,732.01M1112.08,729.18L1108.06,734.91M1116.85,732.84L1112.35,738.21M1121.29,736.91L1116.34,741.86M1125.36,741.35L1119.99,745.85M1129.02,746.12L1123.29,750.14M1132.26,751.20L1126.19,754.70M1135.04,756.54L1128.69,759.50M1137.34,762.10L1130.76,764.49M1139.15,767.84L1132.39,769.65M1140.45,773.72L1133.56,774.93M1141.24,779.69L1134.26,780.30M1141.50,785.70L1134.50,785.70M1141.24,791.71L1134.26,791.10M1140.45,797.68L1133.56,796.47M1139.15,803.56L1132.39,801.75M1137.34,809.30L1130.76,806.91M1135.04,814.86L1128.69,811.90M1132.26,820.20L1126.19,816.70M1129.02,825.28L1123.29,821.26M1125.36,830.05L1119.99,825.55M1121.29,834.49L1116.34,829.54M1116.85,838.56L1112.35,833.19M1112.08,842.22L1108.06,836.49M1107.00,845.46L1103.50,839.39M1101.66,848.24L1098.70,841.89M1096.10,850.54L1093.71,843.96M1090.36,852.35L1088.55,845.59M1084.48,853.65L1083.27,846.76M1078.51,854.44L1077.90,847.46M1072.50,854.70L1072.50,847.70M1066.49,854.44L1067.10,847.46M1060.52,853.65L1061.73,846.76M1054.64,852.35L1056.45,845.59M1048.90,850.54L1051.29,843.96M1043.34,848.24L1046.30,841.89M1038.00,845.46L1041.50,839.39M1032.92,842.22L1036.94,836.49M1028.15,838.56L1032.65,833.19M1023.71,834.49L1028.66,829.54M1019.64,830.05L1025.01,825.55M1015.98,825.28L1021.71,821.26M1012.74,820.20L1018.81,816.70M1009.96,814.86L1016.31,811.90M1007.66,809.30L1014.24,806.91M1005.85,803.56L1012.61,801.75M1004.55,797.68L1011.44,796.47M1003.76,791.71L1010.74,791.10M1003.50,785.70L1010.50,785.70M1003.76,779.69L1010.74,780.30M1004.55,773.72L1011.44,774.93M1005.85,767.84L1012.61,769.65M1007.66,762.10L1014.24,764.49M1009.96,756.54L1016.31,759.50M1012.74,751.20L1018.81,754.70M1015.98,746.12L1021.71,750.14M1019.64,741.35L1025.01,745.85M1023.71,736.91L1028.66,741.86M1028.15,732.84L1032.65,738.21M1032.92,729.18L1036.94,734.91M1038.00,725.94L1041.50,732.01M1043.34,723.16L1046.30,729.51M1048.90,720.86L1051.29,727.44M1054.64,719.05L1056.45,725.81M1060.52,717.75L1061.73,724.64M1066.49,716.96L1067.10,723.94M1072.50,716.70L1072.50,723.70" stroke="#ffd21a" stroke-width="1.1" fill="none"/>
<text x="1074.9" y="740.1" font-family="Liberation Sans" font-size="15" font-weight="normal" fill="#ffd21a" text-anchor="middle" >18</text>
<text x="1037.2" y="756.3" font-family="Liberation Sans" font-size="15" font-weight="normal" fill="#ffd21a" text-anchor="middle" >14</text>
<text x="1105.2" y="756.3" font-family="Liberation Sans" font-size="15" font-weight="normal" fill="#ffd21a" text-anchor="middle" >22</text>
<text x="1021.5" y="791.1" font-family="Liberation Sans" font-size="15" font-weight="normal" fill="#ffd21a" text-anchor="middle" >10</text>
<text x="1119.2" y="789.2" font-family="Liberation Sans" font-size="15" font-weight="normal" fill="#ffd21a" text-anchor="middle" >26</text>
<text x="1035.2" y="827.6" font-family="Liberation Sans" font-size="15" font-weight="normal" fill="#ffd21a" text-anchor="middle" >6</text>
<text x="1105.7" y="826.5" font-family="Liberation Sans" font-size="15" font-weight="normal" fill="#ffd21a" text-anchor="middle" >30</text>
<text x="1049.0" y="738.3" font-family="Liberation Sans" font-size="10" font-weight="normal" fill="#f2f2f2" text-anchor="middle" >16</text>
<text x="1092.3" y="738.3" font-family="Liberation Sans" font-size="10" font-weight="normal" fill="#f2f2f2" text-anchor="middle" >20</text>
<text x="1022.0" y="768.0" font-family="Liberation Sans" font-size="10" font-weight="normal" fill="#f2f2f2" text-anchor="middle" >12</text>
<text x="1120.8" y="768.6" font-family="Liberation Sans" font-size="10" font-weight="normal" fill="#f2f2f2" text-anchor="middle" >24</text>
<text x="1019.4" y="811.7" font-family="Liberation Sans" font-size="10" font-weight="normal" fill="#f2f2f2" text-anchor="middle" >8</text>
<text x="1121.1" y="810.4" font-family="Liberation Sans" font-size="10" font-weight="normal" fill="#f2f2f2" text-anchor="middle" >28</text>
<text x="1044.1" y="839.9" font-family="Liberation Sans" font-size="10" font-weight="normal" fill="#f2f2f2" text-anchor="middle" >2</text>
<text x="1101.4" y="837.6" font-family="Liberation Sans" font-size="10" font-weight="normal" fill="#f2f2f2" text-anchor="middle" >32</text>
<text x="1070.9" y="754.1" font-family="Liberation Sans" font-size="9" font-weight="normal" fill="#f2f2f2" text-anchor="middle" >R=½</text>
<text x="1070.1" y="767.4" font-family="Liberation Sans" font-size="13" font-weight="bold" fill="#ffd21a" text-anchor="middle" textLength="55.0" lengthAdjust="spacingAndGlyphs" >OBROTY</text>
<text x="1071.2" y="776.3" font-family="Liberation Sans" font-size="7.5" font-weight="normal" fill="#f2f2f2" text-anchor="middle" textLength="45.9" lengthAdjust="spacingAndGlyphs" >x100 obr/min</text>
<text x="1073.3" y="796.1" font-family="Liberation Sans" font-size="7.5" font-weight="normal" fill="#f2f2f2" text-anchor="middle" textLength="67.6" lengthAdjust="spacingAndGlyphs" >G.Gerlach Warszawa</text>
<circle cx="1071.0" cy="823.8" r="25.0" fill="none" stroke="#eee" stroke-width="1" />
<circle cx="1071.0" cy="823.8" r="21.0" fill="none" stroke="#eee" stroke-width="1" />
<path d="M1071.00,802.80L1071.00,798.80M1081.50,805.61L1083.50,802.15M1089.19,813.30L1092.65,811.30M1092.00,823.80L1096.00,823.80M1089.19,834.30L1092.65,836.30M1081.50,841.99L1083.50,845.45M1071.00,844.80L1071.00,848.80M1060.50,841.99L1058.50,845.45M1052.81,834.30L1049.35,836.30M1050.00,823.80L1046.00,823.80M1052.81,813.30L1049.35,811.30M1060.50,805.61L1058.50,802.15M1071.00,802.80L1071.00,798.80" stroke="#eee" stroke-width="1.5" fill="none"/>
<polyline points="1061,843 1071,823.8 1086,819" fill="none" stroke="#ddd" stroke-width="1.2"/>
<polygon points="1094.4,726.9 1074.2,786.3 1074.2,786.3 1070.8,785.1 1070.8,785.1 1092.8,726.3" fill="#e6dfb0"/>
<circle cx="1072.5" cy="785.7" r="5.5" fill="#a08868" stroke="#e6dfb0" stroke-width="1.2" />
<rect x="994.0" y="905.5" width="156.0" height="157.2" rx="6" fill="#121d24"/>
<circle cx="1008.5" cy="919.0" r="7.5" fill="#8f8f8f"/><line x1="1004.4" y1="923.1" x2="1012.6" y2="914.9" stroke="#4a4a4a" stroke-width="1.3"/>
<circle cx="1137.0" cy="917.5" r="7.5" fill="#8f8f8f"/><line x1="1132.9" y1="921.6" x2="1141.1" y2="913.4" stroke="#4a4a4a" stroke-width="1.3"/>
<circle cx="1009.0" cy="1051.0" r="7.5" fill="#8f8f8f"/><line x1="1004.9" y1="1055.1" x2="1013.1" y2="1046.9" stroke="#4a4a4a" stroke-width="1.3"/>
<circle cx="1072.5" cy="983.3" r="76.0" fill="#03070b" stroke="none" stroke-width="1" />
<circle cx="1072.5" cy="983.3" r="70.0" fill="#132335" stroke="none" stroke-width="1" />
<circle cx="1072.5" cy="983.3" r="68.5" fill="none" stroke="#f2f2f2" stroke-width="1.2" />
<circle cx="1072.5" cy="983.3" r="62.5" fill="none" stroke="#f2f2f2" stroke-width="1.2" />
<path d="M1072.50,914.80L1072.50,920.80M1077.87,915.01L1077.40,920.99M1083.22,915.64L1082.28,921.57M1088.49,916.69L1087.09,922.53M1093.67,918.15L1091.81,923.86M1098.71,920.01L1096.42,925.56M1103.60,922.27L1100.87,927.61M1108.29,924.89L1105.16,930.01M1112.76,927.88L1109.24,932.74M1116.99,931.21L1113.09,935.77M1120.94,934.86L1116.69,939.11M1124.59,938.81L1120.03,942.71M1127.92,943.04L1123.06,946.56M1130.91,947.51L1125.79,950.64M1133.53,952.20L1128.19,954.93M1135.79,957.09L1130.24,959.38M1137.65,962.13L1131.94,963.99M1139.11,967.31L1133.27,968.71M1140.16,972.58L1134.23,973.52M1140.79,977.93L1134.81,978.40M1141.00,983.30L1135.00,983.30M1140.79,988.67L1134.81,988.20M1140.16,994.02L1134.23,993.08M1139.11,999.29L1133.27,997.89M1137.65,1004.47L1131.94,1002.61M1135.79,1009.51L1130.24,1007.22M1133.53,1014.40L1128.19,1011.67M1130.91,1019.09L1125.79,1015.96M1127.92,1023.56L1123.06,1020.04M1124.59,1027.79L1120.03,1023.89M1120.94,1031.74L1116.69,1027.49M1116.99,1035.39L1113.09,1030.83M1112.76,1038.72L1109.24,1033.86M1108.29,1041.71L1105.16,1036.59M1103.60,1044.33L1100.87,1038.99M1098.71,1046.59L1096.42,1041.04M1093.67,1048.45L1091.81,1042.74M1088.49,1049.91L1087.09,1044.07M1083.22,1050.96L1082.28,1045.03M1077.87,1051.59L1077.40,1045.61M1072.50,1051.80L1072.50,1045.80M1067.13,1051.59L1067.60,1045.61M1061.78,1050.96L1062.72,1045.03M1056.51,1049.91L1057.91,1044.07M1051.33,1048.45L1053.19,1042.74M1046.29,1046.59L1048.58,1041.04M1041.40,1044.33L1044.13,1038.99M1036.71,1041.71L1039.84,1036.59M1032.24,1038.72L1035.76,1033.86M1028.01,1035.39L1031.91,1030.83M1024.06,1031.74L1028.31,1027.49M1020.41,1027.79L1024.97,1023.89M1017.08,1023.56L1021.94,1020.04M1014.09,1019.09L1019.21,1015.96M1011.47,1014.40L1016.81,1011.67M1009.21,1009.51L1014.76,1007.22M1007.35,1004.47L1013.06,1002.61M1005.89,999.29L1011.73,997.89M1004.84,994.02L1010.77,993.08M1004.21,988.67L1010.19,988.20M1004.00,983.30L1010.00,983.30M1004.21,977.93L1010.19,978.40M1004.84,972.58L1010.77,973.52M1005.89,967.31L1011.73,968.71M1007.35,962.13L1013.06,963.99M1009.21,957.09L1014.76,959.38M1011.47,952.20L1016.81,954.93M1014.09,947.51L1019.21,950.64M1017.08,943.04L1021.94,946.56M1020.41,938.81L1024.97,942.71M1024.06,934.86L1028.31,939.11M1028.01,931.21L1031.91,935.77M1032.24,927.88L1035.76,932.74M1036.71,924.89L1039.84,930.01M1041.40,922.27L1044.13,927.61M1046.29,920.01L1048.58,925.56M1051.33,918.15L1053.19,923.86M1056.51,916.69L1057.91,922.53M1061.78,915.64L1062.72,921.57M1067.13,915.01L1067.60,920.99M1072.50,914.80L1072.50,920.80" stroke="#f2f2f2" stroke-width="1.2" fill="none"/>
<line x1="1072.5" y1="920.8" x2="1072.5" y2="914.8" stroke="#ffd21a" stroke-width="2.5"/>
<line x1="1109.2" y1="932.7" x2="1112.8" y2="927.9" stroke="#ffd21a" stroke-width="2.5"/>
<line x1="1131.9" y1="964.0" x2="1137.6" y2="962.1" stroke="#ffd21a" stroke-width="2.5"/>
<line x1="1131.9" y1="1002.6" x2="1137.6" y2="1004.5" stroke="#ffd21a" stroke-width="2.5"/>
<line x1="1109.2" y1="1033.9" x2="1112.8" y2="1038.7" stroke="#ffd21a" stroke-width="2.5"/>
<line x1="1072.5" y1="1045.8" x2="1072.5" y2="1051.8" stroke="#ffd21a" stroke-width="2.5"/>
<line x1="1035.8" y1="1033.9" x2="1032.2" y2="1038.7" stroke="#ffd21a" stroke-width="2.5"/>
<line x1="1013.1" y1="1002.6" x2="1007.4" y2="1004.5" stroke="#ffd21a" stroke-width="2.5"/>
<line x1="1013.1" y1="964.0" x2="1007.4" y2="962.1" stroke="#ffd21a" stroke-width="2.5"/>
<line x1="1035.8" y1="932.7" x2="1032.2" y2="927.9" stroke="#ffd21a" stroke-width="2.5"/>
<text x="1070.9" y="938.1" font-family="Liberation Sans" font-size="16" font-weight="normal" fill="#ffd21a" text-anchor="middle" >5</text>
<text x="1040.1" y="947.8" font-family="Liberation Sans" font-size="16" font-weight="normal" fill="#ffd21a" text-anchor="middle" >4</text>
<text x="1100.9" y="949.4" font-family="Liberation Sans" font-size="16" font-weight="normal" fill="#ffd21a" text-anchor="middle" >6</text>
<text x="1019.0" y="975.3" font-family="Liberation Sans" font-size="16" font-weight="normal" fill="#ffd21a" text-anchor="middle" >3</text>
<text x="1121.6" y="974.5" font-family="Liberation Sans" font-size="16" font-weight="normal" fill="#ffd21a" text-anchor="middle" >7</text>
<text x="1020.6" y="1008.6" font-family="Liberation Sans" font-size="16" font-weight="normal" fill="#ffd21a" text-anchor="middle" >2</text>
<text x="1124.7" y="1007.3" font-family="Liberation Sans" font-size="16" font-weight="normal" fill="#ffd21a" text-anchor="middle" >8</text>
<text x="1036.5" y="1031.2" font-family="Liberation Sans" font-size="16" font-weight="normal" fill="#ffd21a" text-anchor="middle" >1</text>
<text x="1102.3" y="1032.8" font-family="Liberation Sans" font-size="16" font-weight="normal" fill="#ffd21a" text-anchor="middle" >9</text>
<text x="1072.8" y="1041.8" font-family="Liberation Sans" font-size="16" font-weight="normal" fill="#ffd21a" text-anchor="middle" >0</text>
<text x="1070.9" y="976.0" font-family="Liberation Sans" font-size="11" font-weight="bold" fill="#ffd21a" text-anchor="middle" textLength="61.9" lengthAdjust="spacingAndGlyphs" >WYSOKOŚĆ</text>
<text x="1071.7" y="1003.5" font-family="Liberation Sans" font-size="11" font-weight="bold" fill="#ffd21a" text-anchor="middle" textLength="44.0" lengthAdjust="spacingAndGlyphs" >x1000m</text>
<text x="1073.3" y="1017.6" font-family="Liberation Sans" font-size="7.5" font-weight="normal" fill="#f2f2f2" text-anchor="middle" textLength="67.0" lengthAdjust="spacingAndGlyphs" >G.Gerlach Warszawa</text>
<polygon points="1055.4,1001.5 1070.9,981.8 1070.9,981.8 1074.1,984.8 1074.1,984.8 1056.6,1002.5" fill="#000"/>
<polygon points="1109.6,934.5 1073.7,984.2 1073.7,984.2 1071.3,982.4 1071.3,982.4 1108.4,933.5" fill="#e6dfb0"/>
<polygon points="1090,955 1099,948 1097,962 1088,968" fill="#e6dfb0"/>
<circle cx="1072.5" cy="983.3" r="5.0" fill="#000" stroke="none" stroke-width="1" />
<circle cx="1131.6" cy="1042.5" r="16.0" fill="#575757" stroke="none" stroke-width="1" />
<rect x="1269.6" y="931.2" width="134.1" height="133.2" rx="6" fill="#121d24"/>
<circle cx="1281.5" cy="944.3" r="7.5" fill="#8f8f8f"/><line x1="1277.4" y1="948.4" x2="1285.6" y2="940.2" stroke="#4a4a4a" stroke-width="1.3"/>
<circle cx="1390.5" cy="942.5" r="7.5" fill="#8f8f8f"/><line x1="1386.4" y1="946.6" x2="1394.6" y2="938.4" stroke="#4a4a4a" stroke-width="1.3"/>
<circle cx="1282.0" cy="1052.0" r="7.5" fill="#8f8f8f"/><line x1="1277.9" y1="1056.1" x2="1286.1" y2="1047.9" stroke="#4a4a4a" stroke-width="1.3"/>
<circle cx="1391.0" cy="1051.5" r="7.5" fill="#8f8f8f"/><line x1="1386.9" y1="1055.6" x2="1395.1" y2="1047.4" stroke="#4a4a4a" stroke-width="1.3"/>
<polygon points="1403,992 1413,985 1416,985 1416,1009 1413,1009 1403,1002" fill="#9a9a9a"/>
<circle cx="1336.7" cy="997.4" r="64.0" fill="#03070b" stroke="none" stroke-width="1" />
<path d="M1336.70,947.40L1336.70,940.40M1341.93,947.67L1342.66,940.71M1347.10,948.49L1348.55,941.65M1352.15,949.85L1354.31,943.19M1357.04,951.72L1359.88,945.33M1361.70,954.10L1365.20,948.04M1366.09,956.95L1370.20,951.29M1370.16,960.24L1374.84,955.04M1373.86,963.94L1379.06,959.26M1377.15,968.01L1382.81,963.90M1380.00,972.40L1386.06,968.90M1382.38,977.06L1388.77,974.22M1384.25,981.95L1390.91,979.79M1385.61,987.00L1392.45,985.55M1386.43,992.17L1393.39,991.44M1386.70,997.40L1393.70,997.40M1386.43,1002.63L1393.39,1003.36M1385.61,1007.80L1392.45,1009.25M1384.25,1012.85L1390.91,1015.01M1382.38,1017.74L1388.77,1020.58M1380.00,1022.40L1386.06,1025.90M1377.15,1026.79L1382.81,1030.90M1373.86,1030.86L1379.06,1035.54M1370.16,1034.56L1374.84,1039.76M1366.09,1037.85L1370.20,1043.51M1361.70,1040.70L1365.20,1046.76M1357.04,1043.08L1359.88,1049.47M1352.15,1044.95L1354.31,1051.61M1347.10,1046.31L1348.55,1053.15M1341.93,1047.13L1342.66,1054.09M1336.70,1047.40L1336.70,1054.40M1331.47,1047.13L1330.74,1054.09M1326.30,1046.31L1324.85,1053.15M1321.25,1044.95L1319.09,1051.61M1316.36,1043.08L1313.52,1049.47M1311.70,1040.70L1308.20,1046.76M1307.31,1037.85L1303.20,1043.51M1303.24,1034.56L1298.56,1039.76M1299.54,1030.86L1294.34,1035.54M1296.25,1026.79L1290.59,1030.90M1293.40,1022.40L1287.34,1025.90M1291.02,1017.74L1284.63,1020.58M1289.15,1012.85L1282.49,1015.01M1287.79,1007.80L1280.95,1009.25M1286.97,1002.63L1280.01,1003.36M1286.70,997.40L1279.70,997.40M1286.97,992.17L1280.01,991.44M1287.79,987.00L1280.95,985.55M1289.15,981.95L1282.49,979.79M1291.02,977.06L1284.63,974.22M1293.40,972.40L1287.34,968.90M1296.25,968.01L1290.59,963.90M1299.54,963.94L1294.34,959.26M1303.24,960.24L1298.56,955.04M1307.31,956.95L1303.20,951.29M1311.70,954.10L1308.20,948.04M1316.36,951.72L1313.52,945.33M1321.25,949.85L1319.09,943.19M1326.30,948.49L1324.85,941.65M1331.47,947.67L1330.74,940.71M1336.70,947.40L1336.70,940.40" stroke="#f2f2f2" stroke-width="1.1" fill="none"/>
<circle cx="1336.7" cy="997.4" r="48.0" fill="#15212b" stroke="none" stroke-width="1" />
<text x="1337.0" y="971.0" font-family="Liberation Sans" font-size="14" font-weight="normal" fill="#ffd21a" text-anchor="middle" >12</text>
<text x="1371.0" y="1002.0" font-family="Liberation Sans" font-size="14" font-weight="normal" fill="#ffd21a" text-anchor="middle" >3</text>
<text x="1337.0" y="1035.0" font-family="Liberation Sans" font-size="14" font-weight="normal" fill="#ffd21a" text-anchor="middle" >6</text>
<text x="1303.0" y="1002.0" font-family="Liberation Sans" font-size="14" font-weight="normal" fill="#ffd21a" text-anchor="middle" >9</text>
<line x1="1336.7" y1="957.4" x2="1336.7" y2="950.4" stroke="#ffd21a" stroke-width="1"/>
<line x1="1356.7" y1="962.8" x2="1360.2" y2="956.7" stroke="#ffd21a" stroke-width="1"/>
<line x1="1371.3" y1="977.4" x2="1377.4" y2="973.9" stroke="#ffd21a" stroke-width="1"/>
<line x1="1376.7" y1="997.4" x2="1383.7" y2="997.4" stroke="#ffd21a" stroke-width="1"/>
<line x1="1371.3" y1="1017.4" x2="1377.4" y2="1020.9" stroke="#ffd21a" stroke-width="1"/>
<line x1="1356.7" y1="1032.0" x2="1360.2" y2="1038.1" stroke="#ffd21a" stroke-width="1"/>
<line x1="1336.7" y1="1037.4" x2="1336.7" y2="1044.4" stroke="#ffd21a" stroke-width="1"/>
<line x1="1316.7" y1="1032.0" x2="1313.2" y2="1038.1" stroke="#ffd21a" stroke-width="1"/>
<line x1="1302.1" y1="1017.4" x2="1296.0" y2="1020.9" stroke="#ffd21a" stroke-width="1"/>
<line x1="1296.7" y1="997.4" x2="1289.7" y2="997.4" stroke="#ffd21a" stroke-width="1"/>
<line x1="1302.1" y1="977.4" x2="1296.0" y2="973.9" stroke="#ffd21a" stroke-width="1"/>
<line x1="1316.7" y1="962.8" x2="1313.2" y2="956.7" stroke="#ffd21a" stroke-width="1"/>
<text x="1337.0" y="1015.7" font-family="Liberation Sans" font-size="7.5" font-weight="bold" fill="#f2f2f2" text-anchor="middle" textLength="31.0" lengthAdjust="spacingAndGlyphs" >G.Gerlach</text>
<circle cx="1325.0" cy="974.0" r="11.0" fill="none" stroke="#d4b020" stroke-width="1" stroke-dasharray="1.5 1.5"/>
<polygon points="1337.8,951.0 1339.0,997.4 1339.0,997.4 1334.4,997.4 1334.4,997.4 1336.2,951.0" fill="#f0e860"/>
<polygon points="1352.3,1036.3 1334.3,998.4 1334.3,998.4 1339.1,996.4 1339.1,996.4 1353.7,1035.7" fill="#f0e860"/>
<circle cx="1336.7" cy="997.4" r="9.0" fill="#000" stroke="none" stroke-width="1" />
<text x="1307.0" y="949.0" font-family="Liberation Sans" font-size="10" font-weight="normal" fill="#ddd" text-anchor="middle" transform="rotate(-35 1307 946)">50</text>
<text x="1370.0" y="949.0" font-family="Liberation Sans" font-size="10" font-weight="normal" fill="#ddd" text-anchor="middle" transform="rotate(30 1370 946)">0</text>
<text x="1277.0" y="1000.0" font-family="Liberation Sans" font-size="10" font-weight="normal" fill="#ddd" text-anchor="middle" transform="rotate(-90 1277 997)">40</text>
<text x="1397.0" y="1000.0" font-family="Liberation Sans" font-size="10" font-weight="normal" fill="#ddd" text-anchor="middle" transform="rotate(90 1397 997)">10</text>
<text x="1307.0" y="1052.0" font-family="Liberation Sans" font-size="10" font-weight="normal" fill="#ddd" text-anchor="middle" transform="rotate(-150 1307 1049)">30</text>
<text x="1368.0" y="1052.0" font-family="Liberation Sans" font-size="10" font-weight="normal" fill="#ddd" text-anchor="middle" transform="rotate(150 1368 1049)">20</text>
<rect x="345.3" y="804.0" width="134.3" height="133.0" rx="6" fill="#121d24"/>
<circle cx="356.5" cy="815.0" r="7.4" fill="#8f8f8f"/><line x1="352.4" y1="819.1" x2="360.6" y2="810.9" stroke="#4a4a4a" stroke-width="1.3"/>
<circle cx="470.0" cy="814.5" r="7.4" fill="#8f8f8f"/><line x1="465.9" y1="818.6" x2="474.1" y2="810.4" stroke="#4a4a4a" stroke-width="1.3"/>
<circle cx="356.5" cy="925.5" r="7.4" fill="#8f8f8f"/><line x1="352.4" y1="929.6" x2="360.6" y2="921.4" stroke="#4a4a4a" stroke-width="1.3"/>
<circle cx="469.7" cy="926.5" r="7.4" fill="#8f8f8f"/><line x1="465.6" y1="930.6" x2="473.8" y2="922.4" stroke="#4a4a4a" stroke-width="1.3"/>
<circle cx="413.0" cy="871.6" r="62.0" fill="#03070b" stroke="none" stroke-width="1" />
<circle cx="413.0" cy="871.6" r="57.0" fill="#16212b" stroke="none" stroke-width="1" />
<path d="M385.25,919.66 A55.5,55.5 0 1 1 467.66,861.96" fill="none" stroke="#ffd21a" stroke-width="1.1"/>
<path d="M388.75,913.60 A48.5,48.5 0 1 1 460.76,863.18" fill="none" stroke="#ffd21a" stroke-width="1.1"/>
<path d="M385.25,919.66L388.75,913.60M381.80,917.50L385.74,911.71M378.53,915.09L382.87,909.61M375.43,912.45L380.17,907.30M372.54,909.59L377.65,904.80M369.87,906.53L375.31,902.12M367.43,903.27L373.17,899.28M365.23,899.85L371.25,896.29M363.29,896.28L369.56,893.16M361.61,892.57L368.10,889.93M360.22,888.75L366.87,886.59M359.10,884.84L365.90,883.17M358.28,880.86L365.18,879.69M357.75,876.82L364.72,876.16M357.51,872.76L364.51,872.62M357.58,868.70L364.57,869.06M357.94,864.64L364.88,865.52M358.59,860.63L365.46,862.01M359.54,856.67L366.29,858.56M360.78,852.80L367.37,855.17M362.30,849.03L368.69,851.87M364.09,845.37L370.26,848.68M366.14,841.86L372.05,845.61M368.44,838.51L374.06,842.68M370.99,835.34L376.29,839.91M373.76,832.36L378.71,837.31M376.74,829.59L381.31,834.89M379.91,827.04L384.08,832.66M383.26,824.74L387.01,830.65M386.77,822.69L390.08,828.86M390.43,820.90L393.27,827.29M394.20,819.38L396.57,825.97M398.07,818.14L399.96,824.89M402.03,817.19L403.41,824.06M406.04,816.54L406.92,823.48M410.10,816.18L410.46,823.17M414.16,816.11L414.02,823.11M418.22,816.35L417.56,823.32M422.26,816.88L421.09,823.78M426.24,817.70L424.57,824.50M430.15,818.82L427.99,825.47M433.97,820.21L431.33,826.70M437.68,821.89L434.56,828.16M441.25,823.83L437.69,829.85M444.67,826.03L440.68,831.77M447.93,828.47L443.52,833.91M450.99,831.14L446.20,836.25M453.85,834.03L448.70,838.77M456.49,837.13L451.01,841.47M458.90,840.40L453.11,844.34M461.06,843.85L455.00,847.35M462.97,847.44L456.67,850.49M464.60,851.17L458.09,853.75M465.96,855.00L459.28,857.10M467.03,858.93L460.22,860.52" stroke="#ffd21a" stroke-width="1.1" fill="none"/>
<path d="M467.66,861.96 A55.5,55.5 0 0 1 385.25,919.66" fill="none" stroke="#ffd21a" stroke-width="1.1"/>
<path d="M460.76,863.18 A48.5,48.5 0 0 1 388.75,913.60" fill="none" stroke="#ffd21a" stroke-width="1.1"/>
<text x="411.8" y="832.2" font-family="Liberation Sans" font-size="12" font-weight="bold" fill="#ffd21a" text-anchor="middle" >100</text>
<text x="392.3" y="839.9" font-family="Liberation Sans" font-size="12" font-weight="bold" fill="#ffd21a" text-anchor="middle" >90</text>
<text x="431.2" y="839.9" font-family="Liberation Sans" font-size="12" font-weight="bold" fill="#ffd21a" text-anchor="middle" >110</text>
<text x="376.8" y="851.6" font-family="Liberation Sans" font-size="12" font-weight="bold" fill="#ffd21a" text-anchor="middle" >80</text>
<text x="448.1" y="861.3" font-family="Liberation Sans" font-size="12" font-weight="bold" fill="#ffd21a" text-anchor="middle" >120</text>
<text x="370.3" y="874.3" font-family="Liberation Sans" font-size="12" font-weight="bold" fill="#ffd21a" text-anchor="middle" >70</text>
<text x="373.5" y="891.8" font-family="Liberation Sans" font-size="12" font-weight="bold" fill="#ffd21a" text-anchor="middle" >60</text>
<text x="449.4" y="888.6" font-family="Liberation Sans" font-size="12" font-weight="bold" fill="#ffd21a" text-anchor="middle" >130</text>
<text x="386.5" y="909.9" font-family="Liberation Sans" font-size="12" font-weight="bold" fill="#ffd21a" text-anchor="middle" >40</text>
<text x="399.4" y="916.4" font-family="Liberation Sans" font-size="12" font-weight="bold" fill="#ffd21a" text-anchor="middle" >25</text>
<text x="422.8" y="916.4" font-family="Liberation Sans" font-size="12" font-weight="bold" fill="#ffd21a" text-anchor="middle" >140</text>
<text x="413.7" y="845.5" font-family="Liberation Sans" font-size="11" font-weight="bold" fill="#ffd21a" text-anchor="middle" >°C</text>
<text x="412.4" y="857.5" font-family="Liberation Sans" font-size="12" font-weight="bold" fill="#ffd21a" text-anchor="middle" textLength="35.6" lengthAdjust="spacingAndGlyphs" >SMAR</text>
<text x="411.8" y="882.2" font-family="Liberation Sans" font-size="8.5" font-weight="normal" fill="#ffd21a" text-anchor="middle" textLength="53.8" lengthAdjust="spacingAndGlyphs" >TEMPERATURA</text>
<text x="412.4" y="897.5" font-family="Liberation Sans" font-size="8" font-weight="normal" fill="#f2f2f2" text-anchor="middle" textLength="67.0" lengthAdjust="spacingAndGlyphs" >G.Gerlach Warszawa</text>
<circle cx="413.5" cy="861.0" r="2.5" fill="#8a8a8a" stroke="none" stroke-width="1" />
<circle cx="413.5" cy="887.0" r="2.5" fill="#8a8a8a" stroke="none" stroke-width="1" />
<polygon points="451.9,877.8 412.7,873.8 412.7,873.8 413.3,869.4 413.3,869.4 452.1,876.2" fill="#03070b"/>
<polygon points="370.1,865.2 413.2,870.2 413.2,870.2 412.8,873.0 412.8,873.0 369.9,866.8" fill="#e6dfb0"/>
<circle cx="413.0" cy="871.6" r="5.0" fill="#03070b" stroke="none" stroke-width="1" />
<rect x="490.4" y="804.0" width="133.6" height="133.6" rx="6" fill="#121d24"/>
<circle cx="500.4" cy="814.1" r="7.4" fill="#8f8f8f"/><line x1="496.3" y1="818.2" x2="504.5" y2="810.0" stroke="#4a4a4a" stroke-width="1.3"/>
<circle cx="613.2" cy="814.1" r="7.4" fill="#8f8f8f"/><line x1="609.1" y1="818.2" x2="617.3" y2="810.0" stroke="#4a4a4a" stroke-width="1.3"/>
<circle cx="500.4" cy="925.5" r="7.4" fill="#8f8f8f"/><line x1="496.3" y1="929.6" x2="504.5" y2="921.4" stroke="#4a4a4a" stroke-width="1.3"/>
<circle cx="613.2" cy="925.5" r="7.4" fill="#8f8f8f"/><line x1="609.1" y1="929.6" x2="617.3" y2="921.4" stroke="#4a4a4a" stroke-width="1.3"/>
<circle cx="556.9" cy="872.2" r="62.5" fill="#03070b" stroke="none" stroke-width="1" />
<circle cx="556.9" cy="872.2" r="57.0" fill="#7a3222" stroke="none" stroke-width="1" />
<circle cx="556.9" cy="872.2" r="56.0" fill="none" stroke="#ffd21a" stroke-width="1.1" />
<circle cx="556.9" cy="872.2" r="49.0" fill="none" stroke="#ffd21a" stroke-width="1.1" />
<path d="M556.90,816.20L556.90,823.20M561.78,816.41L561.17,823.39M566.62,817.05L565.41,823.94M571.39,818.11L569.58,824.87M576.05,819.58L573.66,826.16M580.57,821.45L577.61,827.79M584.90,823.70L581.40,829.76M589.02,826.33L585.01,832.06M592.90,829.30L588.40,834.66M596.50,832.60L591.55,837.55M599.80,836.20L594.44,840.70M602.77,840.08L597.04,844.09M605.40,844.20L599.34,847.70M607.65,848.53L601.31,851.49M609.52,853.05L602.94,855.44M610.99,857.71L604.23,859.52M612.05,862.48L605.16,863.69M612.69,867.32L605.71,867.93M612.90,872.20L605.90,872.20M612.69,877.08L605.71,876.47M612.05,881.92L605.16,880.71M610.99,886.69L604.23,884.88M609.52,891.35L602.94,888.96M607.65,895.87L601.31,892.91M605.40,900.20L599.34,896.70M602.77,904.32L597.04,900.31M599.80,908.20L594.44,903.70M596.50,911.80L591.55,906.85M592.90,915.10L588.40,909.74M589.02,918.07L585.01,912.34M584.90,920.70L581.40,914.64M580.57,922.95L577.61,916.61M576.05,924.82L573.66,918.24M571.39,926.29L569.58,919.53M566.62,927.35L565.41,920.46M561.78,927.99L561.17,921.01M556.90,928.20L556.90,921.20M552.02,927.99L552.63,921.01M547.18,927.35L548.39,920.46M542.41,926.29L544.22,919.53M537.75,924.82L540.14,918.24M533.23,922.95L536.19,916.61M528.90,920.70L532.40,914.64M524.78,918.07L528.79,912.34M520.90,915.10L525.40,909.74M517.30,911.80L522.25,906.85M514.00,908.20L519.36,903.70M511.03,904.32L516.76,900.31M508.40,900.20L514.46,896.70M506.15,895.87L512.49,892.91M504.28,891.35L510.86,888.96M502.81,886.69L509.57,884.88M501.75,881.92L508.64,880.71M501.11,877.08L508.09,876.47M500.90,872.20L507.90,872.20M501.11,867.32L508.09,867.93M501.75,862.48L508.64,863.69M502.81,857.71L509.57,859.52M504.28,853.05L510.86,855.44M506.15,848.53L512.49,851.49M508.40,844.20L514.46,847.70M511.03,840.08L516.76,844.09M514.00,836.20L519.36,840.70M517.30,832.60L522.25,837.55M520.90,829.30L525.40,834.66M524.78,826.33L528.79,832.06M528.90,823.70L532.40,829.76M533.23,821.45L536.19,827.79M537.75,819.58L540.14,826.16M542.41,818.11L544.22,824.87M547.18,817.05L548.39,823.94M552.02,816.41L552.63,823.39M556.90,816.20L556.90,823.20" stroke="#ffd21a" stroke-width="1.1" fill="none"/>
<line x1="556.9" y1="823.2" x2="556.9" y2="816.2" stroke="#ffd21a" stroke-width="2.5"/>
<line x1="522.3" y1="837.6" x2="517.3" y2="832.6" stroke="#ffd21a" stroke-width="2.5"/>
<line x1="591.5" y1="837.6" x2="596.5" y2="832.6" stroke="#ffd21a" stroke-width="2.5"/>
<line x1="507.9" y1="872.2" x2="500.9" y2="872.2" stroke="#ffd21a" stroke-width="2.5"/>
<line x1="605.9" y1="872.2" x2="612.9" y2="872.2" stroke="#ffd21a" stroke-width="2.5"/>
<line x1="532.4" y1="914.6" x2="528.9" y2="920.7" stroke="#ffd21a" stroke-width="2.5"/>
<line x1="581.4" y1="914.6" x2="584.9" y2="920.7" stroke="#ffd21a" stroke-width="2.5"/>
<text x="557.5" y="832.5" font-family="Liberation Sans" font-size="10" font-weight="normal" fill="#ffd21a" text-anchor="middle" >0,3</text>
<text x="528.0" y="846.6" font-family="Liberation Sans" font-size="10" font-weight="normal" fill="#ffd21a" text-anchor="middle" >0,2</text>
<text x="584.4" y="846.6" font-family="Liberation Sans" font-size="10" font-weight="normal" fill="#ffd21a" text-anchor="middle" >0,4</text>
<text x="517.2" y="883.5" font-family="Liberation Sans" font-size="10" font-weight="normal" fill="#ffd21a" text-anchor="middle" >0,1</text>
<text x="595.8" y="883.5" font-family="Liberation Sans" font-size="10" font-weight="normal" fill="#ffd21a" text-anchor="middle" >0,5</text>
<text x="538.7" y="913.7" font-family="Liberation Sans" font-size="10" font-weight="normal" fill="#ffd21a" text-anchor="middle" >0</text>
<text x="575.6" y="913.7" font-family="Liberation Sans" font-size="10" font-weight="normal" fill="#ffd21a" text-anchor="middle" >0,6</text>
<text x="556.8" y="856.4" font-family="Liberation Sans" font-size="11" font-weight="bold" fill="#ffd21a" text-anchor="middle" textLength="39.0" lengthAdjust="spacingAndGlyphs" >PALIWO</text>
<text x="556.2" y="884.6" font-family="Liberation Sans" font-size="11" font-weight="bold" fill="#ffd21a" text-anchor="middle" textLength="49.0" lengthAdjust="spacingAndGlyphs" >CIŚNIENIE</text>
<text x="556.8" y="897.6" font-family="Liberation Sans" font-size="8" font-weight="normal" fill="#f2f2f2" text-anchor="middle" textLength="67.8" lengthAdjust="spacingAndGlyphs" >G.Gerlach Warszawa</text>
<text x="559.5" y="906.5" font-family="Liberation Sans" font-size="8.5" font-weight="normal" fill="#ffd21a" text-anchor="middle" textLength="26.9" lengthAdjust="spacingAndGlyphs" >kg/cm²</text>
<line x1="516" y1="872" x2="557" y2="872" stroke="#2a1a15" stroke-width="3.5"/><circle cx="516" cy="872" r="4" fill="#2a1a15"/>
<line x1="557" y1="872" x2="598" y2="872" stroke="#f0c030" stroke-width="1.6"/><polygon points="604.5,872 591,866 594,872 591,878" fill="#f0c030"/>
<circle cx="556.9" cy="872.2" r="4.5" fill="#3a2218" stroke="none" stroke-width="1" />
<circle cx="556.9" cy="861.7" r="2.5" fill="#3a2218" stroke="none" stroke-width="1" />
<circle cx="556.9" cy="887.0" r="2.5" fill="#3a2218" stroke="none" stroke-width="1" />
<line x1="618" y1="883" x2="618" y2="911" stroke="#e8e8d0" stroke-width="1.3"/>
<rect x="71.5" y="954.0" width="129.0" height="136.0" rx="6" fill="#121d24"/>
<circle cx="82.7" cy="967.8" r="7.4" fill="#8f8f8f"/><line x1="78.6" y1="971.9" x2="86.8" y2="963.7" stroke="#4a4a4a" stroke-width="1.3"/>
<circle cx="189.9" cy="967.8" r="7.4" fill="#8f8f8f"/><line x1="185.8" y1="971.9" x2="194.0" y2="963.7" stroke="#4a4a4a" stroke-width="1.3"/>
<circle cx="82.7" cy="1075.0" r="7.4" fill="#8f8f8f"/><line x1="78.6" y1="1079.1" x2="86.8" y2="1070.9" stroke="#4a4a4a" stroke-width="1.3"/>
<circle cx="190.0" cy="1075.0" r="7.4" fill="#8f8f8f"/><line x1="185.9" y1="1079.1" x2="194.1" y2="1070.9" stroke="#4a4a4a" stroke-width="1.3"/>
<circle cx="135.5" cy="1019.0" r="62.0" fill="#03070b" stroke="none" stroke-width="1" />
<circle cx="135.5" cy="1019.0" r="57.0" fill="#7a2e1e" stroke="none" stroke-width="1" />
<circle cx="135.5" cy="1019.0" r="56.0" fill="none" stroke="#ffd21a" stroke-width="1.1" />
<circle cx="135.5" cy="1019.0" r="49.0" fill="none" stroke="#ffd21a" stroke-width="1.1" />
<path d="M135.50,963.00L135.50,970.00M144.26,963.69L143.17,970.60M152.80,965.74L150.64,972.40M160.92,969.10L157.75,975.34M168.42,973.70L164.30,979.36M175.10,979.40L170.15,984.35M180.80,986.08L175.14,990.20M185.40,993.58L179.16,996.75M188.76,1001.70L182.10,1003.86M190.81,1010.24L183.90,1011.33M191.50,1019.00L184.50,1019.00M190.81,1027.76L183.90,1026.67M188.76,1036.30L182.10,1034.14M185.40,1044.42L179.16,1041.25M180.80,1051.92L175.14,1047.80M175.10,1058.60L170.15,1053.65M168.42,1064.30L164.30,1058.64M160.92,1068.90L157.75,1062.66M152.80,1072.26L150.64,1065.60M144.26,1074.31L143.17,1067.40M135.50,1075.00L135.50,1068.00M126.74,1074.31L127.83,1067.40M118.20,1072.26L120.36,1065.60M110.08,1068.90L113.25,1062.66M102.58,1064.30L106.70,1058.64M95.90,1058.60L100.85,1053.65M90.20,1051.92L95.86,1047.80M85.60,1044.42L91.84,1041.25M82.24,1036.30L88.90,1034.14M80.19,1027.76L87.10,1026.67M79.50,1019.00L86.50,1019.00M80.19,1010.24L87.10,1011.33M82.24,1001.70L88.90,1003.86M85.60,993.58L91.84,996.75M90.20,986.08L95.86,990.20M95.90,979.40L100.85,984.35M102.58,973.70L106.70,979.36M110.08,969.10L113.25,975.34M118.20,965.74L120.36,972.40M126.74,963.69L127.83,970.60M135.50,963.00L135.50,970.00" stroke="#ffd21a" stroke-width="1.1" fill="none"/>
<line x1="100.9" y1="1053.6" x2="95.9" y2="1058.6" stroke="#ffd21a" stroke-width="2.5"/>
<line x1="86.7" y1="1023.3" x2="79.7" y2="1023.9" stroke="#ffd21a" stroke-width="2.5"/>
<line x1="100.9" y1="984.4" x2="95.9" y2="979.4" stroke="#ffd21a" stroke-width="2.5"/>
<line x1="135.5" y1="970.0" x2="135.5" y2="963.0" stroke="#ffd21a" stroke-width="2.5"/>
<line x1="170.1" y1="984.4" x2="175.1" y2="979.4" stroke="#ffd21a" stroke-width="2.5"/>
<line x1="184.3" y1="1023.3" x2="191.3" y2="1023.9" stroke="#ffd21a" stroke-width="2.5"/>
<line x1="170.1" y1="1053.6" x2="175.1" y2="1058.6" stroke="#ffd21a" stroke-width="2.5"/>
<line x1="135.5" y1="1068.0" x2="135.5" y2="1075.0" stroke="#ffd21a" stroke-width="2.5"/>
<text x="120.4" y="983.4" font-family="Liberation Sans" font-size="10" font-weight="normal" fill="#ffd21a" text-anchor="middle" >160</text>
<text x="150.6" y="983.4" font-family="Liberation Sans" font-size="10" font-weight="normal" fill="#ffd21a" text-anchor="middle" >200</text>
<text x="104.7" y="996.1" font-family="Liberation Sans" font-size="10" font-weight="normal" fill="#ffd21a" text-anchor="middle" >120</text>
<text x="168.8" y="998.0" font-family="Liberation Sans" font-size="10" font-weight="normal" fill="#ffd21a" text-anchor="middle" >240</text>
<text x="93.2" y="1023.6" font-family="Liberation Sans" font-size="10" font-weight="normal" fill="#ffd21a" text-anchor="middle" >80</text>
<text x="177.2" y="1023.6" font-family="Liberation Sans" font-size="10" font-weight="normal" fill="#ffd21a" text-anchor="middle" >280</text>
<text x="103.2" y="1049.9" font-family="Liberation Sans" font-size="10" font-weight="normal" fill="#ffd21a" text-anchor="middle" >40</text>
<text x="167.3" y="1051.4" font-family="Liberation Sans" font-size="10" font-weight="normal" fill="#ffd21a" text-anchor="middle" >320</text>
<text x="121.9" y="1065.0" font-family="Liberation Sans" font-size="10" font-weight="normal" fill="#ffd21a" text-anchor="middle" >0</text>
<text x="136.4" y="994.5" font-family="Liberation Sans" font-size="7" font-weight="bold" fill="#f2f2f2" text-anchor="middle" >LITR</text>
<text x="135.5" y="1008.0" font-family="Liberation Sans" font-size="11" font-weight="normal" fill="#ffd21a" text-anchor="middle" textLength="40.0" lengthAdjust="spacingAndGlyphs" >BENZYNA</text>
<text x="137.0" y="1032.8" font-family="Liberation Sans" font-size="7" font-weight="bold" fill="#f2f2f2" text-anchor="middle" >P.11C</text>
<text x="137.0" y="1042.3" font-family="Liberation Sans" font-size="8" font-weight="normal" fill="#f2f2f2" text-anchor="middle" textLength="67.4" lengthAdjust="spacingAndGlyphs" >G.Gerlach Warszawa</text>
<text x="137.0" y="1057.0" font-family="Liberation Sans" font-size="7" font-weight="bold" fill="#f2f2f2" text-anchor="middle" >TYP2</text>
<circle cx="136.0" cy="1006.0" r="2.5" fill="#8a8a8a" stroke="none" stroke-width="1" />
<circle cx="136.0" cy="1044.0" r="2.5" fill="#8a8a8a" stroke="none" stroke-width="1" />
<polygon points="181.1,1002.6 137.1,1021.7 110.6,1034.7 109.0,1030.7 135.7,1018.3 180.5,1001.2" fill="#e6dfb0"/>
<circle cx="110.5" cy="1032.3" r="5.0" fill="#e6dfb0" stroke="none" stroke-width="1" />
<circle cx="136.4" cy="1020.0" r="6.0" fill="#f4f0f0" stroke="none" stroke-width="1" />
<circle cx="136.4" cy="1020.0" r="1.0" fill="#222" stroke="none" stroke-width="1" />
<path d="M213,1045 Q205,1060 216,1066 L240,1072 Q272,1082 304,1072 L326,1066 Q338,1060 330,1045 Z" fill="#131e24"/>
<circle cx="271.7" cy="1017.8" r="60.0" fill="#131e24" stroke="none" stroke-width="1" />
<path d="M225.2,1041.0 A52,52 0 0 1 302.0,975.6 L288.3,994.7 A28.5,28.5 0 0 0 246.2,1030.5 Z" fill="#f6f6f6"/>
<circle cx="271.7" cy="1017.8" r="28.5" fill="#0c161b" stroke="none" stroke-width="1" />
<circle cx="271.7" cy="1017.8" r="20.7" fill="#142026" stroke="none" stroke-width="1" />
<text x="231.5" y="1022.1" font-family="Liberation Sans" font-size="12" font-weight="bold" fill="#111" text-anchor="middle" transform="rotate(-90 231.5 1017.8)">0</text>
<text x="236.7" y="1005.3" font-family="Liberation Sans" font-size="12" font-weight="bold" fill="#111" text-anchor="middle" transform="rotate(-60 236.7 1001)">1</text>
<text x="248.4" y="989.7" font-family="Liberation Sans" font-size="12" font-weight="bold" fill="#111" text-anchor="middle" transform="rotate(-35 248.4 985.4)">2</text>
<text x="271.0" y="981.0" font-family="Liberation Sans" font-size="10" font-weight="normal" fill="#111" text-anchor="middle" >1+2</text>
<circle cx="234.7" cy="1035.3" r="1.3" fill="#111" stroke="none" stroke-width="1" />
<circle cx="241.9" cy="1003.0" r="1.3" fill="#111" stroke="none" stroke-width="1" />
<circle cx="252.3" cy="990.0" r="1.3" fill="#111" stroke="none" stroke-width="1" />
<circle cx="272.0" cy="985.1" r="1.3" fill="#111" stroke="none" stroke-width="1" />
<circle cx="293.0" cy="983.2" r="1.3" fill="#111" stroke="none" stroke-width="1" />
<polygon points="239.3,1017.8 246,1011.8 352,1011.8 352,1023.8 246,1023.8" fill="#000"/>
<circle cx="275.0" cy="951.0" r="7.4" fill="#8f8f8f"/><line x1="270.9" y1="955.1" x2="279.1" y2="946.9" stroke="#4a4a4a" stroke-width="1.3"/>
<circle cx="215.6" cy="1056.3" r="7.4" fill="#8f8f8f"/><line x1="211.5" y1="1060.4" x2="219.7" y2="1052.2" stroke="#4a4a4a" stroke-width="1.3"/>
<circle cx="330.4" cy="1053.3" r="7.4" fill="#8f8f8f"/><line x1="326.3" y1="1057.4" x2="334.5" y2="1049.2" stroke="#4a4a4a" stroke-width="1.3"/>
<circle cx="319.8" cy="1010.0" r="2.8" fill="#8a8a8a" stroke="none" stroke-width="1" />
<circle cx="270.6" cy="1069.6" r="3.5" fill="#8a8a8a" stroke="none" stroke-width="1" />
<rect x="345.5" y="952.7" width="132.9" height="137.3" rx="6" fill="#121d24"/>
<circle cx="356.0" cy="961.7" r="7.4" fill="#8f8f8f"/><line x1="351.9" y1="965.8" x2="360.1" y2="957.6" stroke="#4a4a4a" stroke-width="1.3"/>
<circle cx="469.4" cy="961.7" r="7.4" fill="#8f8f8f"/><line x1="465.3" y1="965.8" x2="473.5" y2="957.6" stroke="#4a4a4a" stroke-width="1.3"/>
<circle cx="356.0" cy="1073.0" r="7.4" fill="#8f8f8f"/><line x1="351.9" y1="1077.1" x2="360.1" y2="1068.9" stroke="#4a4a4a" stroke-width="1.3"/>
<circle cx="469.4" cy="1073.0" r="7.4" fill="#8f8f8f"/><line x1="465.3" y1="1077.1" x2="473.5" y2="1068.9" stroke="#4a4a4a" stroke-width="1.3"/>
<circle cx="412.0" cy="1017.6" r="62.0" fill="#03070b" stroke="none" stroke-width="1" />
<circle cx="412.0" cy="1017.6" r="57.0" fill="#c2a81e" stroke="none" stroke-width="1" />
<path d="M384.25,1065.66 A55.5,55.5 0 1 1 466.66,1007.96" fill="none" stroke="#f4d84a" stroke-width="1.1"/>
<path d="M387.75,1059.60 A48.5,48.5 0 1 1 459.76,1009.18" fill="none" stroke="#f4d84a" stroke-width="1.1"/>
<path d="M384.25,1065.66L387.75,1059.60M380.80,1063.50L384.74,1057.71M377.53,1061.09L381.87,1055.61M374.43,1058.45L379.17,1053.30M371.54,1055.59L376.65,1050.80M368.87,1052.53L374.31,1048.12M366.43,1049.27L372.17,1045.28M364.23,1045.85L370.25,1042.29M362.29,1042.28L368.56,1039.16M360.61,1038.57L367.10,1035.93M359.22,1034.75L365.87,1032.59M358.10,1030.84L364.90,1029.17M357.28,1026.86L364.18,1025.69M356.75,1022.82L363.72,1022.16M356.51,1018.76L363.51,1018.62M356.58,1014.70L363.57,1015.06M356.94,1010.64L363.88,1011.52M357.59,1006.63L364.46,1008.01M358.54,1002.67L365.29,1004.56M359.78,998.80L366.37,1001.17M361.30,995.03L367.69,997.87M363.09,991.37L369.26,994.68M365.14,987.86L371.05,991.61M367.44,984.51L373.06,988.68M369.99,981.34L375.29,985.91M372.76,978.36L377.71,983.31M375.74,975.59L380.31,980.89M378.91,973.04L383.08,978.66M382.26,970.74L386.01,976.65M385.77,968.69L389.08,974.86M389.43,966.90L392.27,973.29M393.20,965.38L395.57,971.97M397.07,964.14L398.96,970.89M401.03,963.19L402.41,970.06M405.04,962.54L405.92,969.48M409.10,962.18L409.46,969.17M413.16,962.11L413.02,969.11M417.22,962.35L416.56,969.32M421.26,962.88L420.09,969.78M425.24,963.70L423.57,970.50M429.15,964.82L426.99,971.47M432.97,966.21L430.33,972.70M436.68,967.89L433.56,974.16M440.25,969.83L436.69,975.85M443.67,972.03L439.68,977.77M446.93,974.47L442.52,979.91M449.99,977.14L445.20,982.25M452.85,980.03L447.70,984.77M455.49,983.13L450.01,987.47M457.90,986.40L452.11,990.34M460.06,989.85L454.00,993.35M461.97,993.44L455.67,996.49M463.60,997.17L457.09,999.75M464.96,1001.00L458.28,1003.10M466.03,1004.93L459.22,1006.52" stroke="#f4d84a" stroke-width="1.1" fill="none"/>
<path d="M466.66,1007.96 A55.5,55.5 0 0 1 384.25,1065.66" fill="none" stroke="#f4d84a" stroke-width="1.1"/>
<path d="M459.76,1009.18 A48.5,48.5 0 0 1 387.75,1059.60" fill="none" stroke="#f4d84a" stroke-width="1.1"/>
<text x="410.8" y="978.2" font-family="Liberation Sans" font-size="12" font-weight="bold" fill="#f4d84a" text-anchor="middle" >100</text>
<text x="391.3" y="985.9" font-family="Liberation Sans" font-size="12" font-weight="bold" fill="#f4d84a" text-anchor="middle" >90</text>
<text x="430.2" y="985.9" font-family="Liberation Sans" font-size="12" font-weight="bold" fill="#f4d84a" text-anchor="middle" >110</text>
<text x="375.8" y="997.6" font-family="Liberation Sans" font-size="12" font-weight="bold" fill="#f4d84a" text-anchor="middle" >80</text>
<text x="447.1" y="1007.3" font-family="Liberation Sans" font-size="12" font-weight="bold" fill="#f4d84a" text-anchor="middle" >120</text>
<text x="369.3" y="1020.3" font-family="Liberation Sans" font-size="12" font-weight="bold" fill="#f4d84a" text-anchor="middle" >70</text>
<text x="372.5" y="1037.8" font-family="Liberation Sans" font-size="12" font-weight="bold" fill="#f4d84a" text-anchor="middle" >60</text>
<text x="448.4" y="1034.6" font-family="Liberation Sans" font-size="12" font-weight="bold" fill="#f4d84a" text-anchor="middle" >130</text>
<text x="385.5" y="1055.9" font-family="Liberation Sans" font-size="12" font-weight="bold" fill="#f4d84a" text-anchor="middle" >40</text>
<text x="398.4" y="1062.4" font-family="Liberation Sans" font-size="12" font-weight="bold" fill="#f4d84a" text-anchor="middle" >25</text>
<text x="421.8" y="1062.4" font-family="Liberation Sans" font-size="12" font-weight="bold" fill="#f4d84a" text-anchor="middle" >140</text>
<text x="412.7" y="991.5" font-family="Liberation Sans" font-size="11" font-weight="bold" fill="#f4d84a" text-anchor="middle" >°C</text>
<text x="411.4" y="1003.5" font-family="Liberation Sans" font-size="12" font-weight="bold" fill="#f4d84a" text-anchor="middle" textLength="35.6" lengthAdjust="spacingAndGlyphs" >SMAR</text>
<text x="410.8" y="1028.2" font-family="Liberation Sans" font-size="8.5" font-weight="normal" fill="#f4d84a" text-anchor="middle" textLength="53.8" lengthAdjust="spacingAndGlyphs" >TEMPERATURA</text>
<text x="411.4" y="1043.5" font-family="Liberation Sans" font-size="8" font-weight="normal" fill="#f2f2f2" text-anchor="middle" textLength="67.0" lengthAdjust="spacingAndGlyphs" >G.Gerlach Warszawa</text>
<circle cx="412.5" cy="1007.0" r="2.5" fill="#8a8a8a" stroke="none" stroke-width="1" />
<circle cx="412.5" cy="1033.0" r="2.5" fill="#8a8a8a" stroke="none" stroke-width="1" />
<polygon points="422.4,1011.7 413.2,1019.4 413.2,1019.4 410.8,1015.8 410.8,1015.8 421.6,1010.3" fill="#03070b"/>
<polygon points="366.8,1030.2 411.6,1016.3 411.6,1016.3 412.4,1018.9 412.4,1018.9 367.2,1031.8" fill="#e6dfb0"/>
<circle cx="412.0" cy="1017.6" r="5.0" fill="#03070b" stroke="none" stroke-width="1" />
<rect x="490.5" y="952.7" width="131.5" height="137.3" rx="6" fill="#121d24"/>
<circle cx="500.5" cy="961.7" r="7.4" fill="#8f8f8f"/><line x1="496.4" y1="965.8" x2="504.6" y2="957.6" stroke="#4a4a4a" stroke-width="1.3"/>
<circle cx="612.9" cy="961.7" r="7.4" fill="#8f8f8f"/><line x1="608.8" y1="965.8" x2="617.0" y2="957.6" stroke="#4a4a4a" stroke-width="1.3"/>
<circle cx="500.5" cy="1073.0" r="7.4" fill="#8f8f8f"/><line x1="496.4" y1="1077.1" x2="504.6" y2="1068.9" stroke="#4a4a4a" stroke-width="1.3"/>
<circle cx="612.9" cy="1073.0" r="7.4" fill="#8f8f8f"/><line x1="608.8" y1="1077.1" x2="617.0" y2="1068.9" stroke="#4a4a4a" stroke-width="1.3"/>
<circle cx="557.0" cy="1017.6" r="62.5" fill="#03070b" stroke="none" stroke-width="1" />
<circle cx="557.0" cy="1017.6" r="57.0" fill="#c4a81c" stroke="none" stroke-width="1" />
<circle cx="557.0" cy="1017.6" r="56.0" fill="none" stroke="#f4d84a" stroke-width="1.1" />
<circle cx="557.0" cy="1017.6" r="49.0" fill="none" stroke="#f4d84a" stroke-width="1.1" />
<path d="M557.00,961.60L557.00,968.60M561.88,961.81L561.27,968.79M566.72,962.45L565.51,969.34M571.49,963.51L569.68,970.27M576.15,964.98L573.76,971.56M580.67,966.85L577.71,973.19M585.00,969.10L581.50,975.16M589.12,971.73L585.11,977.46M593.00,974.70L588.50,980.06M596.60,978.00L591.65,982.95M599.90,981.60L594.54,986.10M602.87,985.48L597.14,989.49M605.50,989.60L599.44,993.10M607.75,993.93L601.41,996.89M609.62,998.45L603.04,1000.84M611.09,1003.11L604.33,1004.92M612.15,1007.88L605.26,1009.09M612.79,1012.72L605.81,1013.33M613.00,1017.60L606.00,1017.60M612.79,1022.48L605.81,1021.87M612.15,1027.32L605.26,1026.11M611.09,1032.09L604.33,1030.28M609.62,1036.75L603.04,1034.36M607.75,1041.27L601.41,1038.31M605.50,1045.60L599.44,1042.10M602.87,1049.72L597.14,1045.71M599.90,1053.60L594.54,1049.10M596.60,1057.20L591.65,1052.25M593.00,1060.50L588.50,1055.14M589.12,1063.47L585.11,1057.74M585.00,1066.10L581.50,1060.04M580.67,1068.35L577.71,1062.01M576.15,1070.22L573.76,1063.64M571.49,1071.69L569.68,1064.93M566.72,1072.75L565.51,1065.86M561.88,1073.39L561.27,1066.41M557.00,1073.60L557.00,1066.60M552.12,1073.39L552.73,1066.41M547.28,1072.75L548.49,1065.86M542.51,1071.69L544.32,1064.93M537.85,1070.22L540.24,1063.64M533.33,1068.35L536.29,1062.01M529.00,1066.10L532.50,1060.04M524.88,1063.47L528.89,1057.74M521.00,1060.50L525.50,1055.14M517.40,1057.20L522.35,1052.25M514.10,1053.60L519.46,1049.10M511.13,1049.72L516.86,1045.71M508.50,1045.60L514.56,1042.10M506.25,1041.27L512.59,1038.31M504.38,1036.75L510.96,1034.36M502.91,1032.09L509.67,1030.28M501.85,1027.32L508.74,1026.11M501.21,1022.48L508.19,1021.87M501.00,1017.60L508.00,1017.60M501.21,1012.72L508.19,1013.33M501.85,1007.88L508.74,1009.09M502.91,1003.11L509.67,1004.92M504.38,998.45L510.96,1000.84M506.25,993.93L512.59,996.89M508.50,989.60L514.56,993.10M511.13,985.48L516.86,989.49M514.10,981.60L519.46,986.10M517.40,978.00L522.35,982.95M521.00,974.70L525.50,980.06M524.88,971.73L528.89,977.46M529.00,969.10L532.50,975.16M533.33,966.85L536.29,973.19M537.85,964.98L540.24,971.56M542.51,963.51L544.32,970.27M547.28,962.45L548.49,969.34M552.12,961.81L552.73,968.79M557.00,961.60L557.00,968.60" stroke="#f4d84a" stroke-width="1.1" fill="none"/>
<text x="560.0" y="980.0" font-family="Liberation Sans" font-size="13" font-weight="bold" fill="#f4d84a" text-anchor="middle" >5</text>
<text x="535.8" y="983.0" font-family="Liberation Sans" font-size="13" font-weight="bold" fill="#f4d84a" text-anchor="middle" >4</text>
<text x="576.6" y="984.5" font-family="Liberation Sans" font-size="13" font-weight="bold" fill="#f4d84a" text-anchor="middle" >6</text>
<text x="520.7" y="1001.7" font-family="Liberation Sans" font-size="13" font-weight="bold" fill="#f4d84a" text-anchor="middle" >3</text>
<text x="593.2" y="1001.7" font-family="Liberation Sans" font-size="13" font-weight="bold" fill="#f4d84a" text-anchor="middle" >7</text>
<text x="514.7" y="1022.9" font-family="Liberation Sans" font-size="13" font-weight="bold" fill="#f4d84a" text-anchor="middle" >2</text>
<text x="599.3" y="1022.9" font-family="Liberation Sans" font-size="13" font-weight="bold" fill="#f4d84a" text-anchor="middle" >8</text>
<text x="519.2" y="1042.0" font-family="Liberation Sans" font-size="13" font-weight="bold" fill="#f4d84a" text-anchor="middle" >1</text>
<text x="594.7" y="1042.0" font-family="Liberation Sans" font-size="13" font-weight="bold" fill="#f4d84a" text-anchor="middle" >9</text>
<text x="535.8" y="1060.1" font-family="Liberation Sans" font-size="13" font-weight="bold" fill="#f4d84a" text-anchor="middle" >0</text>
<text x="575.1" y="1060.1" font-family="Liberation Sans" font-size="13" font-weight="bold" fill="#f4d84a" text-anchor="middle" >10</text>
<text x="557.0" y="1002.3" font-family="Liberation Sans" font-size="12" font-weight="bold" fill="#f4d84a" text-anchor="middle" textLength="37.0" lengthAdjust="spacingAndGlyphs" >SMAR</text>
<text x="557.0" y="1031.3" font-family="Liberation Sans" font-size="11" font-weight="bold" fill="#f4d84a" text-anchor="middle" textLength="49.0" lengthAdjust="spacingAndGlyphs" >CIŚNIENIE</text>
<text x="557.0" y="1044.1" font-family="Liberation Sans" font-size="8" font-weight="normal" fill="#f2f2f2" text-anchor="middle" textLength="67.0" lengthAdjust="spacingAndGlyphs" >G.Gerlach Warszawa</text>
<text x="557.0" y="1065.5" font-family="Liberation Sans" font-size="7" font-weight="normal" fill="#f4d84a" text-anchor="middle" >kg/cm²</text>
<polygon points="574.3,1054.3 555.0,1018.6 555.0,1018.6 559.0,1016.6 559.0,1016.6 575.7,1053.5" fill="#5a5a4a"/>
<polygon points="535.0,977.9 558.1,1016.9 558.1,1016.9 555.9,1018.3 555.9,1018.3 533.6,978.7" fill="#f0d040"/>
<polygon points="534,976 544,986 538,990" fill="#f0c040"/>
<circle cx="557.0" cy="1017.6" r="5.0" fill="#5a5a4a" stroke="none" stroke-width="1" />
<circle cx="557.0" cy="1006.0" r="2.3" fill="#8a8a8a" stroke="none" stroke-width="1" />
<circle cx="557.0" cy="1031.0" r="2.3" fill="#8a8a8a" stroke="none" stroke-width="1" />
<rect x="248" y="793.7" width="84" height="56.3" fill="#efe7ea"/>
<rect x="252" y="797.5" width="76" height="48.5" fill="none" stroke="#e03020" stroke-width="1"/>
<text x="290.0" y="806.5" font-family="Liberation Sans" font-size="6" font-weight="bold" fill="#e0301e" text-anchor="middle" textLength="68.0" lengthAdjust="spacingAndGlyphs" >W RAZIE PRZERWANIA PRACY SIL-</text>
<text x="290.0" y="813.4" font-family="Liberation Sans" font-size="6" font-weight="bold" fill="#e0301e" text-anchor="middle" textLength="68.0" lengthAdjust="spacingAndGlyphs" >NIKA W POWIETRZU DOPROWADZIC</text>
<text x="290.0" y="820.3" font-family="Liberation Sans" font-size="6" font-weight="bold" fill="#e0301e" text-anchor="middle" textLength="68.0" lengthAdjust="spacingAndGlyphs" >PLATOWIEC DO LOTU POZIOMEGO,</text>
<text x="290.0" y="827.2" font-family="Liberation Sans" font-size="6" font-weight="bold" fill="#e0301e" text-anchor="middle" textLength="68.0" lengthAdjust="spacingAndGlyphs" >POCIAGNAC RACZKE I PRZYTRZY-</text>
<text x="290.0" y="834.1" font-family="Liberation Sans" font-size="6" font-weight="bold" fill="#e0301e" text-anchor="middle" textLength="68.0" lengthAdjust="spacingAndGlyphs" >MAC DOPOKI SILNIK NIE ZACZNIE</text>
<text x="290.0" y="841.0" font-family="Liberation Sans" font-size="6" font-weight="bold" fill="#e0301e" text-anchor="middle" textLength="46.0" lengthAdjust="spacingAndGlyphs" >PRACOWAC NORMALNIE</text>
<circle cx="251.5" cy="797.0" r="2.3" fill="#8a8a8a" stroke="none" stroke-width="1" />
<circle cx="328.5" cy="797.0" r="2.3" fill="#8a8a8a" stroke="none" stroke-width="1" />
<circle cx="251.5" cy="847.0" r="2.3" fill="#8a8a8a" stroke="none" stroke-width="1" />
<circle cx="328.5" cy="847.0" r="2.3" fill="#8a8a8a" stroke="none" stroke-width="1" />
<path d="M360.5,719.6 Q380.5,736.6 400.5,719.6 Q416.2,732.3 428.9,748 Q411.9,768 428.9,788 Q416.2,803.7 400.5,816.4 Q380.5,799.4 360.5,816.4 Q344.8,803.7 332.1,788 Q349.1,768 332.1,748 Q344.8,732.3 360.5,719.6 Z" fill="#fbee24"/>
<circle cx="380.5" cy="768.0" r="34.6" fill="none" stroke="#eadc22" stroke-width="1" />
<path d="M356.5,747 Q362.5,740 368.5,738" fill="none" stroke="#222" stroke-width="1.3"/><path d="M404.5,747 Q398.5,740 392.5,738" fill="none" stroke="#222" stroke-width="1.3"/>
<polygon points="355.5,748.5 356.0,743 360.0,745.5" fill="#222"/><polygon points="405.5,748.5 405.0,743 401.0,745.5" fill="#222"/>
<text x="372.5" y="742.0" font-family="Liberation Sans" font-size="10" font-weight="bold" fill="#222" text-anchor="middle" >Z</text>
<text x="387.0" y="742.0" font-family="Liberation Sans" font-size="10" font-weight="bold" fill="#222" text-anchor="middle" >0</text>
<path d="M1190.3,883.8000000000001 Q1210.3,900.8000000000001 1230.3,883.8000000000001 Q1246.0,896.5 1258.7,912.2 Q1241.7,932.2 1258.7,952.2 Q1246.0,967.9000000000001 1230.3,980.6 Q1210.3,963.6 1190.3,980.6 Q1174.6,967.9000000000001 1161.8999999999999,952.2 Q1178.8999999999999,932.2 1161.8999999999999,912.2 Q1174.6,896.5 1190.3,883.8000000000001 Z" fill="#fbee24"/>
<circle cx="1210.3" cy="932.2" r="34.6" fill="none" stroke="#eadc22" stroke-width="1" />
<path d="M1186.3,911.2 Q1192.3,904.2 1198.3,902.2" fill="none" stroke="#222" stroke-width="1.3"/><path d="M1234.3,911.2 Q1228.3,904.2 1222.3,902.2" fill="none" stroke="#222" stroke-width="1.3"/>
<polygon points="1185.3,912.7 1185.8,907.2 1189.8,909.7" fill="#222"/><polygon points="1235.3,912.7 1234.8,907.2 1230.8,909.7" fill="#222"/>
<text x="1202.3" y="906.2" font-family="Liberation Sans" font-size="10" font-weight="bold" fill="#222" text-anchor="middle" >Z</text>
<text x="1216.8" y="906.2" font-family="Liberation Sans" font-size="10" font-weight="bold" fill="#222" text-anchor="middle" >0</text>
<polygon points="305.5,849.7 317.2,858.7 330.9,864.4 334.2,878.8 341.0,892.0 334.2,905.2 330.9,919.6 317.2,925.3 305.5,934.3 291.3,929.9 276.5,929.2 268.5,916.7 257.6,906.7 259.5,892.0 257.6,877.3 268.5,867.3 276.5,854.8 291.3,854.1" fill="#fbee24"/>
<circle cx="298.0" cy="892.0" r="38.0" fill="#fae826" stroke="none" stroke-width="1" />
<circle cx="298.0" cy="892.0" r="35.5" fill="none" stroke="#8a8a80" stroke-width="2" />
<text x="298.0" y="898.0" font-family="Liberation Sans" font-size="15" font-weight="bold" fill="#b0a430" text-anchor="middle" textLength="62.0" lengthAdjust="spacingAndGlyphs" transform="rotate(25 298 892)">BENZYNA</text>
<circle cx="495.6" cy="550.4" r="3.8" fill="#9a9a9a"/>
<circle cx="1014.3" cy="550.4" r="3.8" fill="#9a9a9a"/>
<circle cx="1051.5" cy="599.5" r="3.8" fill="#9a9a9a"/>
<circle cx="421.4" cy="647.6" r="3.8" fill="#9a9a9a"/>
<circle cx="1088.3" cy="647.3" r="3.8" fill="#9a9a9a"/>
<circle cx="378.2" cy="692.0" r="3.8" fill="#9a9a9a"/>
<circle cx="1131.1" cy="692.4" r="3.8" fill="#9a9a9a"/>
<circle cx="336.3" cy="731.6" r="3.8" fill="#9a9a9a"/>
<circle cx="1173.5" cy="731.3" r="3.8" fill="#9a9a9a"/>
<circle cx="288.6" cy="774.2" r="3.8" fill="#9a9a9a"/>
<circle cx="1221.5" cy="774.2" r="3.8" fill="#9a9a9a"/>
<circle cx="238.8" cy="817.2" r="3.8" fill="#9a9a9a"/>
<circle cx="1270.4" cy="813.9" r="3.8" fill="#9a9a9a"/>
<circle cx="192.2" cy="855.0" r="3.8" fill="#9a9a9a"/>
<circle cx="1317.2" cy="855.4" r="3.8" fill="#9a9a9a"/>
<circle cx="144.5" cy="896.8" r="3.8" fill="#9a9a9a"/>
<circle cx="1365.2" cy="897.2" r="3.8" fill="#9a9a9a"/>
<circle cx="91.5" cy="946.5" r="3.8" fill="#9a9a9a"/>
<circle cx="1418.3" cy="947.5" r="3.8" fill="#9a9a9a"/>
<circle cx="43.8" cy="1002.2" r="3.8" fill="#9a9a9a"/>
<circle cx="1466.3" cy="1003.3" r="3.8" fill="#9a9a9a"/>
<circle cx="923.3" cy="993.3" r="3.8" fill="#9a9a9a"/>
<circle cx="947.4" cy="993.3" r="3.8" fill="#9a9a9a"/>
<circle cx="935.6" cy="1016.7" r="3.8" fill="#9a9a9a"/>
</svg></body></html>
